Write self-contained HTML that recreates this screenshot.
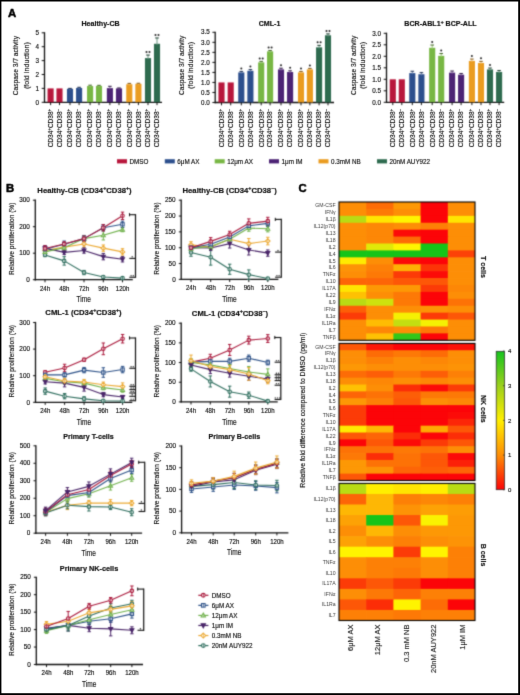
<!DOCTYPE html>
<html><head><meta charset="utf-8"><title>Figure</title>
<style>
html,body{margin:0;padding:0;background:#fff;}
body{width:520px;height:695px;overflow:hidden;position:relative;}
.bd{position:absolute;left:0;top:0;filter:none !important;}
svg{display:block;font-family:"Liberation Sans", sans-serif;}
</style></head><body>
<svg width="520" height="695" viewBox="0 0 520 695">
<defs><filter id="bl" x="0" y="0" width="520" height="695" filterUnits="userSpaceOnUse" color-interpolation-filters="sRGB"><feConvolveMatrix order="3" kernelMatrix="1 4 1 4 16 4 1 4 1" divisor="36" edgeMode="duplicate" preserveAlpha="true"/></filter>
<filter id="bt" x="0" y="0" width="520" height="695" filterUnits="userSpaceOnUse" color-interpolation-filters="sRGB"><feConvolveMatrix order="3" kernelMatrix="0 1 0 1 8 1 0 1 0" divisor="12" edgeMode="none"/></filter></defs>
<g filter="url(#bl)">
<rect x="0" y="0" width="520" height="695" fill="#fff"/>
<line x1="44.5" y1="32.2" x2="44.5" y2="103" stroke="#111" stroke-width="1.3"/>
<line x1="43.9" y1="102.3" x2="162" y2="102.3" stroke="#111" stroke-width="1.3"/>
<line x1="41.7" y1="102.3" x2="44.5" y2="102.3" stroke="#111" stroke-width="1"/>
<line x1="41.7" y1="88.4" x2="44.5" y2="88.4" stroke="#111" stroke-width="1"/>
<line x1="41.7" y1="74.5" x2="44.5" y2="74.5" stroke="#111" stroke-width="1"/>
<line x1="41.7" y1="60.6" x2="44.5" y2="60.6" stroke="#111" stroke-width="1"/>
<line x1="41.7" y1="46.7" x2="44.5" y2="46.7" stroke="#111" stroke-width="1"/>
<line x1="41.7" y1="32.8" x2="44.5" y2="32.8" stroke="#111" stroke-width="1"/>
<rect x="47.55" y="88.4" width="6.1" height="13.9" fill="#b8173c"/>
<line x1="50.6" y1="102.3" x2="50.6" y2="105.1" stroke="#111" stroke-width="1"/>
<rect x="56.45" y="88.4" width="6.1" height="13.9" fill="#b8173c"/>
<line x1="59.5" y1="102.3" x2="59.5" y2="105.1" stroke="#111" stroke-width="1"/>
<rect x="66.95" y="88.82" width="6.1" height="13.48" fill="#2c4f8d"/>
<line x1="70" y1="88.4" x2="70" y2="89.82" stroke="#6b83af" stroke-width="1"/>
<line x1="68.2" y1="88.4" x2="71.8" y2="88.4" stroke="#182b4d" stroke-width="1"/>
<line x1="70" y1="102.3" x2="70" y2="105.1" stroke="#111" stroke-width="1"/>
<rect x="76.05" y="87.98" width="6.1" height="14.32" fill="#2c4f8d"/>
<line x1="79.1" y1="87.29" x2="79.1" y2="88.98" stroke="#6b83af" stroke-width="1"/>
<line x1="77.3" y1="87.29" x2="80.9" y2="87.29" stroke="#182b4d" stroke-width="1"/>
<line x1="79.1" y1="102.3" x2="79.1" y2="105.1" stroke="#111" stroke-width="1"/>
<rect x="87.05" y="86.04" width="6.1" height="16.26" fill="#78b744"/>
<line x1="90.1" y1="85.2" x2="90.1" y2="87.04" stroke="#a0cc7c" stroke-width="1"/>
<line x1="88.3" y1="85.2" x2="91.9" y2="85.2" stroke="#426425" stroke-width="1"/>
<line x1="90.1" y1="102.3" x2="90.1" y2="105.1" stroke="#111" stroke-width="1"/>
<rect x="95.95" y="85.9" width="6.1" height="16.4" fill="#78b744"/>
<line x1="99" y1="85.34" x2="99" y2="86.9" stroke="#a0cc7c" stroke-width="1"/>
<line x1="97.2" y1="85.34" x2="100.8" y2="85.34" stroke="#426425" stroke-width="1"/>
<line x1="99" y1="102.3" x2="99" y2="105.1" stroke="#111" stroke-width="1"/>
<rect x="106.85" y="88.12" width="6.1" height="14.18" fill="#4c2374"/>
<line x1="109.9" y1="86.31" x2="109.9" y2="89.12" stroke="#81659d" stroke-width="1"/>
<line x1="108.1" y1="86.31" x2="111.7" y2="86.31" stroke="#29133f" stroke-width="1"/>
<line x1="109.9" y1="102.3" x2="109.9" y2="105.1" stroke="#111" stroke-width="1"/>
<rect x="115.95" y="88.4" width="6.1" height="13.9" fill="#4c2374"/>
<line x1="119" y1="87.98" x2="119" y2="89.4" stroke="#81659d" stroke-width="1"/>
<line x1="117.2" y1="87.98" x2="120.8" y2="87.98" stroke="#29133f" stroke-width="1"/>
<line x1="119" y1="102.3" x2="119" y2="105.1" stroke="#111" stroke-width="1"/>
<rect x="126.25" y="84.23" width="6.1" height="18.07" fill="#ea9c20"/>
<line x1="129.3" y1="83.4" x2="129.3" y2="85.23" stroke="#f0b962" stroke-width="1"/>
<line x1="127.5" y1="83.4" x2="131.1" y2="83.4" stroke="#805511" stroke-width="1"/>
<line x1="129.3" y1="102.3" x2="129.3" y2="105.1" stroke="#111" stroke-width="1"/>
<rect x="135.35" y="83.81" width="6.1" height="18.49" fill="#ea9c20"/>
<line x1="138.4" y1="83.26" x2="138.4" y2="84.81" stroke="#f0b962" stroke-width="1"/>
<line x1="136.6" y1="83.26" x2="140.2" y2="83.26" stroke="#805511" stroke-width="1"/>
<line x1="138.4" y1="102.3" x2="138.4" y2="105.1" stroke="#111" stroke-width="1"/>
<rect x="144.95" y="58.1" width="6.1" height="44.2" fill="#2e6b4f"/>
<line x1="148" y1="55.04" x2="148" y2="59.1" stroke="#6c9783" stroke-width="1"/>
<line x1="146.2" y1="55.04" x2="149.8" y2="55.04" stroke="#193a2b" stroke-width="1"/>
<line x1="148" y1="102.3" x2="148" y2="105.1" stroke="#111" stroke-width="1"/>
<circle cx="146.5" cy="52.04" r="1" fill="#222"/>
<circle cx="149.5" cy="52.04" r="1" fill="#222"/>
<rect x="153.95" y="43.78" width="6.1" height="58.52" fill="#2e6b4f"/>
<line x1="157" y1="37.94" x2="157" y2="44.78" stroke="#6c9783" stroke-width="1"/>
<line x1="155.2" y1="37.94" x2="158.8" y2="37.94" stroke="#193a2b" stroke-width="1"/>
<line x1="157" y1="102.3" x2="157" y2="105.1" stroke="#111" stroke-width="1"/>
<circle cx="155.5" cy="34.94" r="1" fill="#222"/>
<circle cx="158.5" cy="34.94" r="1" fill="#222"/>
<line x1="215.2" y1="31.69" x2="215.2" y2="103.2" stroke="#111" stroke-width="1.3"/>
<line x1="214.6" y1="102.5" x2="334" y2="102.5" stroke="#111" stroke-width="1.3"/>
<line x1="212.4" y1="102.5" x2="215.2" y2="102.5" stroke="#111" stroke-width="1"/>
<line x1="212.4" y1="92.47" x2="215.2" y2="92.47" stroke="#111" stroke-width="1"/>
<line x1="212.4" y1="82.44" x2="215.2" y2="82.44" stroke="#111" stroke-width="1"/>
<line x1="212.4" y1="72.41" x2="215.2" y2="72.41" stroke="#111" stroke-width="1"/>
<line x1="212.4" y1="62.38" x2="215.2" y2="62.38" stroke="#111" stroke-width="1"/>
<line x1="212.4" y1="52.35" x2="215.2" y2="52.35" stroke="#111" stroke-width="1"/>
<line x1="212.4" y1="42.32" x2="215.2" y2="42.32" stroke="#111" stroke-width="1"/>
<line x1="212.4" y1="32.29" x2="215.2" y2="32.29" stroke="#111" stroke-width="1"/>
<rect x="218.45" y="82.44" width="6.1" height="20.06" fill="#b8173c"/>
<line x1="221.5" y1="102.5" x2="221.5" y2="105.3" stroke="#111" stroke-width="1"/>
<rect x="227.65" y="82.44" width="6.1" height="20.06" fill="#b8173c"/>
<line x1="230.7" y1="102.5" x2="230.7" y2="105.3" stroke="#111" stroke-width="1"/>
<rect x="238.25" y="72.41" width="6.1" height="30.09" fill="#2c4f8d"/>
<line x1="241.3" y1="71.41" x2="241.3" y2="73.41" stroke="#6b83af" stroke-width="1"/>
<line x1="239.5" y1="71.41" x2="243.1" y2="71.41" stroke="#182b4d" stroke-width="1"/>
<line x1="241.3" y1="102.5" x2="241.3" y2="105.3" stroke="#111" stroke-width="1"/>
<circle cx="241.3" cy="68.41" r="1" fill="#222"/>
<rect x="247.35" y="70.81" width="6.1" height="31.69" fill="#2c4f8d"/>
<line x1="250.4" y1="69.6" x2="250.4" y2="71.81" stroke="#6b83af" stroke-width="1"/>
<line x1="248.6" y1="69.6" x2="252.2" y2="69.6" stroke="#182b4d" stroke-width="1"/>
<line x1="250.4" y1="102.5" x2="250.4" y2="105.3" stroke="#111" stroke-width="1"/>
<circle cx="250.4" cy="66.6" r="1" fill="#222"/>
<rect x="258.15" y="62.38" width="6.1" height="40.12" fill="#78b744"/>
<line x1="261.2" y1="61.38" x2="261.2" y2="63.38" stroke="#a0cc7c" stroke-width="1"/>
<line x1="259.4" y1="61.38" x2="263" y2="61.38" stroke="#426425" stroke-width="1"/>
<line x1="261.2" y1="102.5" x2="261.2" y2="105.3" stroke="#111" stroke-width="1"/>
<circle cx="259.7" cy="58.38" r="1" fill="#222"/>
<circle cx="262.7" cy="58.38" r="1" fill="#222"/>
<rect x="267.05" y="51.35" width="6.1" height="51.15" fill="#78b744"/>
<line x1="270.1" y1="50.54" x2="270.1" y2="52.35" stroke="#a0cc7c" stroke-width="1"/>
<line x1="268.3" y1="50.54" x2="271.9" y2="50.54" stroke="#426425" stroke-width="1"/>
<line x1="270.1" y1="102.5" x2="270.1" y2="105.3" stroke="#111" stroke-width="1"/>
<circle cx="268.6" cy="47.54" r="1" fill="#222"/>
<circle cx="271.6" cy="47.54" r="1" fill="#222"/>
<rect x="277.95" y="69.4" width="6.1" height="33.1" fill="#4c2374"/>
<line x1="281" y1="68.2" x2="281" y2="70.4" stroke="#81659d" stroke-width="1"/>
<line x1="279.2" y1="68.2" x2="282.8" y2="68.2" stroke="#29133f" stroke-width="1"/>
<line x1="281" y1="102.5" x2="281" y2="105.3" stroke="#111" stroke-width="1"/>
<circle cx="281" cy="65.2" r="1" fill="#222"/>
<rect x="287.05" y="72.01" width="6.1" height="30.49" fill="#4c2374"/>
<line x1="290.1" y1="70.81" x2="290.1" y2="73.01" stroke="#81659d" stroke-width="1"/>
<line x1="288.3" y1="70.81" x2="291.9" y2="70.81" stroke="#29133f" stroke-width="1"/>
<line x1="290.1" y1="102.5" x2="290.1" y2="105.3" stroke="#111" stroke-width="1"/>
<circle cx="290.1" cy="67.81" r="1" fill="#222"/>
<rect x="297.95" y="72.41" width="6.1" height="30.09" fill="#ea9c20"/>
<line x1="301" y1="71.41" x2="301" y2="73.41" stroke="#f0b962" stroke-width="1"/>
<line x1="299.2" y1="71.41" x2="302.8" y2="71.41" stroke="#805511" stroke-width="1"/>
<line x1="301" y1="102.5" x2="301" y2="105.3" stroke="#111" stroke-width="1"/>
<circle cx="301" cy="68.41" r="1" fill="#222"/>
<rect x="306.85" y="69.4" width="6.1" height="33.1" fill="#ea9c20"/>
<line x1="309.9" y1="68.4" x2="309.9" y2="70.4" stroke="#f0b962" stroke-width="1"/>
<line x1="308.1" y1="68.4" x2="311.7" y2="68.4" stroke="#805511" stroke-width="1"/>
<line x1="309.9" y1="102.5" x2="309.9" y2="105.3" stroke="#111" stroke-width="1"/>
<circle cx="309.9" cy="65.4" r="1" fill="#222"/>
<rect x="316.05" y="47.34" width="6.1" height="55.16" fill="#2e6b4f"/>
<line x1="319.1" y1="45.33" x2="319.1" y2="48.34" stroke="#6c9783" stroke-width="1"/>
<line x1="317.3" y1="45.33" x2="320.9" y2="45.33" stroke="#193a2b" stroke-width="1"/>
<line x1="319.1" y1="102.5" x2="319.1" y2="105.3" stroke="#111" stroke-width="1"/>
<circle cx="317.6" cy="42.33" r="1" fill="#222"/>
<circle cx="320.6" cy="42.33" r="1" fill="#222"/>
<rect x="324.95" y="35.3" width="6.1" height="67.2" fill="#2e6b4f"/>
<line x1="328" y1="33.89" x2="328" y2="36.3" stroke="#6c9783" stroke-width="1"/>
<line x1="326.2" y1="33.89" x2="329.8" y2="33.89" stroke="#193a2b" stroke-width="1"/>
<line x1="328" y1="102.5" x2="328" y2="105.3" stroke="#111" stroke-width="1"/>
<circle cx="326.5" cy="30.89" r="1" fill="#222"/>
<circle cx="329.5" cy="30.89" r="1" fill="#222"/>
<line x1="386.5" y1="32.7" x2="386.5" y2="103" stroke="#111" stroke-width="1.3"/>
<line x1="385.9" y1="102.3" x2="504.2" y2="102.3" stroke="#111" stroke-width="1.3"/>
<line x1="383.7" y1="102.3" x2="386.5" y2="102.3" stroke="#111" stroke-width="1"/>
<line x1="383.7" y1="90.8" x2="386.5" y2="90.8" stroke="#111" stroke-width="1"/>
<line x1="383.7" y1="79.3" x2="386.5" y2="79.3" stroke="#111" stroke-width="1"/>
<line x1="383.7" y1="67.8" x2="386.5" y2="67.8" stroke="#111" stroke-width="1"/>
<line x1="383.7" y1="56.3" x2="386.5" y2="56.3" stroke="#111" stroke-width="1"/>
<line x1="383.7" y1="44.8" x2="386.5" y2="44.8" stroke="#111" stroke-width="1"/>
<line x1="383.7" y1="33.3" x2="386.5" y2="33.3" stroke="#111" stroke-width="1"/>
<rect x="389.75" y="79.3" width="6.1" height="23" fill="#b8173c"/>
<line x1="392.8" y1="102.3" x2="392.8" y2="105.1" stroke="#111" stroke-width="1"/>
<rect x="398.75" y="79.3" width="6.1" height="23" fill="#b8173c"/>
<line x1="401.8" y1="102.3" x2="401.8" y2="105.1" stroke="#111" stroke-width="1"/>
<rect x="409.25" y="73.09" width="6.1" height="29.21" fill="#2c4f8d"/>
<line x1="412.3" y1="71.25" x2="412.3" y2="74.09" stroke="#6b83af" stroke-width="1"/>
<line x1="410.5" y1="71.25" x2="414.1" y2="71.25" stroke="#182b4d" stroke-width="1"/>
<line x1="412.3" y1="102.3" x2="412.3" y2="105.1" stroke="#111" stroke-width="1"/>
<rect x="418.35" y="74.24" width="6.1" height="28.06" fill="#2c4f8d"/>
<line x1="421.4" y1="72.63" x2="421.4" y2="75.24" stroke="#6b83af" stroke-width="1"/>
<line x1="419.6" y1="72.63" x2="423.2" y2="72.63" stroke="#182b4d" stroke-width="1"/>
<line x1="421.4" y1="102.3" x2="421.4" y2="105.1" stroke="#111" stroke-width="1"/>
<rect x="429.15" y="47.79" width="6.1" height="54.51" fill="#78b744"/>
<line x1="432.2" y1="45.03" x2="432.2" y2="48.79" stroke="#a0cc7c" stroke-width="1"/>
<line x1="430.4" y1="45.03" x2="434" y2="45.03" stroke="#426425" stroke-width="1"/>
<line x1="432.2" y1="102.3" x2="432.2" y2="105.1" stroke="#111" stroke-width="1"/>
<circle cx="432.2" cy="42.03" r="1" fill="#222"/>
<rect x="438.15" y="55.84" width="6.1" height="46.46" fill="#78b744"/>
<line x1="441.2" y1="53.54" x2="441.2" y2="56.84" stroke="#a0cc7c" stroke-width="1"/>
<line x1="439.4" y1="53.54" x2="443" y2="53.54" stroke="#426425" stroke-width="1"/>
<line x1="441.2" y1="102.3" x2="441.2" y2="105.1" stroke="#111" stroke-width="1"/>
<circle cx="441.2" cy="50.54" r="1" fill="#222"/>
<rect x="449.05" y="72.63" width="6.1" height="29.67" fill="#4c2374"/>
<line x1="452.1" y1="71.02" x2="452.1" y2="73.63" stroke="#81659d" stroke-width="1"/>
<line x1="450.3" y1="71.02" x2="453.9" y2="71.02" stroke="#29133f" stroke-width="1"/>
<line x1="452.1" y1="102.3" x2="452.1" y2="105.1" stroke="#111" stroke-width="1"/>
<rect x="458.05" y="74.7" width="6.1" height="27.6" fill="#4c2374"/>
<line x1="461.1" y1="73.55" x2="461.1" y2="75.7" stroke="#81659d" stroke-width="1"/>
<line x1="459.3" y1="73.55" x2="462.9" y2="73.55" stroke="#29133f" stroke-width="1"/>
<line x1="461.1" y1="102.3" x2="461.1" y2="105.1" stroke="#111" stroke-width="1"/>
<rect x="468.85" y="60.9" width="6.1" height="41.4" fill="#ea9c20"/>
<line x1="471.9" y1="59.06" x2="471.9" y2="61.9" stroke="#f0b962" stroke-width="1"/>
<line x1="470.1" y1="59.06" x2="473.7" y2="59.06" stroke="#805511" stroke-width="1"/>
<line x1="471.9" y1="102.3" x2="471.9" y2="105.1" stroke="#111" stroke-width="1"/>
<circle cx="471.9" cy="56.06" r="1" fill="#222"/>
<rect x="477.95" y="62.97" width="6.1" height="39.33" fill="#ea9c20"/>
<line x1="481" y1="61.36" x2="481" y2="63.97" stroke="#f0b962" stroke-width="1"/>
<line x1="479.2" y1="61.36" x2="482.8" y2="61.36" stroke="#805511" stroke-width="1"/>
<line x1="481" y1="102.3" x2="481" y2="105.1" stroke="#111" stroke-width="1"/>
<circle cx="481" cy="58.36" r="1" fill="#222"/>
<rect x="486.95" y="69.41" width="6.1" height="32.89" fill="#2e6b4f"/>
<line x1="490" y1="68.03" x2="490" y2="70.41" stroke="#6c9783" stroke-width="1"/>
<line x1="488.2" y1="68.03" x2="491.8" y2="68.03" stroke="#193a2b" stroke-width="1"/>
<line x1="490" y1="102.3" x2="490" y2="105.1" stroke="#111" stroke-width="1"/>
<circle cx="490" cy="65.03" r="1" fill="#222"/>
<rect x="496.05" y="71.94" width="6.1" height="30.36" fill="#2e6b4f"/>
<line x1="499.1" y1="70.56" x2="499.1" y2="72.94" stroke="#6c9783" stroke-width="1"/>
<line x1="497.3" y1="70.56" x2="500.9" y2="70.56" stroke="#193a2b" stroke-width="1"/>
<line x1="499.1" y1="102.3" x2="499.1" y2="105.1" stroke="#111" stroke-width="1"/>
<rect x="117" y="159.2" width="10" height="4.2" fill="#b8173c"/>
<rect x="164.8" y="159.2" width="10" height="4.2" fill="#2c4f8d"/>
<rect x="214.7" y="159.2" width="10" height="4.2" fill="#78b744"/>
<rect x="269" y="159.2" width="10" height="4.2" fill="#4c2374"/>
<rect x="318.5" y="159.2" width="10" height="4.2" fill="#ea9c20"/>
<rect x="377" y="159.2" width="10" height="4.2" fill="#2e6b4f"/>
<line x1="35.3" y1="199.6" x2="35.3" y2="280.4" stroke="#111" stroke-width="1.3"/>
<line x1="34.7" y1="279.7" x2="132.8" y2="279.7" stroke="#111" stroke-width="1.3"/>
<line x1="32.9" y1="279.7" x2="35.3" y2="279.7" stroke="#111" stroke-width="1"/>
<line x1="32.9" y1="253.2" x2="35.3" y2="253.2" stroke="#111" stroke-width="1"/>
<line x1="32.9" y1="226.7" x2="35.3" y2="226.7" stroke="#111" stroke-width="1"/>
<line x1="32.9" y1="200.2" x2="35.3" y2="200.2" stroke="#111" stroke-width="1"/>
<line x1="45" y1="279.7" x2="45" y2="282.3" stroke="#111" stroke-width="1"/>
<line x1="64.2" y1="279.7" x2="64.2" y2="282.3" stroke="#111" stroke-width="1"/>
<line x1="84" y1="279.7" x2="84" y2="282.3" stroke="#111" stroke-width="1"/>
<line x1="103.3" y1="279.7" x2="103.3" y2="282.3" stroke="#111" stroke-width="1"/>
<line x1="122.5" y1="279.7" x2="122.5" y2="282.3" stroke="#111" stroke-width="1"/>
<line x1="45" y1="247.9" x2="45" y2="253.2" stroke="#ecaa35" stroke-width="1"/>
<line x1="43.3" y1="247.9" x2="46.7" y2="247.9" stroke="#ecaa35" stroke-width="1"/>
<line x1="43.3" y1="253.2" x2="46.7" y2="253.2" stroke="#ecaa35" stroke-width="1"/>
<line x1="64.2" y1="244.45" x2="64.2" y2="249.75" stroke="#ecaa35" stroke-width="1"/>
<line x1="62.5" y1="244.45" x2="65.9" y2="244.45" stroke="#ecaa35" stroke-width="1"/>
<line x1="62.5" y1="249.75" x2="65.9" y2="249.75" stroke="#ecaa35" stroke-width="1"/>
<line x1="84" y1="240.74" x2="84" y2="247.1" stroke="#ecaa35" stroke-width="1"/>
<line x1="82.3" y1="240.74" x2="85.7" y2="240.74" stroke="#ecaa35" stroke-width="1"/>
<line x1="82.3" y1="247.1" x2="85.7" y2="247.1" stroke="#ecaa35" stroke-width="1"/>
<line x1="103.3" y1="244.98" x2="103.3" y2="251.34" stroke="#ecaa35" stroke-width="1"/>
<line x1="101.6" y1="244.98" x2="105" y2="244.98" stroke="#ecaa35" stroke-width="1"/>
<line x1="101.6" y1="251.34" x2="105" y2="251.34" stroke="#ecaa35" stroke-width="1"/>
<line x1="122.5" y1="248.69" x2="122.5" y2="255.06" stroke="#ecaa35" stroke-width="1"/>
<line x1="120.8" y1="248.69" x2="124.2" y2="248.69" stroke="#ecaa35" stroke-width="1"/>
<line x1="120.8" y1="255.06" x2="124.2" y2="255.06" stroke="#ecaa35" stroke-width="1"/>
<line x1="45" y1="245.51" x2="45" y2="250.81" stroke="#4a2669" stroke-width="1"/>
<line x1="43.3" y1="245.51" x2="46.7" y2="245.51" stroke="#4a2669" stroke-width="1"/>
<line x1="43.3" y1="250.81" x2="46.7" y2="250.81" stroke="#4a2669" stroke-width="1"/>
<line x1="64.2" y1="250.28" x2="64.2" y2="254.52" stroke="#4a2669" stroke-width="1"/>
<line x1="62.5" y1="250.28" x2="65.9" y2="250.28" stroke="#4a2669" stroke-width="1"/>
<line x1="62.5" y1="254.52" x2="65.9" y2="254.52" stroke="#4a2669" stroke-width="1"/>
<line x1="84" y1="247.9" x2="84" y2="253.2" stroke="#4a2669" stroke-width="1"/>
<line x1="82.3" y1="247.9" x2="85.7" y2="247.9" stroke="#4a2669" stroke-width="1"/>
<line x1="82.3" y1="253.2" x2="85.7" y2="253.2" stroke="#4a2669" stroke-width="1"/>
<line x1="103.3" y1="253.46" x2="103.3" y2="259.82" stroke="#4a2669" stroke-width="1"/>
<line x1="101.6" y1="253.46" x2="105" y2="253.46" stroke="#4a2669" stroke-width="1"/>
<line x1="101.6" y1="259.82" x2="105" y2="259.82" stroke="#4a2669" stroke-width="1"/>
<line x1="122.5" y1="256.64" x2="122.5" y2="261.94" stroke="#4a2669" stroke-width="1"/>
<line x1="120.8" y1="256.64" x2="124.2" y2="256.64" stroke="#4a2669" stroke-width="1"/>
<line x1="120.8" y1="261.94" x2="124.2" y2="261.94" stroke="#4a2669" stroke-width="1"/>
<line x1="45" y1="253.46" x2="45" y2="256.64" stroke="#2f6e5e" stroke-width="1"/>
<line x1="43.3" y1="253.46" x2="46.7" y2="253.46" stroke="#2f6e5e" stroke-width="1"/>
<line x1="43.3" y1="256.64" x2="46.7" y2="256.64" stroke="#2f6e5e" stroke-width="1"/>
<line x1="64.2" y1="256.64" x2="64.2" y2="265.12" stroke="#2f6e5e" stroke-width="1"/>
<line x1="62.5" y1="256.64" x2="65.9" y2="256.64" stroke="#2f6e5e" stroke-width="1"/>
<line x1="62.5" y1="265.12" x2="65.9" y2="265.12" stroke="#2f6e5e" stroke-width="1"/>
<line x1="84" y1="270.43" x2="84" y2="274.67" stroke="#2f6e5e" stroke-width="1"/>
<line x1="82.3" y1="270.43" x2="85.7" y2="270.43" stroke="#2f6e5e" stroke-width="1"/>
<line x1="82.3" y1="274.67" x2="85.7" y2="274.67" stroke="#2f6e5e" stroke-width="1"/>
<line x1="103.3" y1="275.73" x2="103.3" y2="278.38" stroke="#2f6e5e" stroke-width="1"/>
<line x1="101.6" y1="275.73" x2="105" y2="275.73" stroke="#2f6e5e" stroke-width="1"/>
<line x1="101.6" y1="278.38" x2="105" y2="278.38" stroke="#2f6e5e" stroke-width="1"/>
<line x1="122.5" y1="277.31" x2="122.5" y2="278.91" stroke="#2f6e5e" stroke-width="1"/>
<line x1="120.8" y1="277.31" x2="124.2" y2="277.31" stroke="#2f6e5e" stroke-width="1"/>
<line x1="120.8" y1="278.91" x2="124.2" y2="278.91" stroke="#2f6e5e" stroke-width="1"/>
<line x1="45" y1="249.75" x2="45" y2="254" stroke="#72b24e" stroke-width="1"/>
<line x1="43.3" y1="249.75" x2="46.7" y2="249.75" stroke="#72b24e" stroke-width="1"/>
<line x1="43.3" y1="254" x2="46.7" y2="254" stroke="#72b24e" stroke-width="1"/>
<line x1="64.2" y1="245.51" x2="64.2" y2="249.75" stroke="#72b24e" stroke-width="1"/>
<line x1="62.5" y1="245.51" x2="65.9" y2="245.51" stroke="#72b24e" stroke-width="1"/>
<line x1="62.5" y1="249.75" x2="65.9" y2="249.75" stroke="#72b24e" stroke-width="1"/>
<line x1="84" y1="235.97" x2="84" y2="241.28" stroke="#72b24e" stroke-width="1"/>
<line x1="82.3" y1="235.97" x2="85.7" y2="235.97" stroke="#72b24e" stroke-width="1"/>
<line x1="82.3" y1="241.28" x2="85.7" y2="241.28" stroke="#72b24e" stroke-width="1"/>
<line x1="103.3" y1="230.41" x2="103.3" y2="239.95" stroke="#72b24e" stroke-width="1"/>
<line x1="101.6" y1="230.41" x2="105" y2="230.41" stroke="#72b24e" stroke-width="1"/>
<line x1="101.6" y1="239.95" x2="105" y2="239.95" stroke="#72b24e" stroke-width="1"/>
<line x1="122.5" y1="227.49" x2="122.5" y2="231.73" stroke="#72b24e" stroke-width="1"/>
<line x1="120.8" y1="227.49" x2="124.2" y2="227.49" stroke="#72b24e" stroke-width="1"/>
<line x1="120.8" y1="231.73" x2="124.2" y2="231.73" stroke="#72b24e" stroke-width="1"/>
<line x1="45" y1="247.1" x2="45" y2="251.34" stroke="#2f5389" stroke-width="1"/>
<line x1="43.3" y1="247.1" x2="46.7" y2="247.1" stroke="#2f5389" stroke-width="1"/>
<line x1="43.3" y1="251.34" x2="46.7" y2="251.34" stroke="#2f5389" stroke-width="1"/>
<line x1="64.2" y1="241.01" x2="64.2" y2="247.37" stroke="#2f5389" stroke-width="1"/>
<line x1="62.5" y1="241.01" x2="65.9" y2="241.01" stroke="#2f5389" stroke-width="1"/>
<line x1="62.5" y1="247.37" x2="65.9" y2="247.37" stroke="#2f5389" stroke-width="1"/>
<line x1="84" y1="235.44" x2="84" y2="241.81" stroke="#2f5389" stroke-width="1"/>
<line x1="82.3" y1="235.44" x2="85.7" y2="235.44" stroke="#2f5389" stroke-width="1"/>
<line x1="82.3" y1="241.81" x2="85.7" y2="241.81" stroke="#2f5389" stroke-width="1"/>
<line x1="103.3" y1="224.58" x2="103.3" y2="230.94" stroke="#2f5389" stroke-width="1"/>
<line x1="101.6" y1="224.58" x2="105" y2="224.58" stroke="#2f5389" stroke-width="1"/>
<line x1="101.6" y1="230.94" x2="105" y2="230.94" stroke="#2f5389" stroke-width="1"/>
<line x1="122.5" y1="221.13" x2="122.5" y2="227.5" stroke="#2f5389" stroke-width="1"/>
<line x1="120.8" y1="221.13" x2="124.2" y2="221.13" stroke="#2f5389" stroke-width="1"/>
<line x1="120.8" y1="227.5" x2="124.2" y2="227.5" stroke="#2f5389" stroke-width="1"/>
<line x1="45" y1="245.78" x2="45" y2="251.08" stroke="#aa1a3c" stroke-width="1"/>
<line x1="43.3" y1="245.78" x2="46.7" y2="245.78" stroke="#aa1a3c" stroke-width="1"/>
<line x1="43.3" y1="251.08" x2="46.7" y2="251.08" stroke="#aa1a3c" stroke-width="1"/>
<line x1="64.2" y1="241.8" x2="64.2" y2="246.04" stroke="#aa1a3c" stroke-width="1"/>
<line x1="62.5" y1="241.8" x2="65.9" y2="241.8" stroke="#aa1a3c" stroke-width="1"/>
<line x1="62.5" y1="246.04" x2="65.9" y2="246.04" stroke="#aa1a3c" stroke-width="1"/>
<line x1="84" y1="235.97" x2="84" y2="241.28" stroke="#aa1a3c" stroke-width="1"/>
<line x1="82.3" y1="235.97" x2="85.7" y2="235.97" stroke="#aa1a3c" stroke-width="1"/>
<line x1="82.3" y1="241.28" x2="85.7" y2="241.28" stroke="#aa1a3c" stroke-width="1"/>
<line x1="103.3" y1="224.58" x2="103.3" y2="230.94" stroke="#aa1a3c" stroke-width="1"/>
<line x1="101.6" y1="224.58" x2="105" y2="224.58" stroke="#aa1a3c" stroke-width="1"/>
<line x1="101.6" y1="230.94" x2="105" y2="230.94" stroke="#aa1a3c" stroke-width="1"/>
<line x1="122.5" y1="212.12" x2="122.5" y2="219.54" stroke="#aa1a3c" stroke-width="1"/>
<line x1="120.8" y1="212.12" x2="124.2" y2="212.12" stroke="#aa1a3c" stroke-width="1"/>
<line x1="120.8" y1="219.54" x2="124.2" y2="219.54" stroke="#aa1a3c" stroke-width="1"/>
<polyline points="45,250.55 64.2,247.1 84,243.92 103.3,248.16 122.5,251.88" fill="none" stroke="#ecaa35" stroke-width="1.1" stroke-linejoin="round"/>
<polyline points="45,248.16 64.2,252.4 84,250.55 103.3,256.64 122.5,259.29" fill="none" stroke="#4a2669" stroke-width="1.1" stroke-linejoin="round"/>
<polyline points="45,255.05 64.2,260.88 84,272.55 103.3,277.05 122.5,278.11" fill="none" stroke="#2f6e5e" stroke-width="1.1" stroke-linejoin="round"/>
<polyline points="45,251.88 64.2,247.63 84,238.62 103.3,235.18 122.5,229.61" fill="none" stroke="#72b24e" stroke-width="1.1" stroke-linejoin="round"/>
<polyline points="45,249.22 64.2,244.19 84,238.62 103.3,227.76 122.5,224.31" fill="none" stroke="#2f5389" stroke-width="1.1" stroke-linejoin="round"/>
<polyline points="45,248.43 64.2,243.92 84,238.62 103.3,227.76 122.5,215.83" fill="none" stroke="#aa1a3c" stroke-width="1.1" stroke-linejoin="round"/>
<path d="M45 248.27L47.27 250.55L45 252.82L42.73 250.55Z" fill="#fff" stroke="#ecaa35" stroke-width="1.05"/>
<line x1="45" y1="248.97" x2="45" y2="252.12" stroke="#ecaa35" stroke-width="0.8"/>
<path d="M64.2 244.83L66.48 247.1L64.2 249.38L61.93 247.1Z" fill="#fff" stroke="#ecaa35" stroke-width="1.05"/>
<line x1="64.2" y1="245.53" x2="64.2" y2="248.68" stroke="#ecaa35" stroke-width="0.8"/>
<path d="M84 241.65L86.28 243.92L84 246.2L81.72 243.92Z" fill="#fff" stroke="#ecaa35" stroke-width="1.05"/>
<line x1="84" y1="242.35" x2="84" y2="245.5" stroke="#ecaa35" stroke-width="0.8"/>
<path d="M103.3 245.89L105.58 248.16L103.3 250.44L101.02 248.16Z" fill="#fff" stroke="#ecaa35" stroke-width="1.05"/>
<line x1="103.3" y1="246.59" x2="103.3" y2="249.74" stroke="#ecaa35" stroke-width="0.8"/>
<path d="M122.5 249.6L124.78 251.88L122.5 254.15L120.22 251.88Z" fill="#fff" stroke="#ecaa35" stroke-width="1.05"/>
<line x1="122.5" y1="250.3" x2="122.5" y2="253.45" stroke="#ecaa35" stroke-width="0.8"/>
<path d="M45 250.35L47.01 246.68L42.99 246.68Z" fill="#4a2669" stroke="#4a2669" stroke-width="1.05"/>
<line x1="45" y1="246.59" x2="45" y2="249.74" stroke="#4a2669" stroke-width="0.8"/>
<path d="M64.2 254.59L66.21 250.92L62.19 250.92Z" fill="#4a2669" stroke="#4a2669" stroke-width="1.05"/>
<line x1="64.2" y1="250.83" x2="64.2" y2="253.98" stroke="#4a2669" stroke-width="0.8"/>
<path d="M84 252.74L86.01 249.06L81.99 249.06Z" fill="#4a2669" stroke="#4a2669" stroke-width="1.05"/>
<line x1="84" y1="248.97" x2="84" y2="252.12" stroke="#4a2669" stroke-width="0.8"/>
<path d="M103.3 258.83L105.31 255.16L101.29 255.16Z" fill="#4a2669" stroke="#4a2669" stroke-width="1.05"/>
<line x1="103.3" y1="255.07" x2="103.3" y2="258.22" stroke="#4a2669" stroke-width="0.8"/>
<path d="M122.5 261.48L124.51 257.81L120.49 257.81Z" fill="#4a2669" stroke="#4a2669" stroke-width="1.05"/>
<line x1="122.5" y1="257.72" x2="122.5" y2="260.87" stroke="#4a2669" stroke-width="0.8"/>
<circle cx="45" cy="255.05" r="1.75" fill="#fff" stroke="#2f6e5e" stroke-width="1.05"/>
<line x1="45" y1="253.48" x2="45" y2="256.63" stroke="#2f6e5e" stroke-width="0.8"/>
<circle cx="64.2" cy="260.88" r="1.75" fill="#fff" stroke="#2f6e5e" stroke-width="1.05"/>
<line x1="64.2" y1="259.31" x2="64.2" y2="262.46" stroke="#2f6e5e" stroke-width="0.8"/>
<circle cx="84" cy="272.55" r="1.75" fill="#fff" stroke="#2f6e5e" stroke-width="1.05"/>
<line x1="84" y1="270.97" x2="84" y2="274.12" stroke="#2f6e5e" stroke-width="0.8"/>
<circle cx="103.3" cy="277.05" r="1.75" fill="#fff" stroke="#2f6e5e" stroke-width="1.05"/>
<line x1="103.3" y1="275.48" x2="103.3" y2="278.62" stroke="#2f6e5e" stroke-width="0.8"/>
<circle cx="122.5" cy="278.11" r="1.75" fill="#fff" stroke="#2f6e5e" stroke-width="1.05"/>
<line x1="122.5" y1="276.54" x2="122.5" y2="279.69" stroke="#2f6e5e" stroke-width="0.8"/>
<path d="M45 249.69L47.01 253.36L42.99 253.36Z" fill="#fff" stroke="#72b24e" stroke-width="1.05"/>
<line x1="45" y1="250.3" x2="45" y2="253.45" stroke="#72b24e" stroke-width="0.8"/>
<path d="M64.2 245.45L66.21 249.12L62.19 249.12Z" fill="#fff" stroke="#72b24e" stroke-width="1.05"/>
<line x1="64.2" y1="246.06" x2="64.2" y2="249.21" stroke="#72b24e" stroke-width="0.8"/>
<path d="M84 236.44L86.01 240.11L81.99 240.11Z" fill="#fff" stroke="#72b24e" stroke-width="1.05"/>
<line x1="84" y1="237.05" x2="84" y2="240.2" stroke="#72b24e" stroke-width="0.8"/>
<path d="M103.3 232.99L105.31 236.67L101.29 236.67Z" fill="#fff" stroke="#72b24e" stroke-width="1.05"/>
<line x1="103.3" y1="233.6" x2="103.3" y2="236.75" stroke="#72b24e" stroke-width="0.8"/>
<path d="M122.5 227.43L124.51 231.1L120.49 231.1Z" fill="#fff" stroke="#72b24e" stroke-width="1.05"/>
<line x1="122.5" y1="228.04" x2="122.5" y2="231.19" stroke="#72b24e" stroke-width="0.8"/>
<rect x="43.34" y="247.56" width="3.32" height="3.32" fill="#fff" stroke="#2f5389" stroke-width="1.05"/>
<line x1="45" y1="247.65" x2="45" y2="250.8" stroke="#2f5389" stroke-width="0.8"/>
<rect x="62.54" y="242.53" width="3.32" height="3.32" fill="#fff" stroke="#2f5389" stroke-width="1.05"/>
<line x1="64.2" y1="242.62" x2="64.2" y2="245.76" stroke="#2f5389" stroke-width="0.8"/>
<rect x="82.34" y="236.96" width="3.32" height="3.32" fill="#fff" stroke="#2f5389" stroke-width="1.05"/>
<line x1="84" y1="237.05" x2="84" y2="240.2" stroke="#2f5389" stroke-width="0.8"/>
<rect x="101.64" y="226.1" width="3.32" height="3.32" fill="#fff" stroke="#2f5389" stroke-width="1.05"/>
<line x1="103.3" y1="226.19" x2="103.3" y2="229.33" stroke="#2f5389" stroke-width="0.8"/>
<rect x="120.84" y="222.65" width="3.32" height="3.32" fill="#fff" stroke="#2f5389" stroke-width="1.05"/>
<line x1="122.5" y1="222.74" x2="122.5" y2="225.89" stroke="#2f5389" stroke-width="0.8"/>
<circle cx="45" cy="248.43" r="1.75" fill="#fff" stroke="#aa1a3c" stroke-width="1.05"/>
<line x1="45" y1="246.85" x2="45" y2="250" stroke="#aa1a3c" stroke-width="0.8"/>
<circle cx="64.2" cy="243.92" r="1.75" fill="#fff" stroke="#aa1a3c" stroke-width="1.05"/>
<line x1="64.2" y1="242.35" x2="64.2" y2="245.5" stroke="#aa1a3c" stroke-width="0.8"/>
<circle cx="84" cy="238.62" r="1.75" fill="#fff" stroke="#aa1a3c" stroke-width="1.05"/>
<line x1="84" y1="237.05" x2="84" y2="240.2" stroke="#aa1a3c" stroke-width="0.8"/>
<circle cx="103.3" cy="227.76" r="1.75" fill="#fff" stroke="#aa1a3c" stroke-width="1.05"/>
<line x1="103.3" y1="226.19" x2="103.3" y2="229.33" stroke="#aa1a3c" stroke-width="0.8"/>
<circle cx="122.5" cy="215.83" r="1.75" fill="#fff" stroke="#aa1a3c" stroke-width="1.05"/>
<line x1="122.5" y1="214.26" x2="122.5" y2="217.41" stroke="#aa1a3c" stroke-width="0.8"/>
<line x1="135.5" y1="214.1" x2="135.5" y2="277.9" stroke="#111" stroke-width="1.2"/>
<line x1="129.3" y1="214.7" x2="135.5" y2="214.7" stroke="#111" stroke-width="1.1"/>
<line x1="129.5" y1="213.1" x2="129.5" y2="216.3" stroke="#111" stroke-width="1"/>
<line x1="129.3" y1="258.4" x2="135.5" y2="258.4" stroke="#111" stroke-width="1.1"/>
<circle cx="132.2" cy="256.8" r="0.7" fill="#2a2a2a"/>
<line x1="129.3" y1="277.3" x2="135.5" y2="277.3" stroke="#111" stroke-width="1.1"/>
<circle cx="131.1" cy="275.7" r="0.7" fill="#2a2a2a"/>
<circle cx="133.3" cy="275.7" r="0.7" fill="#2a2a2a"/>
<line x1="181.2" y1="199.6" x2="181.2" y2="280.1" stroke="#111" stroke-width="1.3"/>
<line x1="180.6" y1="279.4" x2="278.4" y2="279.4" stroke="#111" stroke-width="1.3"/>
<line x1="178.8" y1="279.4" x2="181.2" y2="279.4" stroke="#111" stroke-width="1"/>
<line x1="178.8" y1="263.56" x2="181.2" y2="263.56" stroke="#111" stroke-width="1"/>
<line x1="178.8" y1="247.72" x2="181.2" y2="247.72" stroke="#111" stroke-width="1"/>
<line x1="178.8" y1="231.88" x2="181.2" y2="231.88" stroke="#111" stroke-width="1"/>
<line x1="178.8" y1="216.04" x2="181.2" y2="216.04" stroke="#111" stroke-width="1"/>
<line x1="178.8" y1="200.2" x2="181.2" y2="200.2" stroke="#111" stroke-width="1"/>
<line x1="191" y1="279.4" x2="191" y2="282" stroke="#111" stroke-width="1"/>
<line x1="210.7" y1="279.4" x2="210.7" y2="282" stroke="#111" stroke-width="1"/>
<line x1="229.7" y1="279.4" x2="229.7" y2="282" stroke="#111" stroke-width="1"/>
<line x1="248.8" y1="279.4" x2="248.8" y2="282" stroke="#111" stroke-width="1"/>
<line x1="267.8" y1="279.4" x2="267.8" y2="282" stroke="#111" stroke-width="1"/>
<line x1="191" y1="241.7" x2="191" y2="248.04" stroke="#ecaa35" stroke-width="1"/>
<line x1="189.3" y1="241.7" x2="192.7" y2="241.7" stroke="#ecaa35" stroke-width="1"/>
<line x1="189.3" y1="248.04" x2="192.7" y2="248.04" stroke="#ecaa35" stroke-width="1"/>
<line x1="210.7" y1="244.55" x2="210.7" y2="249.62" stroke="#ecaa35" stroke-width="1"/>
<line x1="209" y1="244.55" x2="212.4" y2="244.55" stroke="#ecaa35" stroke-width="1"/>
<line x1="209" y1="249.62" x2="212.4" y2="249.62" stroke="#ecaa35" stroke-width="1"/>
<line x1="229.7" y1="235.36" x2="229.7" y2="242.97" stroke="#ecaa35" stroke-width="1"/>
<line x1="228" y1="235.36" x2="231.4" y2="235.36" stroke="#ecaa35" stroke-width="1"/>
<line x1="228" y1="242.97" x2="231.4" y2="242.97" stroke="#ecaa35" stroke-width="1"/>
<line x1="248.8" y1="238.53" x2="248.8" y2="248.67" stroke="#ecaa35" stroke-width="1"/>
<line x1="247.1" y1="238.53" x2="250.5" y2="238.53" stroke="#ecaa35" stroke-width="1"/>
<line x1="247.1" y1="248.67" x2="250.5" y2="248.67" stroke="#ecaa35" stroke-width="1"/>
<line x1="267.8" y1="237.27" x2="267.8" y2="244.87" stroke="#ecaa35" stroke-width="1"/>
<line x1="266.1" y1="237.27" x2="269.5" y2="237.27" stroke="#ecaa35" stroke-width="1"/>
<line x1="266.1" y1="244.87" x2="269.5" y2="244.87" stroke="#ecaa35" stroke-width="1"/>
<line x1="191" y1="245.82" x2="191" y2="249.62" stroke="#4a2669" stroke-width="1"/>
<line x1="189.3" y1="245.82" x2="192.7" y2="245.82" stroke="#4a2669" stroke-width="1"/>
<line x1="189.3" y1="249.62" x2="192.7" y2="249.62" stroke="#4a2669" stroke-width="1"/>
<line x1="210.7" y1="245.5" x2="210.7" y2="250.57" stroke="#4a2669" stroke-width="1"/>
<line x1="209" y1="245.5" x2="212.4" y2="245.5" stroke="#4a2669" stroke-width="1"/>
<line x1="209" y1="250.57" x2="212.4" y2="250.57" stroke="#4a2669" stroke-width="1"/>
<line x1="229.7" y1="239.17" x2="229.7" y2="248.04" stroke="#4a2669" stroke-width="1"/>
<line x1="228" y1="239.17" x2="231.4" y2="239.17" stroke="#4a2669" stroke-width="1"/>
<line x1="228" y1="248.04" x2="231.4" y2="248.04" stroke="#4a2669" stroke-width="1"/>
<line x1="248.8" y1="244.87" x2="248.8" y2="255.01" stroke="#4a2669" stroke-width="1"/>
<line x1="247.1" y1="244.87" x2="250.5" y2="244.87" stroke="#4a2669" stroke-width="1"/>
<line x1="247.1" y1="255.01" x2="250.5" y2="255.01" stroke="#4a2669" stroke-width="1"/>
<line x1="267.8" y1="249.94" x2="267.8" y2="256.27" stroke="#4a2669" stroke-width="1"/>
<line x1="266.1" y1="249.94" x2="269.5" y2="249.94" stroke="#4a2669" stroke-width="1"/>
<line x1="266.1" y1="256.27" x2="269.5" y2="256.27" stroke="#4a2669" stroke-width="1"/>
<line x1="191" y1="248.67" x2="191" y2="256.27" stroke="#2f6e5e" stroke-width="1"/>
<line x1="189.3" y1="248.67" x2="192.7" y2="248.67" stroke="#2f6e5e" stroke-width="1"/>
<line x1="189.3" y1="256.27" x2="192.7" y2="256.27" stroke="#2f6e5e" stroke-width="1"/>
<line x1="210.7" y1="249.3" x2="210.7" y2="265.14" stroke="#2f6e5e" stroke-width="1"/>
<line x1="209" y1="249.3" x2="212.4" y2="249.3" stroke="#2f6e5e" stroke-width="1"/>
<line x1="209" y1="265.14" x2="212.4" y2="265.14" stroke="#2f6e5e" stroke-width="1"/>
<line x1="229.7" y1="264.19" x2="229.7" y2="274.33" stroke="#2f6e5e" stroke-width="1"/>
<line x1="228" y1="264.19" x2="231.4" y2="264.19" stroke="#2f6e5e" stroke-width="1"/>
<line x1="228" y1="274.33" x2="231.4" y2="274.33" stroke="#2f6e5e" stroke-width="1"/>
<line x1="248.8" y1="269.9" x2="248.8" y2="279.4" stroke="#2f6e5e" stroke-width="1"/>
<line x1="247.1" y1="269.9" x2="250.5" y2="269.9" stroke="#2f6e5e" stroke-width="1"/>
<line x1="247.1" y1="279.4" x2="250.5" y2="279.4" stroke="#2f6e5e" stroke-width="1"/>
<line x1="267.8" y1="277.5" x2="267.8" y2="279.4" stroke="#2f6e5e" stroke-width="1"/>
<line x1="266.1" y1="277.5" x2="269.5" y2="277.5" stroke="#2f6e5e" stroke-width="1"/>
<line x1="266.1" y1="279.4" x2="269.5" y2="279.4" stroke="#2f6e5e" stroke-width="1"/>
<line x1="191" y1="246.77" x2="191" y2="250.57" stroke="#72b24e" stroke-width="1"/>
<line x1="189.3" y1="246.77" x2="192.7" y2="246.77" stroke="#72b24e" stroke-width="1"/>
<line x1="189.3" y1="250.57" x2="192.7" y2="250.57" stroke="#72b24e" stroke-width="1"/>
<line x1="210.7" y1="243.92" x2="210.7" y2="248.99" stroke="#72b24e" stroke-width="1"/>
<line x1="209" y1="243.92" x2="212.4" y2="243.92" stroke="#72b24e" stroke-width="1"/>
<line x1="209" y1="248.99" x2="212.4" y2="248.99" stroke="#72b24e" stroke-width="1"/>
<line x1="229.7" y1="236" x2="229.7" y2="242.33" stroke="#72b24e" stroke-width="1"/>
<line x1="228" y1="236" x2="231.4" y2="236" stroke="#72b24e" stroke-width="1"/>
<line x1="228" y1="242.33" x2="231.4" y2="242.33" stroke="#72b24e" stroke-width="1"/>
<line x1="248.8" y1="224.91" x2="248.8" y2="231.25" stroke="#72b24e" stroke-width="1"/>
<line x1="247.1" y1="224.91" x2="250.5" y2="224.91" stroke="#72b24e" stroke-width="1"/>
<line x1="247.1" y1="231.25" x2="250.5" y2="231.25" stroke="#72b24e" stroke-width="1"/>
<line x1="267.8" y1="225.54" x2="267.8" y2="231.88" stroke="#72b24e" stroke-width="1"/>
<line x1="266.1" y1="225.54" x2="269.5" y2="225.54" stroke="#72b24e" stroke-width="1"/>
<line x1="266.1" y1="231.88" x2="269.5" y2="231.88" stroke="#72b24e" stroke-width="1"/>
<line x1="191" y1="245.82" x2="191" y2="249.62" stroke="#2f5389" stroke-width="1"/>
<line x1="189.3" y1="245.82" x2="192.7" y2="245.82" stroke="#2f5389" stroke-width="1"/>
<line x1="189.3" y1="249.62" x2="192.7" y2="249.62" stroke="#2f5389" stroke-width="1"/>
<line x1="210.7" y1="241.07" x2="210.7" y2="247.4" stroke="#2f5389" stroke-width="1"/>
<line x1="209" y1="241.07" x2="212.4" y2="241.07" stroke="#2f5389" stroke-width="1"/>
<line x1="209" y1="247.4" x2="212.4" y2="247.4" stroke="#2f5389" stroke-width="1"/>
<line x1="229.7" y1="233.78" x2="229.7" y2="240.12" stroke="#2f5389" stroke-width="1"/>
<line x1="228" y1="233.78" x2="231.4" y2="233.78" stroke="#2f5389" stroke-width="1"/>
<line x1="228" y1="240.12" x2="231.4" y2="240.12" stroke="#2f5389" stroke-width="1"/>
<line x1="248.8" y1="222.69" x2="248.8" y2="229.03" stroke="#2f5389" stroke-width="1"/>
<line x1="247.1" y1="222.69" x2="250.5" y2="222.69" stroke="#2f5389" stroke-width="1"/>
<line x1="247.1" y1="229.03" x2="250.5" y2="229.03" stroke="#2f5389" stroke-width="1"/>
<line x1="267.8" y1="220.16" x2="267.8" y2="226.49" stroke="#2f5389" stroke-width="1"/>
<line x1="266.1" y1="220.16" x2="269.5" y2="220.16" stroke="#2f5389" stroke-width="1"/>
<line x1="266.1" y1="226.49" x2="269.5" y2="226.49" stroke="#2f5389" stroke-width="1"/>
<line x1="191" y1="245.82" x2="191" y2="249.62" stroke="#aa1a3c" stroke-width="1"/>
<line x1="189.3" y1="245.82" x2="192.7" y2="245.82" stroke="#aa1a3c" stroke-width="1"/>
<line x1="189.3" y1="249.62" x2="192.7" y2="249.62" stroke="#aa1a3c" stroke-width="1"/>
<line x1="210.7" y1="237.58" x2="210.7" y2="245.19" stroke="#aa1a3c" stroke-width="1"/>
<line x1="209" y1="237.58" x2="212.4" y2="237.58" stroke="#aa1a3c" stroke-width="1"/>
<line x1="209" y1="245.19" x2="212.4" y2="245.19" stroke="#aa1a3c" stroke-width="1"/>
<line x1="229.7" y1="231.25" x2="229.7" y2="237.58" stroke="#aa1a3c" stroke-width="1"/>
<line x1="228" y1="231.25" x2="231.4" y2="231.25" stroke="#aa1a3c" stroke-width="1"/>
<line x1="228" y1="237.58" x2="231.4" y2="237.58" stroke="#aa1a3c" stroke-width="1"/>
<line x1="248.8" y1="218.89" x2="248.8" y2="227.76" stroke="#aa1a3c" stroke-width="1"/>
<line x1="247.1" y1="218.89" x2="250.5" y2="218.89" stroke="#aa1a3c" stroke-width="1"/>
<line x1="247.1" y1="227.76" x2="250.5" y2="227.76" stroke="#aa1a3c" stroke-width="1"/>
<line x1="267.8" y1="217.31" x2="267.8" y2="224.91" stroke="#aa1a3c" stroke-width="1"/>
<line x1="266.1" y1="217.31" x2="269.5" y2="217.31" stroke="#aa1a3c" stroke-width="1"/>
<line x1="266.1" y1="224.91" x2="269.5" y2="224.91" stroke="#aa1a3c" stroke-width="1"/>
<polyline points="191,244.87 210.7,247.09 229.7,239.17 248.8,243.6 267.8,241.07" fill="none" stroke="#ecaa35" stroke-width="1.1" stroke-linejoin="round"/>
<polyline points="191,247.72 210.7,248.04 229.7,243.6 248.8,249.94 267.8,253.11" fill="none" stroke="#4a2669" stroke-width="1.1" stroke-linejoin="round"/>
<polyline points="191,252.47 210.7,257.22 229.7,269.26 248.8,274.65 267.8,278.45" fill="none" stroke="#2f6e5e" stroke-width="1.1" stroke-linejoin="round"/>
<polyline points="191,248.67 210.7,246.45 229.7,239.17 248.8,228.08 267.8,228.71" fill="none" stroke="#72b24e" stroke-width="1.1" stroke-linejoin="round"/>
<polyline points="191,247.72 210.7,244.24 229.7,236.95 248.8,225.86 267.8,223.33" fill="none" stroke="#2f5389" stroke-width="1.1" stroke-linejoin="round"/>
<polyline points="191,247.72 210.7,241.38 229.7,234.41 248.8,223.33 267.8,221.11" fill="none" stroke="#aa1a3c" stroke-width="1.1" stroke-linejoin="round"/>
<path d="M191 242.59L193.28 244.87L191 247.14L188.72 244.87Z" fill="#fff" stroke="#ecaa35" stroke-width="1.05"/>
<line x1="191" y1="243.29" x2="191" y2="246.44" stroke="#ecaa35" stroke-width="0.8"/>
<path d="M210.7 244.81L212.97 247.09L210.7 249.36L208.42 247.09Z" fill="#fff" stroke="#ecaa35" stroke-width="1.05"/>
<line x1="210.7" y1="245.51" x2="210.7" y2="248.66" stroke="#ecaa35" stroke-width="0.8"/>
<path d="M229.7 236.89L231.97 239.17L229.7 241.44L227.42 239.17Z" fill="#fff" stroke="#ecaa35" stroke-width="1.05"/>
<line x1="229.7" y1="237.59" x2="229.7" y2="240.74" stroke="#ecaa35" stroke-width="0.8"/>
<path d="M248.8 241.33L251.08 243.6L248.8 245.88L246.53 243.6Z" fill="#fff" stroke="#ecaa35" stroke-width="1.05"/>
<line x1="248.8" y1="242.03" x2="248.8" y2="245.18" stroke="#ecaa35" stroke-width="0.8"/>
<path d="M267.8 238.79L270.07 241.07L267.8 243.34L265.53 241.07Z" fill="#fff" stroke="#ecaa35" stroke-width="1.05"/>
<line x1="267.8" y1="239.49" x2="267.8" y2="242.64" stroke="#ecaa35" stroke-width="0.8"/>
<path d="M191 249.91L193.01 246.23L188.99 246.23Z" fill="#4a2669" stroke="#4a2669" stroke-width="1.05"/>
<line x1="191" y1="246.14" x2="191" y2="249.29" stroke="#4a2669" stroke-width="0.8"/>
<path d="M210.7 250.22L212.71 246.55L208.69 246.55Z" fill="#4a2669" stroke="#4a2669" stroke-width="1.05"/>
<line x1="210.7" y1="246.46" x2="210.7" y2="249.61" stroke="#4a2669" stroke-width="0.8"/>
<path d="M229.7 245.79L231.71 242.11L227.69 242.11Z" fill="#4a2669" stroke="#4a2669" stroke-width="1.05"/>
<line x1="229.7" y1="242.03" x2="229.7" y2="245.18" stroke="#4a2669" stroke-width="0.8"/>
<path d="M248.8 252.13L250.81 248.45L246.79 248.45Z" fill="#4a2669" stroke="#4a2669" stroke-width="1.05"/>
<line x1="248.8" y1="248.36" x2="248.8" y2="251.51" stroke="#4a2669" stroke-width="0.8"/>
<path d="M267.8 255.29L269.81 251.62L265.79 251.62Z" fill="#4a2669" stroke="#4a2669" stroke-width="1.05"/>
<line x1="267.8" y1="251.53" x2="267.8" y2="254.68" stroke="#4a2669" stroke-width="0.8"/>
<circle cx="191" cy="252.47" r="1.75" fill="#fff" stroke="#2f6e5e" stroke-width="1.05"/>
<line x1="191" y1="250.9" x2="191" y2="254.05" stroke="#2f6e5e" stroke-width="0.8"/>
<circle cx="210.7" cy="257.22" r="1.75" fill="#fff" stroke="#2f6e5e" stroke-width="1.05"/>
<line x1="210.7" y1="255.65" x2="210.7" y2="258.8" stroke="#2f6e5e" stroke-width="0.8"/>
<circle cx="229.7" cy="269.26" r="1.75" fill="#fff" stroke="#2f6e5e" stroke-width="1.05"/>
<line x1="229.7" y1="267.69" x2="229.7" y2="270.84" stroke="#2f6e5e" stroke-width="0.8"/>
<circle cx="248.8" cy="274.65" r="1.75" fill="#fff" stroke="#2f6e5e" stroke-width="1.05"/>
<line x1="248.8" y1="273.07" x2="248.8" y2="276.22" stroke="#2f6e5e" stroke-width="0.8"/>
<circle cx="267.8" cy="278.45" r="1.75" fill="#fff" stroke="#2f6e5e" stroke-width="1.05"/>
<line x1="267.8" y1="276.87" x2="267.8" y2="280.02" stroke="#2f6e5e" stroke-width="0.8"/>
<path d="M191 246.48L193.01 250.16L188.99 250.16Z" fill="#fff" stroke="#72b24e" stroke-width="1.05"/>
<line x1="191" y1="247.1" x2="191" y2="250.25" stroke="#72b24e" stroke-width="0.8"/>
<path d="M210.7 244.27L212.71 247.94L208.69 247.94Z" fill="#fff" stroke="#72b24e" stroke-width="1.05"/>
<line x1="210.7" y1="244.88" x2="210.7" y2="248.03" stroke="#72b24e" stroke-width="0.8"/>
<path d="M229.7 236.98L231.71 240.65L227.69 240.65Z" fill="#fff" stroke="#72b24e" stroke-width="1.05"/>
<line x1="229.7" y1="237.59" x2="229.7" y2="240.74" stroke="#72b24e" stroke-width="0.8"/>
<path d="M248.8 225.89L250.81 229.57L246.79 229.57Z" fill="#fff" stroke="#72b24e" stroke-width="1.05"/>
<line x1="248.8" y1="226.5" x2="248.8" y2="229.65" stroke="#72b24e" stroke-width="0.8"/>
<path d="M267.8 226.52L269.81 230.2L265.79 230.2Z" fill="#fff" stroke="#72b24e" stroke-width="1.05"/>
<line x1="267.8" y1="227.14" x2="267.8" y2="230.29" stroke="#72b24e" stroke-width="0.8"/>
<rect x="189.34" y="246.06" width="3.32" height="3.32" fill="#fff" stroke="#2f5389" stroke-width="1.05"/>
<line x1="191" y1="246.14" x2="191" y2="249.29" stroke="#2f5389" stroke-width="0.8"/>
<rect x="209.04" y="242.57" width="3.32" height="3.32" fill="#fff" stroke="#2f5389" stroke-width="1.05"/>
<line x1="210.7" y1="242.66" x2="210.7" y2="245.81" stroke="#2f5389" stroke-width="0.8"/>
<rect x="228.04" y="235.29" width="3.32" height="3.32" fill="#fff" stroke="#2f5389" stroke-width="1.05"/>
<line x1="229.7" y1="235.37" x2="229.7" y2="238.52" stroke="#2f5389" stroke-width="0.8"/>
<rect x="247.14" y="224.2" width="3.32" height="3.32" fill="#fff" stroke="#2f5389" stroke-width="1.05"/>
<line x1="248.8" y1="224.29" x2="248.8" y2="227.44" stroke="#2f5389" stroke-width="0.8"/>
<rect x="266.14" y="221.66" width="3.32" height="3.32" fill="#fff" stroke="#2f5389" stroke-width="1.05"/>
<line x1="267.8" y1="221.75" x2="267.8" y2="224.9" stroke="#2f5389" stroke-width="0.8"/>
<circle cx="191" cy="247.72" r="1.75" fill="#fff" stroke="#aa1a3c" stroke-width="1.05"/>
<line x1="191" y1="246.14" x2="191" y2="249.29" stroke="#aa1a3c" stroke-width="0.8"/>
<circle cx="210.7" cy="241.38" r="1.75" fill="#fff" stroke="#aa1a3c" stroke-width="1.05"/>
<line x1="210.7" y1="239.81" x2="210.7" y2="242.96" stroke="#aa1a3c" stroke-width="0.8"/>
<circle cx="229.7" cy="234.41" r="1.75" fill="#fff" stroke="#aa1a3c" stroke-width="1.05"/>
<line x1="229.7" y1="232.84" x2="229.7" y2="235.99" stroke="#aa1a3c" stroke-width="0.8"/>
<circle cx="248.8" cy="223.33" r="1.75" fill="#fff" stroke="#aa1a3c" stroke-width="1.05"/>
<line x1="248.8" y1="221.75" x2="248.8" y2="224.9" stroke="#aa1a3c" stroke-width="0.8"/>
<circle cx="267.8" cy="221.11" r="1.75" fill="#fff" stroke="#aa1a3c" stroke-width="1.05"/>
<line x1="267.8" y1="219.53" x2="267.8" y2="222.68" stroke="#aa1a3c" stroke-width="0.8"/>
<line x1="281.3" y1="218.8" x2="281.3" y2="277.8" stroke="#111" stroke-width="1.2"/>
<line x1="275.1" y1="219.4" x2="281.3" y2="219.4" stroke="#111" stroke-width="1.1"/>
<line x1="275.3" y1="217.8" x2="275.3" y2="221" stroke="#111" stroke-width="1"/>
<line x1="275.1" y1="252.1" x2="281.3" y2="252.1" stroke="#111" stroke-width="1.1"/>
<circle cx="278" cy="250.5" r="0.7" fill="#2a2a2a"/>
<line x1="275.1" y1="277.2" x2="281.3" y2="277.2" stroke="#111" stroke-width="1.1"/>
<circle cx="276.9" cy="275.6" r="0.7" fill="#2a2a2a"/>
<circle cx="279.1" cy="275.6" r="0.7" fill="#2a2a2a"/>
<line x1="35.5" y1="321.9" x2="35.5" y2="403" stroke="#111" stroke-width="1.3"/>
<line x1="34.9" y1="402.3" x2="132.3" y2="402.3" stroke="#111" stroke-width="1.3"/>
<line x1="33.1" y1="402.3" x2="35.5" y2="402.3" stroke="#111" stroke-width="1"/>
<line x1="33.1" y1="375.7" x2="35.5" y2="375.7" stroke="#111" stroke-width="1"/>
<line x1="33.1" y1="349.1" x2="35.5" y2="349.1" stroke="#111" stroke-width="1"/>
<line x1="33.1" y1="322.5" x2="35.5" y2="322.5" stroke="#111" stroke-width="1"/>
<line x1="45.2" y1="402.3" x2="45.2" y2="404.9" stroke="#111" stroke-width="1"/>
<line x1="64.6" y1="402.3" x2="64.6" y2="404.9" stroke="#111" stroke-width="1"/>
<line x1="84.1" y1="402.3" x2="84.1" y2="404.9" stroke="#111" stroke-width="1"/>
<line x1="103.3" y1="402.3" x2="103.3" y2="404.9" stroke="#111" stroke-width="1"/>
<line x1="122.6" y1="402.3" x2="122.6" y2="404.9" stroke="#111" stroke-width="1"/>
<line x1="45.2" y1="370.65" x2="45.2" y2="373.84" stroke="#aa1a3c" stroke-width="1"/>
<line x1="43.5" y1="370.65" x2="46.9" y2="370.65" stroke="#aa1a3c" stroke-width="1"/>
<line x1="43.5" y1="373.84" x2="46.9" y2="373.84" stroke="#aa1a3c" stroke-width="1"/>
<line x1="64.6" y1="364.26" x2="64.6" y2="371.71" stroke="#aa1a3c" stroke-width="1"/>
<line x1="62.9" y1="364.26" x2="66.3" y2="364.26" stroke="#aa1a3c" stroke-width="1"/>
<line x1="62.9" y1="371.71" x2="66.3" y2="371.71" stroke="#aa1a3c" stroke-width="1"/>
<line x1="84.1" y1="358.14" x2="84.1" y2="361.34" stroke="#aa1a3c" stroke-width="1"/>
<line x1="82.4" y1="358.14" x2="85.8" y2="358.14" stroke="#aa1a3c" stroke-width="1"/>
<line x1="82.4" y1="361.34" x2="85.8" y2="361.34" stroke="#aa1a3c" stroke-width="1"/>
<line x1="103.3" y1="342.98" x2="103.3" y2="354.69" stroke="#aa1a3c" stroke-width="1"/>
<line x1="101.6" y1="342.98" x2="105" y2="342.98" stroke="#aa1a3c" stroke-width="1"/>
<line x1="101.6" y1="354.69" x2="105" y2="354.69" stroke="#aa1a3c" stroke-width="1"/>
<line x1="122.6" y1="334.47" x2="122.6" y2="342.98" stroke="#aa1a3c" stroke-width="1"/>
<line x1="120.9" y1="334.47" x2="124.3" y2="334.47" stroke="#aa1a3c" stroke-width="1"/>
<line x1="120.9" y1="342.98" x2="124.3" y2="342.98" stroke="#aa1a3c" stroke-width="1"/>
<line x1="45.2" y1="372.77" x2="45.2" y2="377.03" stroke="#2f5389" stroke-width="1"/>
<line x1="43.5" y1="372.77" x2="46.9" y2="372.77" stroke="#2f5389" stroke-width="1"/>
<line x1="43.5" y1="377.03" x2="46.9" y2="377.03" stroke="#2f5389" stroke-width="1"/>
<line x1="64.6" y1="372.77" x2="64.6" y2="377.03" stroke="#2f5389" stroke-width="1"/>
<line x1="62.9" y1="372.77" x2="66.3" y2="372.77" stroke="#2f5389" stroke-width="1"/>
<line x1="62.9" y1="377.03" x2="66.3" y2="377.03" stroke="#2f5389" stroke-width="1"/>
<line x1="84.1" y1="367.45" x2="84.1" y2="372.77" stroke="#2f5389" stroke-width="1"/>
<line x1="82.4" y1="367.45" x2="85.8" y2="367.45" stroke="#2f5389" stroke-width="1"/>
<line x1="82.4" y1="372.77" x2="85.8" y2="372.77" stroke="#2f5389" stroke-width="1"/>
<line x1="103.3" y1="367.72" x2="103.3" y2="377.3" stroke="#2f5389" stroke-width="1"/>
<line x1="101.6" y1="367.72" x2="105" y2="367.72" stroke="#2f5389" stroke-width="1"/>
<line x1="101.6" y1="377.3" x2="105" y2="377.3" stroke="#2f5389" stroke-width="1"/>
<line x1="122.6" y1="366.39" x2="122.6" y2="372.77" stroke="#2f5389" stroke-width="1"/>
<line x1="120.9" y1="366.39" x2="124.3" y2="366.39" stroke="#2f5389" stroke-width="1"/>
<line x1="120.9" y1="372.77" x2="124.3" y2="372.77" stroke="#2f5389" stroke-width="1"/>
<line x1="45.2" y1="376.23" x2="45.2" y2="380.49" stroke="#72b24e" stroke-width="1"/>
<line x1="43.5" y1="376.23" x2="46.9" y2="376.23" stroke="#72b24e" stroke-width="1"/>
<line x1="43.5" y1="380.49" x2="46.9" y2="380.49" stroke="#72b24e" stroke-width="1"/>
<line x1="64.6" y1="379.69" x2="64.6" y2="383.95" stroke="#72b24e" stroke-width="1"/>
<line x1="62.9" y1="379.69" x2="66.3" y2="379.69" stroke="#72b24e" stroke-width="1"/>
<line x1="62.9" y1="383.95" x2="66.3" y2="383.95" stroke="#72b24e" stroke-width="1"/>
<line x1="84.1" y1="381.02" x2="84.1" y2="385.28" stroke="#72b24e" stroke-width="1"/>
<line x1="82.4" y1="381.02" x2="85.8" y2="381.02" stroke="#72b24e" stroke-width="1"/>
<line x1="82.4" y1="385.28" x2="85.8" y2="385.28" stroke="#72b24e" stroke-width="1"/>
<line x1="103.3" y1="385.54" x2="103.3" y2="389.8" stroke="#72b24e" stroke-width="1"/>
<line x1="101.6" y1="385.54" x2="105" y2="385.54" stroke="#72b24e" stroke-width="1"/>
<line x1="101.6" y1="389.8" x2="105" y2="389.8" stroke="#72b24e" stroke-width="1"/>
<line x1="122.6" y1="387.94" x2="122.6" y2="392.19" stroke="#72b24e" stroke-width="1"/>
<line x1="120.9" y1="387.94" x2="124.3" y2="387.94" stroke="#72b24e" stroke-width="1"/>
<line x1="120.9" y1="392.19" x2="124.3" y2="392.19" stroke="#72b24e" stroke-width="1"/>
<line x1="45.2" y1="379.69" x2="45.2" y2="383.95" stroke="#4a2669" stroke-width="1"/>
<line x1="43.5" y1="379.69" x2="46.9" y2="379.69" stroke="#4a2669" stroke-width="1"/>
<line x1="43.5" y1="383.95" x2="46.9" y2="383.95" stroke="#4a2669" stroke-width="1"/>
<line x1="64.6" y1="379.42" x2="64.6" y2="386.87" stroke="#4a2669" stroke-width="1"/>
<line x1="62.9" y1="379.42" x2="66.3" y2="379.42" stroke="#4a2669" stroke-width="1"/>
<line x1="62.9" y1="386.87" x2="66.3" y2="386.87" stroke="#4a2669" stroke-width="1"/>
<line x1="84.1" y1="383.68" x2="84.1" y2="391.13" stroke="#4a2669" stroke-width="1"/>
<line x1="82.4" y1="383.68" x2="85.8" y2="383.68" stroke="#4a2669" stroke-width="1"/>
<line x1="82.4" y1="391.13" x2="85.8" y2="391.13" stroke="#4a2669" stroke-width="1"/>
<line x1="103.3" y1="392.46" x2="103.3" y2="396.71" stroke="#4a2669" stroke-width="1"/>
<line x1="101.6" y1="392.46" x2="105" y2="392.46" stroke="#4a2669" stroke-width="1"/>
<line x1="101.6" y1="396.71" x2="105" y2="396.71" stroke="#4a2669" stroke-width="1"/>
<line x1="122.6" y1="395.38" x2="122.6" y2="398.58" stroke="#4a2669" stroke-width="1"/>
<line x1="120.9" y1="395.38" x2="124.3" y2="395.38" stroke="#4a2669" stroke-width="1"/>
<line x1="120.9" y1="398.58" x2="124.3" y2="398.58" stroke="#4a2669" stroke-width="1"/>
<line x1="45.2" y1="374.64" x2="45.2" y2="378.89" stroke="#ecaa35" stroke-width="1"/>
<line x1="43.5" y1="374.64" x2="46.9" y2="374.64" stroke="#ecaa35" stroke-width="1"/>
<line x1="43.5" y1="378.89" x2="46.9" y2="378.89" stroke="#ecaa35" stroke-width="1"/>
<line x1="64.6" y1="378.36" x2="64.6" y2="383.68" stroke="#ecaa35" stroke-width="1"/>
<line x1="62.9" y1="378.36" x2="66.3" y2="378.36" stroke="#ecaa35" stroke-width="1"/>
<line x1="62.9" y1="383.68" x2="66.3" y2="383.68" stroke="#ecaa35" stroke-width="1"/>
<line x1="84.1" y1="379.42" x2="84.1" y2="384.74" stroke="#ecaa35" stroke-width="1"/>
<line x1="82.4" y1="379.42" x2="85.8" y2="379.42" stroke="#ecaa35" stroke-width="1"/>
<line x1="82.4" y1="384.74" x2="85.8" y2="384.74" stroke="#ecaa35" stroke-width="1"/>
<line x1="103.3" y1="382.08" x2="103.3" y2="387.4" stroke="#ecaa35" stroke-width="1"/>
<line x1="101.6" y1="382.08" x2="105" y2="382.08" stroke="#ecaa35" stroke-width="1"/>
<line x1="101.6" y1="387.4" x2="105" y2="387.4" stroke="#ecaa35" stroke-width="1"/>
<line x1="122.6" y1="382.88" x2="122.6" y2="390.33" stroke="#ecaa35" stroke-width="1"/>
<line x1="120.9" y1="382.88" x2="124.3" y2="382.88" stroke="#ecaa35" stroke-width="1"/>
<line x1="120.9" y1="390.33" x2="124.3" y2="390.33" stroke="#ecaa35" stroke-width="1"/>
<line x1="45.2" y1="387.94" x2="45.2" y2="394.32" stroke="#2f6e5e" stroke-width="1"/>
<line x1="43.5" y1="387.94" x2="46.9" y2="387.94" stroke="#2f6e5e" stroke-width="1"/>
<line x1="43.5" y1="394.32" x2="46.9" y2="394.32" stroke="#2f6e5e" stroke-width="1"/>
<line x1="64.6" y1="393.52" x2="64.6" y2="398.84" stroke="#2f6e5e" stroke-width="1"/>
<line x1="62.9" y1="393.52" x2="66.3" y2="393.52" stroke="#2f6e5e" stroke-width="1"/>
<line x1="62.9" y1="398.84" x2="66.3" y2="398.84" stroke="#2f6e5e" stroke-width="1"/>
<line x1="84.1" y1="396.71" x2="84.1" y2="400.97" stroke="#2f6e5e" stroke-width="1"/>
<line x1="82.4" y1="396.71" x2="85.8" y2="396.71" stroke="#2f6e5e" stroke-width="1"/>
<line x1="82.4" y1="400.97" x2="85.8" y2="400.97" stroke="#2f6e5e" stroke-width="1"/>
<line x1="103.3" y1="399.64" x2="103.3" y2="401.77" stroke="#2f6e5e" stroke-width="1"/>
<line x1="101.6" y1="399.64" x2="105" y2="399.64" stroke="#2f6e5e" stroke-width="1"/>
<line x1="101.6" y1="401.77" x2="105" y2="401.77" stroke="#2f6e5e" stroke-width="1"/>
<line x1="122.6" y1="400.44" x2="122.6" y2="401.5" stroke="#2f6e5e" stroke-width="1"/>
<line x1="120.9" y1="400.44" x2="124.3" y2="400.44" stroke="#2f6e5e" stroke-width="1"/>
<line x1="120.9" y1="401.5" x2="124.3" y2="401.5" stroke="#2f6e5e" stroke-width="1"/>
<polyline points="45.2,372.24 64.6,367.99 84.1,359.74 103.3,348.83 122.6,338.73" fill="none" stroke="#aa1a3c" stroke-width="1.1" stroke-linejoin="round"/>
<polyline points="45.2,374.9 64.6,374.9 84.1,370.11 103.3,372.51 122.6,369.58" fill="none" stroke="#2f5389" stroke-width="1.1" stroke-linejoin="round"/>
<polyline points="45.2,378.36 64.6,381.82 84.1,383.15 103.3,387.67 122.6,390.06" fill="none" stroke="#72b24e" stroke-width="1.1" stroke-linejoin="round"/>
<polyline points="45.2,381.82 64.6,383.15 84.1,387.4 103.3,394.59 122.6,396.98" fill="none" stroke="#4a2669" stroke-width="1.1" stroke-linejoin="round"/>
<polyline points="45.2,376.76 64.6,381.02 84.1,382.08 103.3,384.74 122.6,386.61" fill="none" stroke="#ecaa35" stroke-width="1.1" stroke-linejoin="round"/>
<polyline points="45.2,391.13 64.6,396.18 84.1,398.84 103.3,400.7 122.6,400.97" fill="none" stroke="#2f6e5e" stroke-width="1.1" stroke-linejoin="round"/>
<circle cx="45.2" cy="372.24" r="1.75" fill="#fff" stroke="#aa1a3c" stroke-width="1.05"/>
<line x1="45.2" y1="370.67" x2="45.2" y2="373.82" stroke="#aa1a3c" stroke-width="0.8"/>
<circle cx="64.6" cy="367.99" r="1.75" fill="#fff" stroke="#aa1a3c" stroke-width="1.05"/>
<line x1="64.6" y1="366.41" x2="64.6" y2="369.56" stroke="#aa1a3c" stroke-width="0.8"/>
<circle cx="84.1" cy="359.74" r="1.75" fill="#fff" stroke="#aa1a3c" stroke-width="1.05"/>
<line x1="84.1" y1="358.17" x2="84.1" y2="361.31" stroke="#aa1a3c" stroke-width="0.8"/>
<circle cx="103.3" cy="348.83" r="1.75" fill="#fff" stroke="#aa1a3c" stroke-width="1.05"/>
<line x1="103.3" y1="347.26" x2="103.3" y2="350.41" stroke="#aa1a3c" stroke-width="0.8"/>
<circle cx="122.6" cy="338.73" r="1.75" fill="#fff" stroke="#aa1a3c" stroke-width="1.05"/>
<line x1="122.6" y1="337.15" x2="122.6" y2="340.3" stroke="#aa1a3c" stroke-width="0.8"/>
<rect x="43.54" y="373.24" width="3.32" height="3.32" fill="#fff" stroke="#2f5389" stroke-width="1.05"/>
<line x1="45.2" y1="373.33" x2="45.2" y2="376.48" stroke="#2f5389" stroke-width="0.8"/>
<rect x="62.94" y="373.24" width="3.32" height="3.32" fill="#fff" stroke="#2f5389" stroke-width="1.05"/>
<line x1="64.6" y1="373.33" x2="64.6" y2="376.48" stroke="#2f5389" stroke-width="0.8"/>
<rect x="82.44" y="368.45" width="3.32" height="3.32" fill="#fff" stroke="#2f5389" stroke-width="1.05"/>
<line x1="84.1" y1="368.54" x2="84.1" y2="371.69" stroke="#2f5389" stroke-width="0.8"/>
<rect x="101.64" y="370.85" width="3.32" height="3.32" fill="#fff" stroke="#2f5389" stroke-width="1.05"/>
<line x1="103.3" y1="370.93" x2="103.3" y2="374.08" stroke="#2f5389" stroke-width="0.8"/>
<rect x="120.94" y="367.92" width="3.32" height="3.32" fill="#fff" stroke="#2f5389" stroke-width="1.05"/>
<line x1="122.6" y1="368.01" x2="122.6" y2="371.16" stroke="#2f5389" stroke-width="0.8"/>
<path d="M45.2 376.17L47.21 379.85L43.19 379.85Z" fill="#fff" stroke="#72b24e" stroke-width="1.05"/>
<line x1="45.2" y1="376.79" x2="45.2" y2="379.94" stroke="#72b24e" stroke-width="0.8"/>
<path d="M64.6 379.63L66.61 383.31L62.59 383.31Z" fill="#fff" stroke="#72b24e" stroke-width="1.05"/>
<line x1="64.6" y1="380.24" x2="64.6" y2="383.39" stroke="#72b24e" stroke-width="0.8"/>
<path d="M84.1 380.96L86.11 384.64L82.09 384.64Z" fill="#fff" stroke="#72b24e" stroke-width="1.05"/>
<line x1="84.1" y1="381.57" x2="84.1" y2="384.72" stroke="#72b24e" stroke-width="0.8"/>
<path d="M103.3 385.48L105.31 389.16L101.29 389.16Z" fill="#fff" stroke="#72b24e" stroke-width="1.05"/>
<line x1="103.3" y1="386.1" x2="103.3" y2="389.25" stroke="#72b24e" stroke-width="0.8"/>
<path d="M122.6 387.88L124.61 391.55L120.59 391.55Z" fill="#fff" stroke="#72b24e" stroke-width="1.05"/>
<line x1="122.6" y1="388.49" x2="122.6" y2="391.64" stroke="#72b24e" stroke-width="0.8"/>
<path d="M45.2 384.01L47.21 380.33L43.19 380.33Z" fill="#4a2669" stroke="#4a2669" stroke-width="1.05"/>
<line x1="45.2" y1="380.24" x2="45.2" y2="383.39" stroke="#4a2669" stroke-width="0.8"/>
<path d="M64.6 385.34L66.61 381.66L62.59 381.66Z" fill="#4a2669" stroke="#4a2669" stroke-width="1.05"/>
<line x1="64.6" y1="381.57" x2="64.6" y2="384.72" stroke="#4a2669" stroke-width="0.8"/>
<path d="M84.1 389.59L86.11 385.92L82.09 385.92Z" fill="#4a2669" stroke="#4a2669" stroke-width="1.05"/>
<line x1="84.1" y1="385.83" x2="84.1" y2="388.98" stroke="#4a2669" stroke-width="0.8"/>
<path d="M103.3 396.77L105.31 393.1L101.29 393.1Z" fill="#4a2669" stroke="#4a2669" stroke-width="1.05"/>
<line x1="103.3" y1="393.01" x2="103.3" y2="396.16" stroke="#4a2669" stroke-width="0.8"/>
<path d="M122.6 399.17L124.61 395.49L120.59 395.49Z" fill="#4a2669" stroke="#4a2669" stroke-width="1.05"/>
<line x1="122.6" y1="395.41" x2="122.6" y2="398.56" stroke="#4a2669" stroke-width="0.8"/>
<path d="M45.2 374.49L47.48 376.76L45.2 379.04L42.93 376.76Z" fill="#fff" stroke="#ecaa35" stroke-width="1.05"/>
<line x1="45.2" y1="375.19" x2="45.2" y2="378.34" stroke="#ecaa35" stroke-width="0.8"/>
<path d="M64.6 378.75L66.88 381.02L64.6 383.29L62.32 381.02Z" fill="#fff" stroke="#ecaa35" stroke-width="1.05"/>
<line x1="64.6" y1="379.44" x2="64.6" y2="382.59" stroke="#ecaa35" stroke-width="0.8"/>
<path d="M84.1 379.81L86.38 382.08L84.1 384.36L81.82 382.08Z" fill="#fff" stroke="#ecaa35" stroke-width="1.05"/>
<line x1="84.1" y1="380.51" x2="84.1" y2="383.66" stroke="#ecaa35" stroke-width="0.8"/>
<path d="M103.3 382.47L105.58 384.74L103.3 387.02L101.02 384.74Z" fill="#fff" stroke="#ecaa35" stroke-width="1.05"/>
<line x1="103.3" y1="383.17" x2="103.3" y2="386.32" stroke="#ecaa35" stroke-width="0.8"/>
<path d="M122.6 384.33L124.88 386.61L122.6 388.88L120.32 386.61Z" fill="#fff" stroke="#ecaa35" stroke-width="1.05"/>
<line x1="122.6" y1="385.03" x2="122.6" y2="388.18" stroke="#ecaa35" stroke-width="0.8"/>
<circle cx="45.2" cy="391.13" r="1.75" fill="#fff" stroke="#2f6e5e" stroke-width="1.05"/>
<line x1="45.2" y1="389.55" x2="45.2" y2="392.7" stroke="#2f6e5e" stroke-width="0.8"/>
<circle cx="64.6" cy="396.18" r="1.75" fill="#fff" stroke="#2f6e5e" stroke-width="1.05"/>
<line x1="64.6" y1="394.61" x2="64.6" y2="397.76" stroke="#2f6e5e" stroke-width="0.8"/>
<circle cx="84.1" cy="398.84" r="1.75" fill="#fff" stroke="#2f6e5e" stroke-width="1.05"/>
<line x1="84.1" y1="397.27" x2="84.1" y2="400.42" stroke="#2f6e5e" stroke-width="0.8"/>
<circle cx="103.3" cy="400.7" r="1.75" fill="#fff" stroke="#2f6e5e" stroke-width="1.05"/>
<line x1="103.3" y1="399.13" x2="103.3" y2="402.28" stroke="#2f6e5e" stroke-width="0.8"/>
<circle cx="122.6" cy="400.97" r="1.75" fill="#fff" stroke="#2f6e5e" stroke-width="1.05"/>
<line x1="122.6" y1="399.4" x2="122.6" y2="402.55" stroke="#2f6e5e" stroke-width="0.8"/>
<line x1="135.5" y1="337.4" x2="135.5" y2="401.3" stroke="#111" stroke-width="1.2"/>
<line x1="129.3" y1="338" x2="135.5" y2="338" stroke="#111" stroke-width="1.1"/>
<line x1="129.5" y1="336.4" x2="129.5" y2="339.6" stroke="#111" stroke-width="1"/>
<line x1="129.3" y1="368.3" x2="135.5" y2="368.3" stroke="#111" stroke-width="1.1"/>
<circle cx="131.1" cy="366.7" r="0.7" fill="#2a2a2a"/>
<circle cx="133.3" cy="366.7" r="0.7" fill="#2a2a2a"/>
<line x1="129.3" y1="386.3" x2="135.5" y2="386.3" stroke="#111" stroke-width="1.1"/>
<circle cx="131.1" cy="384.7" r="0.7" fill="#2a2a2a"/>
<circle cx="133.3" cy="384.7" r="0.7" fill="#2a2a2a"/>
<line x1="129.3" y1="389.6" x2="135.5" y2="389.6" stroke="#111" stroke-width="1.1"/>
<circle cx="131.1" cy="388" r="0.7" fill="#2a2a2a"/>
<circle cx="133.3" cy="388" r="0.7" fill="#2a2a2a"/>
<line x1="129.3" y1="393" x2="135.5" y2="393" stroke="#111" stroke-width="1.1"/>
<circle cx="131.1" cy="391.4" r="0.7" fill="#2a2a2a"/>
<circle cx="133.3" cy="391.4" r="0.7" fill="#2a2a2a"/>
<line x1="129.3" y1="396.3" x2="135.5" y2="396.3" stroke="#111" stroke-width="1.1"/>
<circle cx="132.2" cy="394.7" r="0.7" fill="#2a2a2a"/>
<line x1="129.3" y1="400.7" x2="135.5" y2="400.7" stroke="#111" stroke-width="1.1"/>
<circle cx="131.1" cy="399.1" r="0.7" fill="#2a2a2a"/>
<circle cx="133.3" cy="399.1" r="0.7" fill="#2a2a2a"/>
<line x1="181.2" y1="322.6" x2="181.2" y2="402.6" stroke="#111" stroke-width="1.3"/>
<line x1="180.6" y1="401.9" x2="277.7" y2="401.9" stroke="#111" stroke-width="1.3"/>
<line x1="178.8" y1="401.9" x2="181.2" y2="401.9" stroke="#111" stroke-width="1"/>
<line x1="178.8" y1="382.22" x2="181.2" y2="382.22" stroke="#111" stroke-width="1"/>
<line x1="178.8" y1="362.55" x2="181.2" y2="362.55" stroke="#111" stroke-width="1"/>
<line x1="178.8" y1="342.88" x2="181.2" y2="342.88" stroke="#111" stroke-width="1"/>
<line x1="178.8" y1="323.2" x2="181.2" y2="323.2" stroke="#111" stroke-width="1"/>
<line x1="191" y1="401.9" x2="191" y2="404.5" stroke="#111" stroke-width="1"/>
<line x1="210.3" y1="401.9" x2="210.3" y2="404.5" stroke="#111" stroke-width="1"/>
<line x1="229.7" y1="401.9" x2="229.7" y2="404.5" stroke="#111" stroke-width="1"/>
<line x1="248.8" y1="401.9" x2="248.8" y2="404.5" stroke="#111" stroke-width="1"/>
<line x1="267.8" y1="401.9" x2="267.8" y2="404.5" stroke="#111" stroke-width="1"/>
<line x1="191" y1="359.8" x2="191" y2="364.52" stroke="#aa1a3c" stroke-width="1"/>
<line x1="189.3" y1="359.8" x2="192.7" y2="359.8" stroke="#aa1a3c" stroke-width="1"/>
<line x1="189.3" y1="364.52" x2="192.7" y2="364.52" stroke="#aa1a3c" stroke-width="1"/>
<line x1="210.3" y1="354.29" x2="210.3" y2="362.16" stroke="#aa1a3c" stroke-width="1"/>
<line x1="208.6" y1="354.29" x2="212" y2="354.29" stroke="#aa1a3c" stroke-width="1"/>
<line x1="208.6" y1="362.16" x2="212" y2="362.16" stroke="#aa1a3c" stroke-width="1"/>
<line x1="229.7" y1="344.45" x2="229.7" y2="355.47" stroke="#aa1a3c" stroke-width="1"/>
<line x1="228" y1="344.45" x2="231.4" y2="344.45" stroke="#aa1a3c" stroke-width="1"/>
<line x1="228" y1="355.47" x2="231.4" y2="355.47" stroke="#aa1a3c" stroke-width="1"/>
<line x1="248.8" y1="336.19" x2="248.8" y2="344.06" stroke="#aa1a3c" stroke-width="1"/>
<line x1="247.1" y1="336.19" x2="250.5" y2="336.19" stroke="#aa1a3c" stroke-width="1"/>
<line x1="247.1" y1="344.06" x2="250.5" y2="344.06" stroke="#aa1a3c" stroke-width="1"/>
<line x1="267.8" y1="334.61" x2="267.8" y2="342.48" stroke="#aa1a3c" stroke-width="1"/>
<line x1="266.1" y1="334.61" x2="269.5" y2="334.61" stroke="#aa1a3c" stroke-width="1"/>
<line x1="266.1" y1="342.48" x2="269.5" y2="342.48" stroke="#aa1a3c" stroke-width="1"/>
<line x1="191" y1="359.8" x2="191" y2="364.52" stroke="#2f5389" stroke-width="1"/>
<line x1="189.3" y1="359.8" x2="192.7" y2="359.8" stroke="#2f5389" stroke-width="1"/>
<line x1="189.3" y1="364.52" x2="192.7" y2="364.52" stroke="#2f5389" stroke-width="1"/>
<line x1="210.3" y1="358.22" x2="210.3" y2="364.52" stroke="#2f5389" stroke-width="1"/>
<line x1="208.6" y1="358.22" x2="212" y2="358.22" stroke="#2f5389" stroke-width="1"/>
<line x1="208.6" y1="364.52" x2="212" y2="364.52" stroke="#2f5389" stroke-width="1"/>
<line x1="229.7" y1="358.22" x2="229.7" y2="364.52" stroke="#2f5389" stroke-width="1"/>
<line x1="228" y1="358.22" x2="231.4" y2="358.22" stroke="#2f5389" stroke-width="1"/>
<line x1="228" y1="364.52" x2="231.4" y2="364.52" stroke="#2f5389" stroke-width="1"/>
<line x1="248.8" y1="355.07" x2="248.8" y2="361.37" stroke="#2f5389" stroke-width="1"/>
<line x1="247.1" y1="355.07" x2="250.5" y2="355.07" stroke="#2f5389" stroke-width="1"/>
<line x1="247.1" y1="361.37" x2="250.5" y2="361.37" stroke="#2f5389" stroke-width="1"/>
<line x1="267.8" y1="360.19" x2="267.8" y2="364.91" stroke="#2f5389" stroke-width="1"/>
<line x1="266.1" y1="360.19" x2="269.5" y2="360.19" stroke="#2f5389" stroke-width="1"/>
<line x1="266.1" y1="364.91" x2="269.5" y2="364.91" stroke="#2f5389" stroke-width="1"/>
<line x1="191" y1="358.61" x2="191" y2="366.48" stroke="#72b24e" stroke-width="1"/>
<line x1="189.3" y1="358.61" x2="192.7" y2="358.61" stroke="#72b24e" stroke-width="1"/>
<line x1="189.3" y1="366.48" x2="192.7" y2="366.48" stroke="#72b24e" stroke-width="1"/>
<line x1="210.3" y1="360.98" x2="210.3" y2="368.85" stroke="#72b24e" stroke-width="1"/>
<line x1="208.6" y1="360.98" x2="212" y2="360.98" stroke="#72b24e" stroke-width="1"/>
<line x1="208.6" y1="368.85" x2="212" y2="368.85" stroke="#72b24e" stroke-width="1"/>
<line x1="229.7" y1="364.52" x2="229.7" y2="372.39" stroke="#72b24e" stroke-width="1"/>
<line x1="228" y1="364.52" x2="231.4" y2="364.52" stroke="#72b24e" stroke-width="1"/>
<line x1="228" y1="372.39" x2="231.4" y2="372.39" stroke="#72b24e" stroke-width="1"/>
<line x1="248.8" y1="366.48" x2="248.8" y2="377.5" stroke="#72b24e" stroke-width="1"/>
<line x1="247.1" y1="366.48" x2="250.5" y2="366.48" stroke="#72b24e" stroke-width="1"/>
<line x1="247.1" y1="377.5" x2="250.5" y2="377.5" stroke="#72b24e" stroke-width="1"/>
<line x1="267.8" y1="368.85" x2="267.8" y2="379.86" stroke="#72b24e" stroke-width="1"/>
<line x1="266.1" y1="368.85" x2="269.5" y2="368.85" stroke="#72b24e" stroke-width="1"/>
<line x1="266.1" y1="379.86" x2="269.5" y2="379.86" stroke="#72b24e" stroke-width="1"/>
<line x1="191" y1="361.76" x2="191" y2="368.06" stroke="#4a2669" stroke-width="1"/>
<line x1="189.3" y1="361.76" x2="192.7" y2="361.76" stroke="#4a2669" stroke-width="1"/>
<line x1="189.3" y1="368.06" x2="192.7" y2="368.06" stroke="#4a2669" stroke-width="1"/>
<line x1="210.3" y1="365.7" x2="210.3" y2="373.57" stroke="#4a2669" stroke-width="1"/>
<line x1="208.6" y1="365.7" x2="212" y2="365.7" stroke="#4a2669" stroke-width="1"/>
<line x1="208.6" y1="373.57" x2="212" y2="373.57" stroke="#4a2669" stroke-width="1"/>
<line x1="229.7" y1="369.24" x2="229.7" y2="377.11" stroke="#4a2669" stroke-width="1"/>
<line x1="228" y1="369.24" x2="231.4" y2="369.24" stroke="#4a2669" stroke-width="1"/>
<line x1="228" y1="377.11" x2="231.4" y2="377.11" stroke="#4a2669" stroke-width="1"/>
<line x1="248.8" y1="372.39" x2="248.8" y2="380.26" stroke="#4a2669" stroke-width="1"/>
<line x1="247.1" y1="372.39" x2="250.5" y2="372.39" stroke="#4a2669" stroke-width="1"/>
<line x1="247.1" y1="380.26" x2="250.5" y2="380.26" stroke="#4a2669" stroke-width="1"/>
<line x1="267.8" y1="375.93" x2="267.8" y2="382.23" stroke="#4a2669" stroke-width="1"/>
<line x1="266.1" y1="375.93" x2="269.5" y2="375.93" stroke="#4a2669" stroke-width="1"/>
<line x1="266.1" y1="382.23" x2="269.5" y2="382.23" stroke="#4a2669" stroke-width="1"/>
<line x1="191" y1="355.07" x2="191" y2="366.09" stroke="#ecaa35" stroke-width="1"/>
<line x1="189.3" y1="355.07" x2="192.7" y2="355.07" stroke="#ecaa35" stroke-width="1"/>
<line x1="189.3" y1="366.09" x2="192.7" y2="366.09" stroke="#ecaa35" stroke-width="1"/>
<line x1="210.3" y1="362.55" x2="210.3" y2="370.42" stroke="#ecaa35" stroke-width="1"/>
<line x1="208.6" y1="362.55" x2="212" y2="362.55" stroke="#ecaa35" stroke-width="1"/>
<line x1="208.6" y1="370.42" x2="212" y2="370.42" stroke="#ecaa35" stroke-width="1"/>
<line x1="229.7" y1="365.7" x2="229.7" y2="373.57" stroke="#ecaa35" stroke-width="1"/>
<line x1="228" y1="365.7" x2="231.4" y2="365.7" stroke="#ecaa35" stroke-width="1"/>
<line x1="228" y1="373.57" x2="231.4" y2="373.57" stroke="#ecaa35" stroke-width="1"/>
<line x1="248.8" y1="367.67" x2="248.8" y2="380.26" stroke="#ecaa35" stroke-width="1"/>
<line x1="247.1" y1="367.67" x2="250.5" y2="367.67" stroke="#ecaa35" stroke-width="1"/>
<line x1="247.1" y1="380.26" x2="250.5" y2="380.26" stroke="#ecaa35" stroke-width="1"/>
<line x1="267.8" y1="377.5" x2="267.8" y2="383.8" stroke="#ecaa35" stroke-width="1"/>
<line x1="266.1" y1="377.5" x2="269.5" y2="377.5" stroke="#ecaa35" stroke-width="1"/>
<line x1="266.1" y1="383.8" x2="269.5" y2="383.8" stroke="#ecaa35" stroke-width="1"/>
<line x1="191" y1="366.49" x2="191" y2="371.21" stroke="#2f6e5e" stroke-width="1"/>
<line x1="189.3" y1="366.49" x2="192.7" y2="366.49" stroke="#2f6e5e" stroke-width="1"/>
<line x1="189.3" y1="371.21" x2="192.7" y2="371.21" stroke="#2f6e5e" stroke-width="1"/>
<line x1="210.3" y1="375.93" x2="210.3" y2="386.95" stroke="#2f6e5e" stroke-width="1"/>
<line x1="208.6" y1="375.93" x2="212" y2="375.93" stroke="#2f6e5e" stroke-width="1"/>
<line x1="208.6" y1="386.95" x2="212" y2="386.95" stroke="#2f6e5e" stroke-width="1"/>
<line x1="229.7" y1="386.16" x2="229.7" y2="397.18" stroke="#2f6e5e" stroke-width="1"/>
<line x1="228" y1="386.16" x2="231.4" y2="386.16" stroke="#2f6e5e" stroke-width="1"/>
<line x1="228" y1="397.18" x2="231.4" y2="397.18" stroke="#2f6e5e" stroke-width="1"/>
<line x1="248.8" y1="392.06" x2="248.8" y2="398.36" stroke="#2f6e5e" stroke-width="1"/>
<line x1="247.1" y1="392.06" x2="250.5" y2="392.06" stroke="#2f6e5e" stroke-width="1"/>
<line x1="247.1" y1="398.36" x2="250.5" y2="398.36" stroke="#2f6e5e" stroke-width="1"/>
<line x1="267.8" y1="400.33" x2="267.8" y2="401.9" stroke="#2f6e5e" stroke-width="1"/>
<line x1="266.1" y1="400.33" x2="269.5" y2="400.33" stroke="#2f6e5e" stroke-width="1"/>
<line x1="266.1" y1="401.9" x2="269.5" y2="401.9" stroke="#2f6e5e" stroke-width="1"/>
<polyline points="191,362.16 210.3,358.22 229.7,349.96 248.8,340.12 267.8,338.55" fill="none" stroke="#aa1a3c" stroke-width="1.1" stroke-linejoin="round"/>
<polyline points="191,362.16 210.3,361.37 229.7,361.37 248.8,358.22 267.8,362.55" fill="none" stroke="#2f5389" stroke-width="1.1" stroke-linejoin="round"/>
<polyline points="191,362.55 210.3,364.91 229.7,368.45 248.8,371.99 267.8,374.35" fill="none" stroke="#72b24e" stroke-width="1.1" stroke-linejoin="round"/>
<polyline points="191,364.91 210.3,369.63 229.7,373.17 248.8,376.32 267.8,379.08" fill="none" stroke="#4a2669" stroke-width="1.1" stroke-linejoin="round"/>
<polyline points="191,360.58 210.3,366.48 229.7,369.63 248.8,373.96 267.8,380.65" fill="none" stroke="#ecaa35" stroke-width="1.1" stroke-linejoin="round"/>
<polyline points="191,368.85 210.3,381.44 229.7,391.67 248.8,395.21 267.8,401.11" fill="none" stroke="#2f6e5e" stroke-width="1.1" stroke-linejoin="round"/>
<circle cx="191" cy="362.16" r="1.75" fill="#fff" stroke="#aa1a3c" stroke-width="1.05"/>
<line x1="191" y1="360.58" x2="191" y2="363.73" stroke="#aa1a3c" stroke-width="0.8"/>
<circle cx="210.3" cy="358.22" r="1.75" fill="#fff" stroke="#aa1a3c" stroke-width="1.05"/>
<line x1="210.3" y1="356.65" x2="210.3" y2="359.8" stroke="#aa1a3c" stroke-width="0.8"/>
<circle cx="229.7" cy="349.96" r="1.75" fill="#fff" stroke="#aa1a3c" stroke-width="1.05"/>
<line x1="229.7" y1="348.38" x2="229.7" y2="351.53" stroke="#aa1a3c" stroke-width="0.8"/>
<circle cx="248.8" cy="340.12" r="1.75" fill="#fff" stroke="#aa1a3c" stroke-width="1.05"/>
<line x1="248.8" y1="338.55" x2="248.8" y2="341.7" stroke="#aa1a3c" stroke-width="0.8"/>
<circle cx="267.8" cy="338.55" r="1.75" fill="#fff" stroke="#aa1a3c" stroke-width="1.05"/>
<line x1="267.8" y1="336.97" x2="267.8" y2="340.12" stroke="#aa1a3c" stroke-width="0.8"/>
<rect x="189.34" y="360.49" width="3.32" height="3.32" fill="#fff" stroke="#2f5389" stroke-width="1.05"/>
<line x1="191" y1="360.58" x2="191" y2="363.73" stroke="#2f5389" stroke-width="0.8"/>
<rect x="208.64" y="359.71" width="3.32" height="3.32" fill="#fff" stroke="#2f5389" stroke-width="1.05"/>
<line x1="210.3" y1="359.79" x2="210.3" y2="362.94" stroke="#2f5389" stroke-width="0.8"/>
<rect x="228.04" y="359.71" width="3.32" height="3.32" fill="#fff" stroke="#2f5389" stroke-width="1.05"/>
<line x1="229.7" y1="359.79" x2="229.7" y2="362.94" stroke="#2f5389" stroke-width="0.8"/>
<rect x="247.14" y="356.56" width="3.32" height="3.32" fill="#fff" stroke="#2f5389" stroke-width="1.05"/>
<line x1="248.8" y1="356.65" x2="248.8" y2="359.8" stroke="#2f5389" stroke-width="0.8"/>
<rect x="266.14" y="360.89" width="3.32" height="3.32" fill="#fff" stroke="#2f5389" stroke-width="1.05"/>
<line x1="267.8" y1="360.97" x2="267.8" y2="364.12" stroke="#2f5389" stroke-width="0.8"/>
<path d="M191 360.36L193.01 364.04L188.99 364.04Z" fill="#fff" stroke="#72b24e" stroke-width="1.05"/>
<line x1="191" y1="360.97" x2="191" y2="364.12" stroke="#72b24e" stroke-width="0.8"/>
<path d="M210.3 362.72L212.31 366.4L208.29 366.4Z" fill="#fff" stroke="#72b24e" stroke-width="1.05"/>
<line x1="210.3" y1="363.34" x2="210.3" y2="366.49" stroke="#72b24e" stroke-width="0.8"/>
<path d="M229.7 366.26L231.71 369.94L227.69 369.94Z" fill="#fff" stroke="#72b24e" stroke-width="1.05"/>
<line x1="229.7" y1="366.88" x2="229.7" y2="370.03" stroke="#72b24e" stroke-width="0.8"/>
<path d="M248.8 369.81L250.81 373.48L246.79 373.48Z" fill="#fff" stroke="#72b24e" stroke-width="1.05"/>
<line x1="248.8" y1="370.42" x2="248.8" y2="373.57" stroke="#72b24e" stroke-width="0.8"/>
<path d="M267.8 372.17L269.81 375.84L265.79 375.84Z" fill="#fff" stroke="#72b24e" stroke-width="1.05"/>
<line x1="267.8" y1="372.78" x2="267.8" y2="375.93" stroke="#72b24e" stroke-width="0.8"/>
<path d="M191 367.1L193.01 363.42L188.99 363.42Z" fill="#4a2669" stroke="#4a2669" stroke-width="1.05"/>
<line x1="191" y1="363.34" x2="191" y2="366.49" stroke="#4a2669" stroke-width="0.8"/>
<path d="M210.3 371.82L212.31 368.15L208.29 368.15Z" fill="#4a2669" stroke="#4a2669" stroke-width="1.05"/>
<line x1="210.3" y1="368.06" x2="210.3" y2="371.21" stroke="#4a2669" stroke-width="0.8"/>
<path d="M229.7 375.36L231.71 371.69L227.69 371.69Z" fill="#4a2669" stroke="#4a2669" stroke-width="1.05"/>
<line x1="229.7" y1="371.6" x2="229.7" y2="374.75" stroke="#4a2669" stroke-width="0.8"/>
<path d="M248.8 378.51L250.81 374.83L246.79 374.83Z" fill="#4a2669" stroke="#4a2669" stroke-width="1.05"/>
<line x1="248.8" y1="374.75" x2="248.8" y2="377.9" stroke="#4a2669" stroke-width="0.8"/>
<path d="M267.8 381.26L269.81 377.59L265.79 377.59Z" fill="#4a2669" stroke="#4a2669" stroke-width="1.05"/>
<line x1="267.8" y1="377.5" x2="267.8" y2="380.65" stroke="#4a2669" stroke-width="0.8"/>
<path d="M191 358.31L193.28 360.58L191 362.86L188.72 360.58Z" fill="#fff" stroke="#ecaa35" stroke-width="1.05"/>
<line x1="191" y1="359.01" x2="191" y2="362.16" stroke="#ecaa35" stroke-width="0.8"/>
<path d="M210.3 364.21L212.58 366.48L210.3 368.76L208.03 366.48Z" fill="#fff" stroke="#ecaa35" stroke-width="1.05"/>
<line x1="210.3" y1="364.91" x2="210.3" y2="368.06" stroke="#ecaa35" stroke-width="0.8"/>
<path d="M229.7 367.36L231.97 369.63L229.7 371.91L227.42 369.63Z" fill="#fff" stroke="#ecaa35" stroke-width="1.05"/>
<line x1="229.7" y1="368.06" x2="229.7" y2="371.21" stroke="#ecaa35" stroke-width="0.8"/>
<path d="M248.8 371.69L251.08 373.96L248.8 376.24L246.53 373.96Z" fill="#fff" stroke="#ecaa35" stroke-width="1.05"/>
<line x1="248.8" y1="372.39" x2="248.8" y2="375.54" stroke="#ecaa35" stroke-width="0.8"/>
<path d="M267.8 378.38L270.07 380.65L267.8 382.93L265.53 380.65Z" fill="#fff" stroke="#ecaa35" stroke-width="1.05"/>
<line x1="267.8" y1="379.08" x2="267.8" y2="382.23" stroke="#ecaa35" stroke-width="0.8"/>
<circle cx="191" cy="368.85" r="1.75" fill="#fff" stroke="#2f6e5e" stroke-width="1.05"/>
<line x1="191" y1="367.27" x2="191" y2="370.42" stroke="#2f6e5e" stroke-width="0.8"/>
<circle cx="210.3" cy="381.44" r="1.75" fill="#fff" stroke="#2f6e5e" stroke-width="1.05"/>
<line x1="210.3" y1="379.86" x2="210.3" y2="383.01" stroke="#2f6e5e" stroke-width="0.8"/>
<circle cx="229.7" cy="391.67" r="1.75" fill="#fff" stroke="#2f6e5e" stroke-width="1.05"/>
<line x1="229.7" y1="390.09" x2="229.7" y2="393.24" stroke="#2f6e5e" stroke-width="0.8"/>
<circle cx="248.8" cy="395.21" r="1.75" fill="#fff" stroke="#2f6e5e" stroke-width="1.05"/>
<line x1="248.8" y1="393.64" x2="248.8" y2="396.79" stroke="#2f6e5e" stroke-width="0.8"/>
<circle cx="267.8" cy="401.11" r="1.75" fill="#fff" stroke="#2f6e5e" stroke-width="1.05"/>
<line x1="267.8" y1="399.54" x2="267.8" y2="402.69" stroke="#2f6e5e" stroke-width="0.8"/>
<line x1="280.8" y1="336.9" x2="280.8" y2="400.1" stroke="#111" stroke-width="1.2"/>
<line x1="274.6" y1="337.5" x2="280.8" y2="337.5" stroke="#111" stroke-width="1.1"/>
<line x1="274.8" y1="335.9" x2="274.8" y2="339.1" stroke="#111" stroke-width="1"/>
<line x1="274.6" y1="362.2" x2="280.8" y2="362.2" stroke="#111" stroke-width="1.1"/>
<circle cx="276.4" cy="360.6" r="0.7" fill="#2a2a2a"/>
<circle cx="278.6" cy="360.6" r="0.7" fill="#2a2a2a"/>
<line x1="274.6" y1="374.8" x2="280.8" y2="374.8" stroke="#111" stroke-width="1.1"/>
<circle cx="276.4" cy="373.2" r="0.7" fill="#2a2a2a"/>
<circle cx="278.6" cy="373.2" r="0.7" fill="#2a2a2a"/>
<line x1="274.6" y1="377.7" x2="280.8" y2="377.7" stroke="#111" stroke-width="1.1"/>
<circle cx="276.4" cy="376.1" r="0.7" fill="#2a2a2a"/>
<circle cx="278.6" cy="376.1" r="0.7" fill="#2a2a2a"/>
<line x1="274.6" y1="380.6" x2="280.8" y2="380.6" stroke="#111" stroke-width="1.1"/>
<circle cx="276.4" cy="379" r="0.7" fill="#2a2a2a"/>
<circle cx="278.6" cy="379" r="0.7" fill="#2a2a2a"/>
<line x1="274.6" y1="385.2" x2="280.8" y2="385.2" stroke="#111" stroke-width="1.1"/>
<circle cx="276.4" cy="383.6" r="0.7" fill="#2a2a2a"/>
<circle cx="278.6" cy="383.6" r="0.7" fill="#2a2a2a"/>
<line x1="274.6" y1="399.5" x2="280.8" y2="399.5" stroke="#111" stroke-width="1.1"/>
<circle cx="275.3" cy="397.9" r="0.7" fill="#2a2a2a"/>
<circle cx="277.5" cy="397.9" r="0.7" fill="#2a2a2a"/>
<circle cx="279.7" cy="397.9" r="0.7" fill="#2a2a2a"/>
<line x1="35.9" y1="445.2" x2="35.9" y2="533.9" stroke="#111" stroke-width="1.3"/>
<line x1="35.3" y1="533.2" x2="142.1" y2="533.2" stroke="#111" stroke-width="1.3"/>
<line x1="33.5" y1="533.2" x2="35.9" y2="533.2" stroke="#111" stroke-width="1"/>
<line x1="33.5" y1="515.72" x2="35.9" y2="515.72" stroke="#111" stroke-width="1"/>
<line x1="33.5" y1="498.24" x2="35.9" y2="498.24" stroke="#111" stroke-width="1"/>
<line x1="33.5" y1="480.76" x2="35.9" y2="480.76" stroke="#111" stroke-width="1"/>
<line x1="33.5" y1="463.28" x2="35.9" y2="463.28" stroke="#111" stroke-width="1"/>
<line x1="33.5" y1="445.8" x2="35.9" y2="445.8" stroke="#111" stroke-width="1"/>
<line x1="45.6" y1="533.2" x2="45.6" y2="535.8" stroke="#111" stroke-width="1"/>
<line x1="67.4" y1="533.2" x2="67.4" y2="535.8" stroke="#111" stroke-width="1"/>
<line x1="88.9" y1="533.2" x2="88.9" y2="535.8" stroke="#111" stroke-width="1"/>
<line x1="110.5" y1="533.2" x2="110.5" y2="535.8" stroke="#111" stroke-width="1"/>
<line x1="131.7" y1="533.2" x2="131.7" y2="535.8" stroke="#111" stroke-width="1"/>
<line x1="45.6" y1="508.73" x2="45.6" y2="515.72" stroke="#ecaa35" stroke-width="1"/>
<line x1="43.9" y1="508.73" x2="47.3" y2="508.73" stroke="#ecaa35" stroke-width="1"/>
<line x1="43.9" y1="515.72" x2="47.3" y2="515.72" stroke="#ecaa35" stroke-width="1"/>
<line x1="67.4" y1="500.86" x2="67.4" y2="509.6" stroke="#ecaa35" stroke-width="1"/>
<line x1="65.7" y1="500.86" x2="69.1" y2="500.86" stroke="#ecaa35" stroke-width="1"/>
<line x1="65.7" y1="509.6" x2="69.1" y2="509.6" stroke="#ecaa35" stroke-width="1"/>
<line x1="88.9" y1="500.34" x2="88.9" y2="505.58" stroke="#ecaa35" stroke-width="1"/>
<line x1="87.2" y1="500.34" x2="90.6" y2="500.34" stroke="#ecaa35" stroke-width="1"/>
<line x1="87.2" y1="505.58" x2="90.6" y2="505.58" stroke="#ecaa35" stroke-width="1"/>
<line x1="110.5" y1="499.64" x2="110.5" y2="506.63" stroke="#ecaa35" stroke-width="1"/>
<line x1="108.8" y1="499.64" x2="112.2" y2="499.64" stroke="#ecaa35" stroke-width="1"/>
<line x1="108.8" y1="506.63" x2="112.2" y2="506.63" stroke="#ecaa35" stroke-width="1"/>
<line x1="131.7" y1="500.51" x2="131.7" y2="505.76" stroke="#ecaa35" stroke-width="1"/>
<line x1="130" y1="500.51" x2="133.4" y2="500.51" stroke="#ecaa35" stroke-width="1"/>
<line x1="130" y1="505.76" x2="133.4" y2="505.76" stroke="#ecaa35" stroke-width="1"/>
<line x1="45.6" y1="510.48" x2="45.6" y2="515.72" stroke="#2f6e5e" stroke-width="1"/>
<line x1="43.9" y1="510.48" x2="47.3" y2="510.48" stroke="#2f6e5e" stroke-width="1"/>
<line x1="43.9" y1="515.72" x2="47.3" y2="515.72" stroke="#2f6e5e" stroke-width="1"/>
<line x1="67.4" y1="501.74" x2="67.4" y2="508.73" stroke="#2f6e5e" stroke-width="1"/>
<line x1="65.7" y1="501.74" x2="69.1" y2="501.74" stroke="#2f6e5e" stroke-width="1"/>
<line x1="65.7" y1="508.73" x2="69.1" y2="508.73" stroke="#2f6e5e" stroke-width="1"/>
<line x1="88.9" y1="502.26" x2="88.9" y2="511" stroke="#2f6e5e" stroke-width="1"/>
<line x1="87.2" y1="502.26" x2="90.6" y2="502.26" stroke="#2f6e5e" stroke-width="1"/>
<line x1="87.2" y1="511" x2="90.6" y2="511" stroke="#2f6e5e" stroke-width="1"/>
<line x1="110.5" y1="504.36" x2="110.5" y2="509.6" stroke="#2f6e5e" stroke-width="1"/>
<line x1="108.8" y1="504.36" x2="112.2" y2="504.36" stroke="#2f6e5e" stroke-width="1"/>
<line x1="108.8" y1="509.6" x2="112.2" y2="509.6" stroke="#2f6e5e" stroke-width="1"/>
<line x1="131.7" y1="508.73" x2="131.7" y2="515.72" stroke="#2f6e5e" stroke-width="1"/>
<line x1="130" y1="508.73" x2="133.4" y2="508.73" stroke="#2f6e5e" stroke-width="1"/>
<line x1="130" y1="515.72" x2="133.4" y2="515.72" stroke="#2f6e5e" stroke-width="1"/>
<line x1="45.6" y1="509.78" x2="45.6" y2="515.02" stroke="#72b24e" stroke-width="1"/>
<line x1="43.9" y1="509.78" x2="47.3" y2="509.78" stroke="#72b24e" stroke-width="1"/>
<line x1="43.9" y1="515.02" x2="47.3" y2="515.02" stroke="#72b24e" stroke-width="1"/>
<line x1="67.4" y1="495.09" x2="67.4" y2="502.09" stroke="#72b24e" stroke-width="1"/>
<line x1="65.7" y1="495.09" x2="69.1" y2="495.09" stroke="#72b24e" stroke-width="1"/>
<line x1="65.7" y1="502.09" x2="69.1" y2="502.09" stroke="#72b24e" stroke-width="1"/>
<line x1="88.9" y1="490.2" x2="88.9" y2="497.19" stroke="#72b24e" stroke-width="1"/>
<line x1="87.2" y1="490.2" x2="90.6" y2="490.2" stroke="#72b24e" stroke-width="1"/>
<line x1="87.2" y1="497.19" x2="90.6" y2="497.19" stroke="#72b24e" stroke-width="1"/>
<line x1="110.5" y1="481.28" x2="110.5" y2="490.02" stroke="#72b24e" stroke-width="1"/>
<line x1="108.8" y1="481.28" x2="112.2" y2="481.28" stroke="#72b24e" stroke-width="1"/>
<line x1="108.8" y1="490.02" x2="112.2" y2="490.02" stroke="#72b24e" stroke-width="1"/>
<line x1="131.7" y1="474.29" x2="131.7" y2="481.28" stroke="#72b24e" stroke-width="1"/>
<line x1="130" y1="474.29" x2="133.4" y2="474.29" stroke="#72b24e" stroke-width="1"/>
<line x1="130" y1="481.28" x2="133.4" y2="481.28" stroke="#72b24e" stroke-width="1"/>
<line x1="45.6" y1="508.73" x2="45.6" y2="515.72" stroke="#2f5389" stroke-width="1"/>
<line x1="43.9" y1="508.73" x2="47.3" y2="508.73" stroke="#2f5389" stroke-width="1"/>
<line x1="43.9" y1="515.72" x2="47.3" y2="515.72" stroke="#2f5389" stroke-width="1"/>
<line x1="67.4" y1="492.12" x2="67.4" y2="499.11" stroke="#2f5389" stroke-width="1"/>
<line x1="65.7" y1="492.12" x2="69.1" y2="492.12" stroke="#2f5389" stroke-width="1"/>
<line x1="65.7" y1="499.11" x2="69.1" y2="499.11" stroke="#2f5389" stroke-width="1"/>
<line x1="88.9" y1="488.98" x2="88.9" y2="495.97" stroke="#2f5389" stroke-width="1"/>
<line x1="87.2" y1="488.98" x2="90.6" y2="488.98" stroke="#2f5389" stroke-width="1"/>
<line x1="87.2" y1="495.97" x2="90.6" y2="495.97" stroke="#2f5389" stroke-width="1"/>
<line x1="110.5" y1="474.99" x2="110.5" y2="481.98" stroke="#2f5389" stroke-width="1"/>
<line x1="108.8" y1="474.99" x2="112.2" y2="474.99" stroke="#2f5389" stroke-width="1"/>
<line x1="108.8" y1="481.98" x2="112.2" y2="481.98" stroke="#2f5389" stroke-width="1"/>
<line x1="131.7" y1="466.6" x2="131.7" y2="473.59" stroke="#2f5389" stroke-width="1"/>
<line x1="130" y1="466.6" x2="133.4" y2="466.6" stroke="#2f5389" stroke-width="1"/>
<line x1="130" y1="473.59" x2="133.4" y2="473.59" stroke="#2f5389" stroke-width="1"/>
<line x1="45.6" y1="508.03" x2="45.6" y2="515.02" stroke="#aa1a3c" stroke-width="1"/>
<line x1="43.9" y1="508.03" x2="47.3" y2="508.03" stroke="#aa1a3c" stroke-width="1"/>
<line x1="43.9" y1="515.02" x2="47.3" y2="515.02" stroke="#aa1a3c" stroke-width="1"/>
<line x1="67.4" y1="490.37" x2="67.4" y2="499.11" stroke="#aa1a3c" stroke-width="1"/>
<line x1="65.7" y1="490.37" x2="69.1" y2="490.37" stroke="#aa1a3c" stroke-width="1"/>
<line x1="65.7" y1="499.11" x2="69.1" y2="499.11" stroke="#aa1a3c" stroke-width="1"/>
<line x1="88.9" y1="486" x2="88.9" y2="493" stroke="#aa1a3c" stroke-width="1"/>
<line x1="87.2" y1="486" x2="90.6" y2="486" stroke="#aa1a3c" stroke-width="1"/>
<line x1="87.2" y1="493" x2="90.6" y2="493" stroke="#aa1a3c" stroke-width="1"/>
<line x1="110.5" y1="471.15" x2="110.5" y2="479.89" stroke="#aa1a3c" stroke-width="1"/>
<line x1="108.8" y1="471.15" x2="112.2" y2="471.15" stroke="#aa1a3c" stroke-width="1"/>
<line x1="108.8" y1="479.89" x2="112.2" y2="479.89" stroke="#aa1a3c" stroke-width="1"/>
<line x1="131.7" y1="460.48" x2="131.7" y2="467.48" stroke="#aa1a3c" stroke-width="1"/>
<line x1="130" y1="460.48" x2="133.4" y2="460.48" stroke="#aa1a3c" stroke-width="1"/>
<line x1="130" y1="467.48" x2="133.4" y2="467.48" stroke="#aa1a3c" stroke-width="1"/>
<line x1="45.6" y1="507.15" x2="45.6" y2="514.15" stroke="#4a2669" stroke-width="1"/>
<line x1="43.9" y1="507.15" x2="47.3" y2="507.15" stroke="#4a2669" stroke-width="1"/>
<line x1="43.9" y1="514.15" x2="47.3" y2="514.15" stroke="#4a2669" stroke-width="1"/>
<line x1="67.4" y1="487.58" x2="67.4" y2="496.32" stroke="#4a2669" stroke-width="1"/>
<line x1="65.7" y1="487.58" x2="69.1" y2="487.58" stroke="#4a2669" stroke-width="1"/>
<line x1="65.7" y1="496.32" x2="69.1" y2="496.32" stroke="#4a2669" stroke-width="1"/>
<line x1="88.9" y1="481.98" x2="88.9" y2="490.72" stroke="#4a2669" stroke-width="1"/>
<line x1="87.2" y1="481.98" x2="90.6" y2="481.98" stroke="#4a2669" stroke-width="1"/>
<line x1="87.2" y1="490.72" x2="90.6" y2="490.72" stroke="#4a2669" stroke-width="1"/>
<line x1="110.5" y1="468.87" x2="110.5" y2="479.36" stroke="#4a2669" stroke-width="1"/>
<line x1="108.8" y1="468.87" x2="112.2" y2="468.87" stroke="#4a2669" stroke-width="1"/>
<line x1="108.8" y1="479.36" x2="112.2" y2="479.36" stroke="#4a2669" stroke-width="1"/>
<line x1="131.7" y1="458.21" x2="131.7" y2="466.95" stroke="#4a2669" stroke-width="1"/>
<line x1="130" y1="458.21" x2="133.4" y2="458.21" stroke="#4a2669" stroke-width="1"/>
<line x1="130" y1="466.95" x2="133.4" y2="466.95" stroke="#4a2669" stroke-width="1"/>
<polyline points="45.6,512.22 67.4,505.23 88.9,502.96 110.5,503.13 131.7,503.13" fill="none" stroke="#ecaa35" stroke-width="1.1" stroke-linejoin="round"/>
<polyline points="45.6,513.1 67.4,505.23 88.9,506.63 110.5,506.98 131.7,512.22" fill="none" stroke="#2f6e5e" stroke-width="1.1" stroke-linejoin="round"/>
<polyline points="45.6,512.4 67.4,498.59 88.9,493.7 110.5,485.65 131.7,477.79" fill="none" stroke="#72b24e" stroke-width="1.1" stroke-linejoin="round"/>
<polyline points="45.6,512.22 67.4,495.62 88.9,492.47 110.5,478.49 131.7,470.1" fill="none" stroke="#2f5389" stroke-width="1.1" stroke-linejoin="round"/>
<polyline points="45.6,511.52 67.4,494.74 88.9,489.5 110.5,475.52 131.7,463.98" fill="none" stroke="#aa1a3c" stroke-width="1.1" stroke-linejoin="round"/>
<polyline points="45.6,510.65 67.4,491.95 88.9,486.35 110.5,474.12 131.7,462.58" fill="none" stroke="#4a2669" stroke-width="1.1" stroke-linejoin="round"/>
<path d="M45.6 509.95L47.88 512.22L45.6 514.5L43.33 512.22Z" fill="#fff" stroke="#ecaa35" stroke-width="1.05"/>
<line x1="45.6" y1="510.65" x2="45.6" y2="513.8" stroke="#ecaa35" stroke-width="0.8"/>
<path d="M67.4 502.96L69.68 505.23L67.4 507.51L65.12 505.23Z" fill="#fff" stroke="#ecaa35" stroke-width="1.05"/>
<line x1="67.4" y1="503.66" x2="67.4" y2="506.81" stroke="#ecaa35" stroke-width="0.8"/>
<path d="M88.9 500.68L91.18 502.96L88.9 505.23L86.62 502.96Z" fill="#fff" stroke="#ecaa35" stroke-width="1.05"/>
<line x1="88.9" y1="501.38" x2="88.9" y2="504.53" stroke="#ecaa35" stroke-width="0.8"/>
<path d="M110.5 500.86L112.78 503.13L110.5 505.41L108.22 503.13Z" fill="#fff" stroke="#ecaa35" stroke-width="1.05"/>
<line x1="110.5" y1="501.56" x2="110.5" y2="504.71" stroke="#ecaa35" stroke-width="0.8"/>
<path d="M131.7 500.86L133.97 503.13L131.7 505.41L129.42 503.13Z" fill="#fff" stroke="#ecaa35" stroke-width="1.05"/>
<line x1="131.7" y1="501.56" x2="131.7" y2="504.71" stroke="#ecaa35" stroke-width="0.8"/>
<circle cx="45.6" cy="513.1" r="1.75" fill="#fff" stroke="#2f6e5e" stroke-width="1.05"/>
<line x1="45.6" y1="511.52" x2="45.6" y2="514.67" stroke="#2f6e5e" stroke-width="0.8"/>
<circle cx="67.4" cy="505.23" r="1.75" fill="#fff" stroke="#2f6e5e" stroke-width="1.05"/>
<line x1="67.4" y1="503.66" x2="67.4" y2="506.81" stroke="#2f6e5e" stroke-width="0.8"/>
<circle cx="88.9" cy="506.63" r="1.75" fill="#fff" stroke="#2f6e5e" stroke-width="1.05"/>
<line x1="88.9" y1="505.06" x2="88.9" y2="508.21" stroke="#2f6e5e" stroke-width="0.8"/>
<circle cx="110.5" cy="506.98" r="1.75" fill="#fff" stroke="#2f6e5e" stroke-width="1.05"/>
<line x1="110.5" y1="505.41" x2="110.5" y2="508.56" stroke="#2f6e5e" stroke-width="0.8"/>
<circle cx="131.7" cy="512.22" r="1.75" fill="#fff" stroke="#2f6e5e" stroke-width="1.05"/>
<line x1="131.7" y1="510.65" x2="131.7" y2="513.8" stroke="#2f6e5e" stroke-width="0.8"/>
<path d="M45.6 510.21L47.61 513.89L43.59 513.89Z" fill="#fff" stroke="#72b24e" stroke-width="1.05"/>
<line x1="45.6" y1="510.82" x2="45.6" y2="513.97" stroke="#72b24e" stroke-width="0.8"/>
<path d="M67.4 496.4L69.41 500.08L65.39 500.08Z" fill="#fff" stroke="#72b24e" stroke-width="1.05"/>
<line x1="67.4" y1="497.01" x2="67.4" y2="500.16" stroke="#72b24e" stroke-width="0.8"/>
<path d="M88.9 491.51L90.91 495.18L86.89 495.18Z" fill="#fff" stroke="#72b24e" stroke-width="1.05"/>
<line x1="88.9" y1="492.12" x2="88.9" y2="495.27" stroke="#72b24e" stroke-width="0.8"/>
<path d="M110.5 483.47L112.51 487.14L108.49 487.14Z" fill="#fff" stroke="#72b24e" stroke-width="1.05"/>
<line x1="110.5" y1="484.08" x2="110.5" y2="487.23" stroke="#72b24e" stroke-width="0.8"/>
<path d="M131.7 475.6L133.71 479.28L129.69 479.28Z" fill="#fff" stroke="#72b24e" stroke-width="1.05"/>
<line x1="131.7" y1="476.21" x2="131.7" y2="479.36" stroke="#72b24e" stroke-width="0.8"/>
<rect x="43.94" y="510.56" width="3.32" height="3.32" fill="#fff" stroke="#2f5389" stroke-width="1.05"/>
<line x1="45.6" y1="510.65" x2="45.6" y2="513.8" stroke="#2f5389" stroke-width="0.8"/>
<rect x="65.74" y="493.96" width="3.32" height="3.32" fill="#fff" stroke="#2f5389" stroke-width="1.05"/>
<line x1="67.4" y1="494.04" x2="67.4" y2="497.19" stroke="#2f5389" stroke-width="0.8"/>
<rect x="87.24" y="490.81" width="3.32" height="3.32" fill="#fff" stroke="#2f5389" stroke-width="1.05"/>
<line x1="88.9" y1="490.9" x2="88.9" y2="494.05" stroke="#2f5389" stroke-width="0.8"/>
<rect x="108.84" y="476.83" width="3.32" height="3.32" fill="#fff" stroke="#2f5389" stroke-width="1.05"/>
<line x1="110.5" y1="476.91" x2="110.5" y2="480.06" stroke="#2f5389" stroke-width="0.8"/>
<rect x="130.04" y="468.43" width="3.32" height="3.32" fill="#fff" stroke="#2f5389" stroke-width="1.05"/>
<line x1="131.7" y1="468.52" x2="131.7" y2="471.67" stroke="#2f5389" stroke-width="0.8"/>
<circle cx="45.6" cy="511.52" r="1.75" fill="#fff" stroke="#aa1a3c" stroke-width="1.05"/>
<line x1="45.6" y1="509.95" x2="45.6" y2="513.1" stroke="#aa1a3c" stroke-width="0.8"/>
<circle cx="67.4" cy="494.74" r="1.75" fill="#fff" stroke="#aa1a3c" stroke-width="1.05"/>
<line x1="67.4" y1="493.17" x2="67.4" y2="496.32" stroke="#aa1a3c" stroke-width="0.8"/>
<circle cx="88.9" cy="489.5" r="1.75" fill="#fff" stroke="#aa1a3c" stroke-width="1.05"/>
<line x1="88.9" y1="487.93" x2="88.9" y2="491.08" stroke="#aa1a3c" stroke-width="0.8"/>
<circle cx="110.5" cy="475.52" r="1.75" fill="#fff" stroke="#aa1a3c" stroke-width="1.05"/>
<line x1="110.5" y1="473.94" x2="110.5" y2="477.09" stroke="#aa1a3c" stroke-width="0.8"/>
<circle cx="131.7" cy="463.98" r="1.75" fill="#fff" stroke="#aa1a3c" stroke-width="1.05"/>
<line x1="131.7" y1="462.4" x2="131.7" y2="465.55" stroke="#aa1a3c" stroke-width="0.8"/>
<path d="M45.6 512.84L47.61 509.16L43.59 509.16Z" fill="#4a2669" stroke="#4a2669" stroke-width="1.05"/>
<line x1="45.6" y1="509.08" x2="45.6" y2="512.23" stroke="#4a2669" stroke-width="0.8"/>
<path d="M67.4 494.13L69.41 490.46L65.39 490.46Z" fill="#4a2669" stroke="#4a2669" stroke-width="1.05"/>
<line x1="67.4" y1="490.37" x2="67.4" y2="493.52" stroke="#4a2669" stroke-width="0.8"/>
<path d="M88.9 488.54L90.91 484.87L86.89 484.87Z" fill="#4a2669" stroke="#4a2669" stroke-width="1.05"/>
<line x1="88.9" y1="484.78" x2="88.9" y2="487.93" stroke="#4a2669" stroke-width="0.8"/>
<path d="M110.5 476.31L112.51 472.63L108.49 472.63Z" fill="#4a2669" stroke="#4a2669" stroke-width="1.05"/>
<line x1="110.5" y1="472.54" x2="110.5" y2="475.69" stroke="#4a2669" stroke-width="0.8"/>
<path d="M131.7 464.77L133.71 461.09L129.69 461.09Z" fill="#4a2669" stroke="#4a2669" stroke-width="1.05"/>
<line x1="131.7" y1="461.01" x2="131.7" y2="464.16" stroke="#4a2669" stroke-width="0.8"/>
<line x1="144.7" y1="461.7" x2="144.7" y2="512.1" stroke="#111" stroke-width="1.2"/>
<line x1="138.5" y1="462.3" x2="144.7" y2="462.3" stroke="#111" stroke-width="1.1"/>
<line x1="138.7" y1="460.7" x2="138.7" y2="463.9" stroke="#111" stroke-width="1"/>
<line x1="138.5" y1="503.4" x2="144.7" y2="503.4" stroke="#111" stroke-width="1.1"/>
<circle cx="141.4" cy="501.8" r="0.7" fill="#2a2a2a"/>
<line x1="138.5" y1="511.5" x2="144.7" y2="511.5" stroke="#111" stroke-width="1.1"/>
<circle cx="141.4" cy="509.9" r="0.7" fill="#2a2a2a"/>
<line x1="181.6" y1="445.4" x2="181.6" y2="533.5" stroke="#111" stroke-width="1.3"/>
<line x1="181" y1="532.8" x2="288.4" y2="532.8" stroke="#111" stroke-width="1.3"/>
<line x1="179.2" y1="532.8" x2="181.6" y2="532.8" stroke="#111" stroke-width="1"/>
<line x1="179.2" y1="511.1" x2="181.6" y2="511.1" stroke="#111" stroke-width="1"/>
<line x1="179.2" y1="489.4" x2="181.6" y2="489.4" stroke="#111" stroke-width="1"/>
<line x1="179.2" y1="467.7" x2="181.6" y2="467.7" stroke="#111" stroke-width="1"/>
<line x1="179.2" y1="446" x2="181.6" y2="446" stroke="#111" stroke-width="1"/>
<line x1="191.5" y1="532.8" x2="191.5" y2="535.4" stroke="#111" stroke-width="1"/>
<line x1="213.2" y1="532.8" x2="213.2" y2="535.4" stroke="#111" stroke-width="1"/>
<line x1="234.2" y1="532.8" x2="234.2" y2="535.4" stroke="#111" stroke-width="1"/>
<line x1="255.7" y1="532.8" x2="255.7" y2="535.4" stroke="#111" stroke-width="1"/>
<line x1="276.9" y1="532.8" x2="276.9" y2="535.4" stroke="#111" stroke-width="1"/>
<line x1="191.5" y1="485.49" x2="191.5" y2="492.44" stroke="#2f5389" stroke-width="1"/>
<line x1="189.8" y1="485.49" x2="193.2" y2="485.49" stroke="#2f5389" stroke-width="1"/>
<line x1="189.8" y1="492.44" x2="193.2" y2="492.44" stroke="#2f5389" stroke-width="1"/>
<line x1="213.2" y1="482.67" x2="213.2" y2="491.35" stroke="#2f5389" stroke-width="1"/>
<line x1="211.5" y1="482.67" x2="214.9" y2="482.67" stroke="#2f5389" stroke-width="1"/>
<line x1="211.5" y1="491.35" x2="214.9" y2="491.35" stroke="#2f5389" stroke-width="1"/>
<line x1="234.2" y1="480.72" x2="234.2" y2="489.4" stroke="#2f5389" stroke-width="1"/>
<line x1="232.5" y1="480.72" x2="235.9" y2="480.72" stroke="#2f5389" stroke-width="1"/>
<line x1="232.5" y1="489.4" x2="235.9" y2="489.4" stroke="#2f5389" stroke-width="1"/>
<line x1="255.7" y1="481.59" x2="255.7" y2="490.27" stroke="#2f5389" stroke-width="1"/>
<line x1="254" y1="481.59" x2="257.4" y2="481.59" stroke="#2f5389" stroke-width="1"/>
<line x1="254" y1="490.27" x2="257.4" y2="490.27" stroke="#2f5389" stroke-width="1"/>
<line x1="276.9" y1="482.46" x2="276.9" y2="492.87" stroke="#2f5389" stroke-width="1"/>
<line x1="275.2" y1="482.46" x2="278.6" y2="482.46" stroke="#2f5389" stroke-width="1"/>
<line x1="275.2" y1="492.87" x2="278.6" y2="492.87" stroke="#2f5389" stroke-width="1"/>
<line x1="191.5" y1="482.89" x2="191.5" y2="489.83" stroke="#2f6e5e" stroke-width="1"/>
<line x1="189.8" y1="482.89" x2="193.2" y2="482.89" stroke="#2f6e5e" stroke-width="1"/>
<line x1="189.8" y1="489.83" x2="193.2" y2="489.83" stroke="#2f6e5e" stroke-width="1"/>
<line x1="213.2" y1="480.29" x2="213.2" y2="488.97" stroke="#2f6e5e" stroke-width="1"/>
<line x1="211.5" y1="480.29" x2="214.9" y2="480.29" stroke="#2f6e5e" stroke-width="1"/>
<line x1="211.5" y1="488.97" x2="214.9" y2="488.97" stroke="#2f6e5e" stroke-width="1"/>
<line x1="234.2" y1="476.38" x2="234.2" y2="488.53" stroke="#2f6e5e" stroke-width="1"/>
<line x1="232.5" y1="476.38" x2="235.9" y2="476.38" stroke="#2f6e5e" stroke-width="1"/>
<line x1="232.5" y1="488.53" x2="235.9" y2="488.53" stroke="#2f6e5e" stroke-width="1"/>
<line x1="255.7" y1="480.72" x2="255.7" y2="489.4" stroke="#2f6e5e" stroke-width="1"/>
<line x1="254" y1="480.72" x2="257.4" y2="480.72" stroke="#2f6e5e" stroke-width="1"/>
<line x1="254" y1="489.4" x2="257.4" y2="489.4" stroke="#2f6e5e" stroke-width="1"/>
<line x1="276.9" y1="480.29" x2="276.9" y2="490.7" stroke="#2f6e5e" stroke-width="1"/>
<line x1="275.2" y1="480.29" x2="278.6" y2="480.29" stroke="#2f6e5e" stroke-width="1"/>
<line x1="275.2" y1="490.7" x2="278.6" y2="490.7" stroke="#2f6e5e" stroke-width="1"/>
<line x1="191.5" y1="482.89" x2="191.5" y2="489.83" stroke="#4a2669" stroke-width="1"/>
<line x1="189.8" y1="482.89" x2="193.2" y2="482.89" stroke="#4a2669" stroke-width="1"/>
<line x1="189.8" y1="489.83" x2="193.2" y2="489.83" stroke="#4a2669" stroke-width="1"/>
<line x1="213.2" y1="478.55" x2="213.2" y2="485.49" stroke="#4a2669" stroke-width="1"/>
<line x1="211.5" y1="478.55" x2="214.9" y2="478.55" stroke="#4a2669" stroke-width="1"/>
<line x1="211.5" y1="485.49" x2="214.9" y2="485.49" stroke="#4a2669" stroke-width="1"/>
<line x1="234.2" y1="475.51" x2="234.2" y2="484.19" stroke="#4a2669" stroke-width="1"/>
<line x1="232.5" y1="475.51" x2="235.9" y2="475.51" stroke="#4a2669" stroke-width="1"/>
<line x1="232.5" y1="484.19" x2="235.9" y2="484.19" stroke="#4a2669" stroke-width="1"/>
<line x1="255.7" y1="465.96" x2="255.7" y2="474.64" stroke="#4a2669" stroke-width="1"/>
<line x1="254" y1="465.96" x2="257.4" y2="465.96" stroke="#4a2669" stroke-width="1"/>
<line x1="254" y1="474.64" x2="257.4" y2="474.64" stroke="#4a2669" stroke-width="1"/>
<line x1="276.9" y1="459.89" x2="276.9" y2="468.57" stroke="#4a2669" stroke-width="1"/>
<line x1="275.2" y1="459.89" x2="278.6" y2="459.89" stroke="#4a2669" stroke-width="1"/>
<line x1="275.2" y1="468.57" x2="278.6" y2="468.57" stroke="#4a2669" stroke-width="1"/>
<line x1="191.5" y1="481.59" x2="191.5" y2="488.53" stroke="#72b24e" stroke-width="1"/>
<line x1="189.8" y1="481.59" x2="193.2" y2="481.59" stroke="#72b24e" stroke-width="1"/>
<line x1="189.8" y1="488.53" x2="193.2" y2="488.53" stroke="#72b24e" stroke-width="1"/>
<line x1="213.2" y1="477.68" x2="213.2" y2="484.63" stroke="#72b24e" stroke-width="1"/>
<line x1="211.5" y1="477.68" x2="214.9" y2="477.68" stroke="#72b24e" stroke-width="1"/>
<line x1="211.5" y1="484.63" x2="214.9" y2="484.63" stroke="#72b24e" stroke-width="1"/>
<line x1="234.2" y1="473.34" x2="234.2" y2="482.02" stroke="#72b24e" stroke-width="1"/>
<line x1="232.5" y1="473.34" x2="235.9" y2="473.34" stroke="#72b24e" stroke-width="1"/>
<line x1="232.5" y1="482.02" x2="235.9" y2="482.02" stroke="#72b24e" stroke-width="1"/>
<line x1="255.7" y1="464.66" x2="255.7" y2="473.34" stroke="#72b24e" stroke-width="1"/>
<line x1="254" y1="464.66" x2="257.4" y2="464.66" stroke="#72b24e" stroke-width="1"/>
<line x1="254" y1="473.34" x2="257.4" y2="473.34" stroke="#72b24e" stroke-width="1"/>
<line x1="276.9" y1="458.59" x2="276.9" y2="467.27" stroke="#72b24e" stroke-width="1"/>
<line x1="275.2" y1="458.59" x2="278.6" y2="458.59" stroke="#72b24e" stroke-width="1"/>
<line x1="275.2" y1="467.27" x2="278.6" y2="467.27" stroke="#72b24e" stroke-width="1"/>
<line x1="191.5" y1="481.59" x2="191.5" y2="488.53" stroke="#aa1a3c" stroke-width="1"/>
<line x1="189.8" y1="481.59" x2="193.2" y2="481.59" stroke="#aa1a3c" stroke-width="1"/>
<line x1="189.8" y1="488.53" x2="193.2" y2="488.53" stroke="#aa1a3c" stroke-width="1"/>
<line x1="213.2" y1="477.68" x2="213.2" y2="484.63" stroke="#aa1a3c" stroke-width="1"/>
<line x1="211.5" y1="477.68" x2="214.9" y2="477.68" stroke="#aa1a3c" stroke-width="1"/>
<line x1="211.5" y1="484.63" x2="214.9" y2="484.63" stroke="#aa1a3c" stroke-width="1"/>
<line x1="234.2" y1="473.34" x2="234.2" y2="482.02" stroke="#aa1a3c" stroke-width="1"/>
<line x1="232.5" y1="473.34" x2="235.9" y2="473.34" stroke="#aa1a3c" stroke-width="1"/>
<line x1="232.5" y1="482.02" x2="235.9" y2="482.02" stroke="#aa1a3c" stroke-width="1"/>
<line x1="255.7" y1="465.1" x2="255.7" y2="473.78" stroke="#aa1a3c" stroke-width="1"/>
<line x1="254" y1="465.1" x2="257.4" y2="465.1" stroke="#aa1a3c" stroke-width="1"/>
<line x1="254" y1="473.78" x2="257.4" y2="473.78" stroke="#aa1a3c" stroke-width="1"/>
<line x1="276.9" y1="459.02" x2="276.9" y2="467.7" stroke="#aa1a3c" stroke-width="1"/>
<line x1="275.2" y1="459.02" x2="278.6" y2="459.02" stroke="#aa1a3c" stroke-width="1"/>
<line x1="275.2" y1="467.7" x2="278.6" y2="467.7" stroke="#aa1a3c" stroke-width="1"/>
<line x1="191.5" y1="479.85" x2="191.5" y2="486.8" stroke="#ecaa35" stroke-width="1"/>
<line x1="189.8" y1="479.85" x2="193.2" y2="479.85" stroke="#ecaa35" stroke-width="1"/>
<line x1="189.8" y1="486.8" x2="193.2" y2="486.8" stroke="#ecaa35" stroke-width="1"/>
<line x1="213.2" y1="477.68" x2="213.2" y2="484.63" stroke="#ecaa35" stroke-width="1"/>
<line x1="211.5" y1="477.68" x2="214.9" y2="477.68" stroke="#ecaa35" stroke-width="1"/>
<line x1="211.5" y1="484.63" x2="214.9" y2="484.63" stroke="#ecaa35" stroke-width="1"/>
<line x1="234.2" y1="471.17" x2="234.2" y2="481.59" stroke="#ecaa35" stroke-width="1"/>
<line x1="232.5" y1="471.17" x2="235.9" y2="471.17" stroke="#ecaa35" stroke-width="1"/>
<line x1="232.5" y1="481.59" x2="235.9" y2="481.59" stroke="#ecaa35" stroke-width="1"/>
<line x1="255.7" y1="462.06" x2="255.7" y2="474.21" stroke="#ecaa35" stroke-width="1"/>
<line x1="254" y1="462.06" x2="257.4" y2="462.06" stroke="#ecaa35" stroke-width="1"/>
<line x1="254" y1="474.21" x2="257.4" y2="474.21" stroke="#ecaa35" stroke-width="1"/>
<line x1="276.9" y1="455.98" x2="276.9" y2="468.13" stroke="#ecaa35" stroke-width="1"/>
<line x1="275.2" y1="455.98" x2="278.6" y2="455.98" stroke="#ecaa35" stroke-width="1"/>
<line x1="275.2" y1="468.13" x2="278.6" y2="468.13" stroke="#ecaa35" stroke-width="1"/>
<polyline points="191.5,488.97 213.2,487.01 234.2,485.06 255.7,485.93 276.9,487.66" fill="none" stroke="#2f5389" stroke-width="1.1" stroke-linejoin="round"/>
<polyline points="191.5,486.36 213.2,484.63 234.2,482.46 255.7,485.06 276.9,485.49" fill="none" stroke="#2f6e5e" stroke-width="1.1" stroke-linejoin="round"/>
<polyline points="191.5,486.36 213.2,482.02 234.2,479.85 255.7,470.3 276.9,464.23" fill="none" stroke="#4a2669" stroke-width="1.1" stroke-linejoin="round"/>
<polyline points="191.5,485.06 213.2,481.15 234.2,477.68 255.7,469 276.9,462.93" fill="none" stroke="#72b24e" stroke-width="1.1" stroke-linejoin="round"/>
<polyline points="191.5,485.06 213.2,481.15 234.2,477.68 255.7,469.44 276.9,463.36" fill="none" stroke="#aa1a3c" stroke-width="1.1" stroke-linejoin="round"/>
<polyline points="191.5,483.32 213.2,481.15 234.2,476.38 255.7,468.13 276.9,462.06" fill="none" stroke="#ecaa35" stroke-width="1.1" stroke-linejoin="round"/>
<rect x="189.84" y="487.3" width="3.32" height="3.32" fill="#fff" stroke="#2f5389" stroke-width="1.05"/>
<line x1="191.5" y1="487.39" x2="191.5" y2="490.54" stroke="#2f5389" stroke-width="0.8"/>
<rect x="211.54" y="485.35" width="3.32" height="3.32" fill="#fff" stroke="#2f5389" stroke-width="1.05"/>
<line x1="213.2" y1="485.44" x2="213.2" y2="488.59" stroke="#2f5389" stroke-width="0.8"/>
<rect x="232.54" y="483.4" width="3.32" height="3.32" fill="#fff" stroke="#2f5389" stroke-width="1.05"/>
<line x1="234.2" y1="483.48" x2="234.2" y2="486.63" stroke="#2f5389" stroke-width="0.8"/>
<rect x="254.04" y="484.27" width="3.32" height="3.32" fill="#fff" stroke="#2f5389" stroke-width="1.05"/>
<line x1="255.7" y1="484.35" x2="255.7" y2="487.5" stroke="#2f5389" stroke-width="0.8"/>
<rect x="275.24" y="486" width="3.32" height="3.32" fill="#fff" stroke="#2f5389" stroke-width="1.05"/>
<line x1="276.9" y1="486.09" x2="276.9" y2="489.24" stroke="#2f5389" stroke-width="0.8"/>
<circle cx="191.5" cy="486.36" r="1.75" fill="#fff" stroke="#2f6e5e" stroke-width="1.05"/>
<line x1="191.5" y1="484.79" x2="191.5" y2="487.94" stroke="#2f6e5e" stroke-width="0.8"/>
<circle cx="213.2" cy="484.63" r="1.75" fill="#fff" stroke="#2f6e5e" stroke-width="1.05"/>
<line x1="213.2" y1="483.05" x2="213.2" y2="486.2" stroke="#2f6e5e" stroke-width="0.8"/>
<circle cx="234.2" cy="482.46" r="1.75" fill="#fff" stroke="#2f6e5e" stroke-width="1.05"/>
<line x1="234.2" y1="480.88" x2="234.2" y2="484.03" stroke="#2f6e5e" stroke-width="0.8"/>
<circle cx="255.7" cy="485.06" r="1.75" fill="#fff" stroke="#2f6e5e" stroke-width="1.05"/>
<line x1="255.7" y1="483.48" x2="255.7" y2="486.63" stroke="#2f6e5e" stroke-width="0.8"/>
<circle cx="276.9" cy="485.49" r="1.75" fill="#fff" stroke="#2f6e5e" stroke-width="1.05"/>
<line x1="276.9" y1="483.92" x2="276.9" y2="487.07" stroke="#2f6e5e" stroke-width="0.8"/>
<path d="M191.5 488.55L193.51 484.87L189.49 484.87Z" fill="#4a2669" stroke="#4a2669" stroke-width="1.05"/>
<line x1="191.5" y1="484.79" x2="191.5" y2="487.94" stroke="#4a2669" stroke-width="0.8"/>
<path d="M213.2 484.21L215.21 480.53L211.19 480.53Z" fill="#4a2669" stroke="#4a2669" stroke-width="1.05"/>
<line x1="213.2" y1="480.45" x2="213.2" y2="483.6" stroke="#4a2669" stroke-width="0.8"/>
<path d="M234.2 482.04L236.21 478.36L232.19 478.36Z" fill="#4a2669" stroke="#4a2669" stroke-width="1.05"/>
<line x1="234.2" y1="478.28" x2="234.2" y2="481.43" stroke="#4a2669" stroke-width="0.8"/>
<path d="M255.7 472.49L257.71 468.82L253.69 468.82Z" fill="#4a2669" stroke="#4a2669" stroke-width="1.05"/>
<line x1="255.7" y1="468.73" x2="255.7" y2="471.88" stroke="#4a2669" stroke-width="0.8"/>
<path d="M276.9 466.42L278.91 462.74L274.89 462.74Z" fill="#4a2669" stroke="#4a2669" stroke-width="1.05"/>
<line x1="276.9" y1="462.65" x2="276.9" y2="465.8" stroke="#4a2669" stroke-width="0.8"/>
<path d="M191.5 482.87L193.51 486.55L189.49 486.55Z" fill="#fff" stroke="#72b24e" stroke-width="1.05"/>
<line x1="191.5" y1="483.48" x2="191.5" y2="486.63" stroke="#72b24e" stroke-width="0.8"/>
<path d="M213.2 478.97L215.21 482.64L211.19 482.64Z" fill="#fff" stroke="#72b24e" stroke-width="1.05"/>
<line x1="213.2" y1="479.58" x2="213.2" y2="482.73" stroke="#72b24e" stroke-width="0.8"/>
<path d="M234.2 475.49L236.21 479.17L232.19 479.17Z" fill="#fff" stroke="#72b24e" stroke-width="1.05"/>
<line x1="234.2" y1="476.11" x2="234.2" y2="479.26" stroke="#72b24e" stroke-width="0.8"/>
<path d="M255.7 466.81L257.71 470.49L253.69 470.49Z" fill="#fff" stroke="#72b24e" stroke-width="1.05"/>
<line x1="255.7" y1="467.43" x2="255.7" y2="470.58" stroke="#72b24e" stroke-width="0.8"/>
<path d="M276.9 460.74L278.91 464.41L274.89 464.41Z" fill="#fff" stroke="#72b24e" stroke-width="1.05"/>
<line x1="276.9" y1="461.35" x2="276.9" y2="464.5" stroke="#72b24e" stroke-width="0.8"/>
<circle cx="191.5" cy="485.06" r="1.75" fill="#fff" stroke="#aa1a3c" stroke-width="1.05"/>
<line x1="191.5" y1="483.48" x2="191.5" y2="486.63" stroke="#aa1a3c" stroke-width="0.8"/>
<circle cx="213.2" cy="481.15" r="1.75" fill="#fff" stroke="#aa1a3c" stroke-width="1.05"/>
<line x1="213.2" y1="479.58" x2="213.2" y2="482.73" stroke="#aa1a3c" stroke-width="0.8"/>
<circle cx="234.2" cy="477.68" r="1.75" fill="#fff" stroke="#aa1a3c" stroke-width="1.05"/>
<line x1="234.2" y1="476.11" x2="234.2" y2="479.26" stroke="#aa1a3c" stroke-width="0.8"/>
<circle cx="255.7" cy="469.44" r="1.75" fill="#fff" stroke="#aa1a3c" stroke-width="1.05"/>
<line x1="255.7" y1="467.86" x2="255.7" y2="471.01" stroke="#aa1a3c" stroke-width="0.8"/>
<circle cx="276.9" cy="463.36" r="1.75" fill="#fff" stroke="#aa1a3c" stroke-width="1.05"/>
<line x1="276.9" y1="461.78" x2="276.9" y2="464.93" stroke="#aa1a3c" stroke-width="0.8"/>
<path d="M191.5 481.05L193.78 483.32L191.5 485.6L189.22 483.32Z" fill="#fff" stroke="#ecaa35" stroke-width="1.05"/>
<line x1="191.5" y1="481.75" x2="191.5" y2="484.9" stroke="#ecaa35" stroke-width="0.8"/>
<path d="M213.2 478.88L215.47 481.15L213.2 483.43L210.92 481.15Z" fill="#fff" stroke="#ecaa35" stroke-width="1.05"/>
<line x1="213.2" y1="479.58" x2="213.2" y2="482.73" stroke="#ecaa35" stroke-width="0.8"/>
<path d="M234.2 474.1L236.47 476.38L234.2 478.65L231.92 476.38Z" fill="#fff" stroke="#ecaa35" stroke-width="1.05"/>
<line x1="234.2" y1="474.8" x2="234.2" y2="477.95" stroke="#ecaa35" stroke-width="0.8"/>
<path d="M255.7 465.86L257.97 468.13L255.7 470.41L253.42 468.13Z" fill="#fff" stroke="#ecaa35" stroke-width="1.05"/>
<line x1="255.7" y1="466.56" x2="255.7" y2="469.71" stroke="#ecaa35" stroke-width="0.8"/>
<path d="M276.9 459.78L279.17 462.06L276.9 464.33L274.62 462.06Z" fill="#fff" stroke="#ecaa35" stroke-width="1.05"/>
<line x1="276.9" y1="460.48" x2="276.9" y2="463.63" stroke="#ecaa35" stroke-width="0.8"/>
<line x1="36.3" y1="576.65" x2="36.3" y2="665.2" stroke="#111" stroke-width="1.3"/>
<line x1="35.7" y1="664.5" x2="143" y2="664.5" stroke="#111" stroke-width="1.3"/>
<line x1="33.9" y1="664.5" x2="36.3" y2="664.5" stroke="#111" stroke-width="1"/>
<line x1="33.9" y1="647.05" x2="36.3" y2="647.05" stroke="#111" stroke-width="1"/>
<line x1="33.9" y1="629.6" x2="36.3" y2="629.6" stroke="#111" stroke-width="1"/>
<line x1="33.9" y1="612.15" x2="36.3" y2="612.15" stroke="#111" stroke-width="1"/>
<line x1="33.9" y1="594.7" x2="36.3" y2="594.7" stroke="#111" stroke-width="1"/>
<line x1="33.9" y1="577.25" x2="36.3" y2="577.25" stroke="#111" stroke-width="1"/>
<line x1="46.5" y1="664.5" x2="46.5" y2="667.1" stroke="#111" stroke-width="1"/>
<line x1="68.2" y1="664.5" x2="68.2" y2="667.1" stroke="#111" stroke-width="1"/>
<line x1="89.2" y1="664.5" x2="89.2" y2="667.1" stroke="#111" stroke-width="1"/>
<line x1="110.7" y1="664.5" x2="110.7" y2="667.1" stroke="#111" stroke-width="1"/>
<line x1="131.9" y1="664.5" x2="131.9" y2="667.1" stroke="#111" stroke-width="1"/>
<line x1="46.5" y1="625.41" x2="46.5" y2="631" stroke="#4a2669" stroke-width="1"/>
<line x1="44.8" y1="625.41" x2="48.2" y2="625.41" stroke="#4a2669" stroke-width="1"/>
<line x1="44.8" y1="631" x2="48.2" y2="631" stroke="#4a2669" stroke-width="1"/>
<line x1="68.2" y1="619.83" x2="68.2" y2="631" stroke="#4a2669" stroke-width="1"/>
<line x1="66.5" y1="619.83" x2="69.9" y2="619.83" stroke="#4a2669" stroke-width="1"/>
<line x1="66.5" y1="631" x2="69.9" y2="631" stroke="#4a2669" stroke-width="1"/>
<line x1="89.2" y1="624.71" x2="89.2" y2="631.69" stroke="#4a2669" stroke-width="1"/>
<line x1="87.5" y1="624.71" x2="90.9" y2="624.71" stroke="#4a2669" stroke-width="1"/>
<line x1="87.5" y1="631.69" x2="90.9" y2="631.69" stroke="#4a2669" stroke-width="1"/>
<line x1="110.7" y1="621.92" x2="110.7" y2="635.88" stroke="#4a2669" stroke-width="1"/>
<line x1="109" y1="621.92" x2="112.4" y2="621.92" stroke="#4a2669" stroke-width="1"/>
<line x1="109" y1="635.88" x2="112.4" y2="635.88" stroke="#4a2669" stroke-width="1"/>
<line x1="131.9" y1="626.81" x2="131.9" y2="633.79" stroke="#4a2669" stroke-width="1"/>
<line x1="130.2" y1="626.81" x2="133.6" y2="626.81" stroke="#4a2669" stroke-width="1"/>
<line x1="130.2" y1="633.79" x2="133.6" y2="633.79" stroke="#4a2669" stroke-width="1"/>
<line x1="46.5" y1="626.11" x2="46.5" y2="631.69" stroke="#2f5389" stroke-width="1"/>
<line x1="44.8" y1="626.11" x2="48.2" y2="626.11" stroke="#2f5389" stroke-width="1"/>
<line x1="44.8" y1="631.69" x2="48.2" y2="631.69" stroke="#2f5389" stroke-width="1"/>
<line x1="68.2" y1="621.92" x2="68.2" y2="628.9" stroke="#2f5389" stroke-width="1"/>
<line x1="66.5" y1="621.92" x2="69.9" y2="621.92" stroke="#2f5389" stroke-width="1"/>
<line x1="66.5" y1="628.9" x2="69.9" y2="628.9" stroke="#2f5389" stroke-width="1"/>
<line x1="89.2" y1="617.73" x2="89.2" y2="624.71" stroke="#2f5389" stroke-width="1"/>
<line x1="87.5" y1="617.73" x2="90.9" y2="617.73" stroke="#2f5389" stroke-width="1"/>
<line x1="87.5" y1="624.71" x2="90.9" y2="624.71" stroke="#2f5389" stroke-width="1"/>
<line x1="110.7" y1="615.29" x2="110.7" y2="622.27" stroke="#2f5389" stroke-width="1"/>
<line x1="109" y1="615.29" x2="112.4" y2="615.29" stroke="#2f5389" stroke-width="1"/>
<line x1="109" y1="622.27" x2="112.4" y2="622.27" stroke="#2f5389" stroke-width="1"/>
<line x1="131.9" y1="609.71" x2="131.9" y2="618.08" stroke="#2f5389" stroke-width="1"/>
<line x1="130.2" y1="609.71" x2="133.6" y2="609.71" stroke="#2f5389" stroke-width="1"/>
<line x1="130.2" y1="618.08" x2="133.6" y2="618.08" stroke="#2f5389" stroke-width="1"/>
<line x1="46.5" y1="627.86" x2="46.5" y2="633.44" stroke="#72b24e" stroke-width="1"/>
<line x1="44.8" y1="627.86" x2="48.2" y2="627.86" stroke="#72b24e" stroke-width="1"/>
<line x1="44.8" y1="633.44" x2="48.2" y2="633.44" stroke="#72b24e" stroke-width="1"/>
<line x1="68.2" y1="621.92" x2="68.2" y2="628.9" stroke="#72b24e" stroke-width="1"/>
<line x1="66.5" y1="621.92" x2="69.9" y2="621.92" stroke="#72b24e" stroke-width="1"/>
<line x1="66.5" y1="628.9" x2="69.9" y2="628.9" stroke="#72b24e" stroke-width="1"/>
<line x1="89.2" y1="616.34" x2="89.2" y2="623.32" stroke="#72b24e" stroke-width="1"/>
<line x1="87.5" y1="616.34" x2="90.9" y2="616.34" stroke="#72b24e" stroke-width="1"/>
<line x1="87.5" y1="623.32" x2="90.9" y2="623.32" stroke="#72b24e" stroke-width="1"/>
<line x1="110.7" y1="611.1" x2="110.7" y2="618.08" stroke="#72b24e" stroke-width="1"/>
<line x1="109" y1="611.1" x2="112.4" y2="611.1" stroke="#72b24e" stroke-width="1"/>
<line x1="109" y1="618.08" x2="112.4" y2="618.08" stroke="#72b24e" stroke-width="1"/>
<line x1="131.9" y1="605.52" x2="131.9" y2="613.89" stroke="#72b24e" stroke-width="1"/>
<line x1="130.2" y1="605.52" x2="133.6" y2="605.52" stroke="#72b24e" stroke-width="1"/>
<line x1="130.2" y1="613.89" x2="133.6" y2="613.89" stroke="#72b24e" stroke-width="1"/>
<line x1="46.5" y1="626.81" x2="46.5" y2="632.39" stroke="#2f6e5e" stroke-width="1"/>
<line x1="44.8" y1="626.81" x2="48.2" y2="626.81" stroke="#2f6e5e" stroke-width="1"/>
<line x1="44.8" y1="632.39" x2="48.2" y2="632.39" stroke="#2f6e5e" stroke-width="1"/>
<line x1="68.2" y1="619.83" x2="68.2" y2="631" stroke="#2f6e5e" stroke-width="1"/>
<line x1="66.5" y1="619.83" x2="69.9" y2="619.83" stroke="#2f6e5e" stroke-width="1"/>
<line x1="66.5" y1="631" x2="69.9" y2="631" stroke="#2f6e5e" stroke-width="1"/>
<line x1="89.2" y1="611.8" x2="89.2" y2="620.18" stroke="#2f6e5e" stroke-width="1"/>
<line x1="87.5" y1="611.8" x2="90.9" y2="611.8" stroke="#2f6e5e" stroke-width="1"/>
<line x1="87.5" y1="620.18" x2="90.9" y2="620.18" stroke="#2f6e5e" stroke-width="1"/>
<line x1="110.7" y1="603.77" x2="110.7" y2="612.15" stroke="#2f6e5e" stroke-width="1"/>
<line x1="109" y1="603.77" x2="112.4" y2="603.77" stroke="#2f6e5e" stroke-width="1"/>
<line x1="109" y1="612.15" x2="112.4" y2="612.15" stroke="#2f6e5e" stroke-width="1"/>
<line x1="131.9" y1="600.28" x2="131.9" y2="607.26" stroke="#2f6e5e" stroke-width="1"/>
<line x1="130.2" y1="600.28" x2="133.6" y2="600.28" stroke="#2f6e5e" stroke-width="1"/>
<line x1="130.2" y1="607.26" x2="133.6" y2="607.26" stroke="#2f6e5e" stroke-width="1"/>
<line x1="46.5" y1="621.57" x2="46.5" y2="627.16" stroke="#ecaa35" stroke-width="1"/>
<line x1="44.8" y1="621.57" x2="48.2" y2="621.57" stroke="#ecaa35" stroke-width="1"/>
<line x1="44.8" y1="627.16" x2="48.2" y2="627.16" stroke="#ecaa35" stroke-width="1"/>
<line x1="68.2" y1="617.73" x2="68.2" y2="624.71" stroke="#ecaa35" stroke-width="1"/>
<line x1="66.5" y1="617.73" x2="69.9" y2="617.73" stroke="#ecaa35" stroke-width="1"/>
<line x1="66.5" y1="624.71" x2="69.9" y2="624.71" stroke="#ecaa35" stroke-width="1"/>
<line x1="89.2" y1="609.36" x2="89.2" y2="616.34" stroke="#ecaa35" stroke-width="1"/>
<line x1="87.5" y1="609.36" x2="90.9" y2="609.36" stroke="#ecaa35" stroke-width="1"/>
<line x1="87.5" y1="616.34" x2="90.9" y2="616.34" stroke="#ecaa35" stroke-width="1"/>
<line x1="110.7" y1="605.87" x2="110.7" y2="612.85" stroke="#ecaa35" stroke-width="1"/>
<line x1="109" y1="605.87" x2="112.4" y2="605.87" stroke="#ecaa35" stroke-width="1"/>
<line x1="109" y1="612.85" x2="112.4" y2="612.85" stroke="#ecaa35" stroke-width="1"/>
<line x1="131.9" y1="601.68" x2="131.9" y2="610.06" stroke="#ecaa35" stroke-width="1"/>
<line x1="130.2" y1="601.68" x2="133.6" y2="601.68" stroke="#ecaa35" stroke-width="1"/>
<line x1="130.2" y1="610.06" x2="133.6" y2="610.06" stroke="#ecaa35" stroke-width="1"/>
<line x1="46.5" y1="623.67" x2="46.5" y2="629.25" stroke="#aa1a3c" stroke-width="1"/>
<line x1="44.8" y1="623.67" x2="48.2" y2="623.67" stroke="#aa1a3c" stroke-width="1"/>
<line x1="44.8" y1="629.25" x2="48.2" y2="629.25" stroke="#aa1a3c" stroke-width="1"/>
<line x1="68.2" y1="611.45" x2="68.2" y2="625.41" stroke="#aa1a3c" stroke-width="1"/>
<line x1="66.5" y1="611.45" x2="69.9" y2="611.45" stroke="#aa1a3c" stroke-width="1"/>
<line x1="66.5" y1="625.41" x2="69.9" y2="625.41" stroke="#aa1a3c" stroke-width="1"/>
<line x1="89.2" y1="603.42" x2="89.2" y2="609.01" stroke="#aa1a3c" stroke-width="1"/>
<line x1="87.5" y1="603.42" x2="90.9" y2="603.42" stroke="#aa1a3c" stroke-width="1"/>
<line x1="87.5" y1="609.01" x2="90.9" y2="609.01" stroke="#aa1a3c" stroke-width="1"/>
<line x1="110.7" y1="597.49" x2="110.7" y2="603.08" stroke="#aa1a3c" stroke-width="1"/>
<line x1="109" y1="597.49" x2="112.4" y2="597.49" stroke="#aa1a3c" stroke-width="1"/>
<line x1="109" y1="603.08" x2="112.4" y2="603.08" stroke="#aa1a3c" stroke-width="1"/>
<line x1="131.9" y1="585.98" x2="131.9" y2="595.75" stroke="#aa1a3c" stroke-width="1"/>
<line x1="130.2" y1="585.98" x2="133.6" y2="585.98" stroke="#aa1a3c" stroke-width="1"/>
<line x1="130.2" y1="595.75" x2="133.6" y2="595.75" stroke="#aa1a3c" stroke-width="1"/>
<polyline points="46.5,628.2 68.2,625.41 89.2,628.2 110.7,628.9 131.9,630.3" fill="none" stroke="#4a2669" stroke-width="1.1" stroke-linejoin="round"/>
<polyline points="46.5,628.9 68.2,625.41 89.2,621.22 110.7,618.78 131.9,613.89" fill="none" stroke="#2f5389" stroke-width="1.1" stroke-linejoin="round"/>
<polyline points="46.5,630.65 68.2,625.41 89.2,619.83 110.7,614.59 131.9,609.71" fill="none" stroke="#72b24e" stroke-width="1.1" stroke-linejoin="round"/>
<polyline points="46.5,629.6 68.2,625.41 89.2,615.99 110.7,607.96 131.9,603.77" fill="none" stroke="#2f6e5e" stroke-width="1.1" stroke-linejoin="round"/>
<polyline points="46.5,624.37 68.2,621.22 89.2,612.85 110.7,609.36 131.9,605.87" fill="none" stroke="#ecaa35" stroke-width="1.1" stroke-linejoin="round"/>
<polyline points="46.5,626.46 68.2,618.43 89.2,606.22 110.7,600.28 131.9,590.86" fill="none" stroke="#aa1a3c" stroke-width="1.1" stroke-linejoin="round"/>
<path d="M46.5 630.39L48.51 626.72L44.49 626.72Z" fill="#4a2669" stroke="#4a2669" stroke-width="1.05"/>
<line x1="46.5" y1="626.63" x2="46.5" y2="629.78" stroke="#4a2669" stroke-width="0.8"/>
<path d="M68.2 627.6L70.21 623.92L66.19 623.92Z" fill="#4a2669" stroke="#4a2669" stroke-width="1.05"/>
<line x1="68.2" y1="623.84" x2="68.2" y2="626.99" stroke="#4a2669" stroke-width="0.8"/>
<path d="M89.2 630.39L91.21 626.72L87.19 626.72Z" fill="#4a2669" stroke="#4a2669" stroke-width="1.05"/>
<line x1="89.2" y1="626.63" x2="89.2" y2="629.78" stroke="#4a2669" stroke-width="0.8"/>
<path d="M110.7 631.09L112.71 627.41L108.69 627.41Z" fill="#4a2669" stroke="#4a2669" stroke-width="1.05"/>
<line x1="110.7" y1="627.33" x2="110.7" y2="630.48" stroke="#4a2669" stroke-width="0.8"/>
<path d="M131.9 632.49L133.91 628.81L129.89 628.81Z" fill="#4a2669" stroke="#4a2669" stroke-width="1.05"/>
<line x1="131.9" y1="628.72" x2="131.9" y2="631.87" stroke="#4a2669" stroke-width="0.8"/>
<rect x="44.84" y="627.24" width="3.32" height="3.32" fill="#fff" stroke="#2f5389" stroke-width="1.05"/>
<line x1="46.5" y1="627.33" x2="46.5" y2="630.48" stroke="#2f5389" stroke-width="0.8"/>
<rect x="66.54" y="623.75" width="3.32" height="3.32" fill="#fff" stroke="#2f5389" stroke-width="1.05"/>
<line x1="68.2" y1="623.84" x2="68.2" y2="626.99" stroke="#2f5389" stroke-width="0.8"/>
<rect x="87.54" y="619.56" width="3.32" height="3.32" fill="#fff" stroke="#2f5389" stroke-width="1.05"/>
<line x1="89.2" y1="619.65" x2="89.2" y2="622.8" stroke="#2f5389" stroke-width="0.8"/>
<rect x="109.04" y="617.12" width="3.32" height="3.32" fill="#fff" stroke="#2f5389" stroke-width="1.05"/>
<line x1="110.7" y1="617.21" x2="110.7" y2="620.36" stroke="#2f5389" stroke-width="0.8"/>
<rect x="130.24" y="612.23" width="3.32" height="3.32" fill="#fff" stroke="#2f5389" stroke-width="1.05"/>
<line x1="131.9" y1="612.32" x2="131.9" y2="615.47" stroke="#2f5389" stroke-width="0.8"/>
<path d="M46.5 628.46L48.51 632.13L44.49 632.13Z" fill="#fff" stroke="#72b24e" stroke-width="1.05"/>
<line x1="46.5" y1="629.07" x2="46.5" y2="632.22" stroke="#72b24e" stroke-width="0.8"/>
<path d="M68.2 623.22L70.21 626.9L66.19 626.9Z" fill="#fff" stroke="#72b24e" stroke-width="1.05"/>
<line x1="68.2" y1="623.84" x2="68.2" y2="626.99" stroke="#72b24e" stroke-width="0.8"/>
<path d="M89.2 617.64L91.21 621.32L87.19 621.32Z" fill="#fff" stroke="#72b24e" stroke-width="1.05"/>
<line x1="89.2" y1="618.25" x2="89.2" y2="621.4" stroke="#72b24e" stroke-width="0.8"/>
<path d="M110.7 612.41L112.71 616.08L108.69 616.08Z" fill="#fff" stroke="#72b24e" stroke-width="1.05"/>
<line x1="110.7" y1="613.02" x2="110.7" y2="616.17" stroke="#72b24e" stroke-width="0.8"/>
<path d="M131.9 607.52L133.91 611.19L129.89 611.19Z" fill="#fff" stroke="#72b24e" stroke-width="1.05"/>
<line x1="131.9" y1="608.13" x2="131.9" y2="611.28" stroke="#72b24e" stroke-width="0.8"/>
<circle cx="46.5" cy="629.6" r="1.75" fill="#fff" stroke="#2f6e5e" stroke-width="1.05"/>
<line x1="46.5" y1="628.02" x2="46.5" y2="631.18" stroke="#2f6e5e" stroke-width="0.8"/>
<circle cx="68.2" cy="625.41" r="1.75" fill="#fff" stroke="#2f6e5e" stroke-width="1.05"/>
<line x1="68.2" y1="623.84" x2="68.2" y2="626.99" stroke="#2f6e5e" stroke-width="0.8"/>
<circle cx="89.2" cy="615.99" r="1.75" fill="#fff" stroke="#2f6e5e" stroke-width="1.05"/>
<line x1="89.2" y1="614.41" x2="89.2" y2="617.56" stroke="#2f6e5e" stroke-width="0.8"/>
<circle cx="110.7" cy="607.96" r="1.75" fill="#fff" stroke="#2f6e5e" stroke-width="1.05"/>
<line x1="110.7" y1="606.39" x2="110.7" y2="609.54" stroke="#2f6e5e" stroke-width="0.8"/>
<circle cx="131.9" cy="603.77" r="1.75" fill="#fff" stroke="#2f6e5e" stroke-width="1.05"/>
<line x1="131.9" y1="602.2" x2="131.9" y2="605.35" stroke="#2f6e5e" stroke-width="0.8"/>
<path d="M46.5 622.09L48.77 624.37L46.5 626.64L44.23 624.37Z" fill="#fff" stroke="#ecaa35" stroke-width="1.05"/>
<line x1="46.5" y1="622.79" x2="46.5" y2="625.94" stroke="#ecaa35" stroke-width="0.8"/>
<path d="M68.2 618.95L70.48 621.22L68.2 623.5L65.92 621.22Z" fill="#fff" stroke="#ecaa35" stroke-width="1.05"/>
<line x1="68.2" y1="619.65" x2="68.2" y2="622.8" stroke="#ecaa35" stroke-width="0.8"/>
<path d="M89.2 610.57L91.48 612.85L89.2 615.12L86.92 612.85Z" fill="#fff" stroke="#ecaa35" stroke-width="1.05"/>
<line x1="89.2" y1="611.27" x2="89.2" y2="614.42" stroke="#ecaa35" stroke-width="0.8"/>
<path d="M110.7 607.08L112.98 609.36L110.7 611.63L108.42 609.36Z" fill="#fff" stroke="#ecaa35" stroke-width="1.05"/>
<line x1="110.7" y1="607.78" x2="110.7" y2="610.93" stroke="#ecaa35" stroke-width="0.8"/>
<path d="M131.9 603.59L134.18 605.87L131.9 608.14L129.62 605.87Z" fill="#fff" stroke="#ecaa35" stroke-width="1.05"/>
<line x1="131.9" y1="604.29" x2="131.9" y2="607.44" stroke="#ecaa35" stroke-width="0.8"/>
<circle cx="46.5" cy="626.46" r="1.75" fill="#fff" stroke="#aa1a3c" stroke-width="1.05"/>
<line x1="46.5" y1="624.88" x2="46.5" y2="628.03" stroke="#aa1a3c" stroke-width="0.8"/>
<circle cx="68.2" cy="618.43" r="1.75" fill="#fff" stroke="#aa1a3c" stroke-width="1.05"/>
<line x1="68.2" y1="616.86" x2="68.2" y2="620.01" stroke="#aa1a3c" stroke-width="0.8"/>
<circle cx="89.2" cy="606.22" r="1.75" fill="#fff" stroke="#aa1a3c" stroke-width="1.05"/>
<line x1="89.2" y1="604.64" x2="89.2" y2="607.79" stroke="#aa1a3c" stroke-width="0.8"/>
<circle cx="110.7" cy="600.28" r="1.75" fill="#fff" stroke="#aa1a3c" stroke-width="1.05"/>
<line x1="110.7" y1="598.71" x2="110.7" y2="601.86" stroke="#aa1a3c" stroke-width="0.8"/>
<circle cx="131.9" cy="590.86" r="1.75" fill="#fff" stroke="#aa1a3c" stroke-width="1.05"/>
<line x1="131.9" y1="589.29" x2="131.9" y2="592.44" stroke="#aa1a3c" stroke-width="0.8"/>
<line x1="143.7" y1="588.5" x2="143.7" y2="630.9" stroke="#111" stroke-width="1.2"/>
<line x1="137.5" y1="589.1" x2="143.7" y2="589.1" stroke="#111" stroke-width="1.1"/>
<line x1="137.7" y1="587.5" x2="137.7" y2="590.7" stroke="#111" stroke-width="1"/>
<line x1="137.5" y1="630.3" x2="143.7" y2="630.3" stroke="#111" stroke-width="1.1"/>
<circle cx="140.4" cy="628.7" r="0.7" fill="#2a2a2a"/>
<line x1="198.3" y1="595.3" x2="208.4" y2="595.3" stroke="#aa1a3c" stroke-width="1.2"/>
<circle cx="203.3" cy="595.3" r="1.9" fill="#fff" stroke="#aa1a3c" stroke-width="1.05"/>
<line x1="203.3" y1="593.59" x2="203.3" y2="597.01" stroke="#aa1a3c" stroke-width="0.8"/>
<line x1="198.3" y1="605.36" x2="208.4" y2="605.36" stroke="#2f5389" stroke-width="1.2"/>
<rect x="201.5" y="603.55" width="3.61" height="3.61" fill="#fff" stroke="#2f5389" stroke-width="1.05"/>
<line x1="203.3" y1="603.65" x2="203.3" y2="607.07" stroke="#2f5389" stroke-width="0.8"/>
<line x1="198.3" y1="615.42" x2="208.4" y2="615.42" stroke="#72b24e" stroke-width="1.2"/>
<path d="M203.3 613.04L205.49 617.03L201.12 617.03Z" fill="#fff" stroke="#72b24e" stroke-width="1.05"/>
<line x1="203.3" y1="613.71" x2="203.3" y2="617.13" stroke="#72b24e" stroke-width="0.8"/>
<line x1="198.3" y1="625.48" x2="208.4" y2="625.48" stroke="#4a2669" stroke-width="1.2"/>
<path d="M203.3 627.85L205.49 623.86L201.12 623.86Z" fill="#4a2669" stroke="#4a2669" stroke-width="1.05"/>
<line x1="203.3" y1="623.77" x2="203.3" y2="627.19" stroke="#4a2669" stroke-width="0.8"/>
<line x1="198.3" y1="635.54" x2="208.4" y2="635.54" stroke="#ecaa35" stroke-width="1.2"/>
<path d="M203.3 633.07L205.77 635.54L203.3 638.01L200.83 635.54Z" fill="#fff" stroke="#ecaa35" stroke-width="1.05"/>
<line x1="203.3" y1="633.83" x2="203.3" y2="637.25" stroke="#ecaa35" stroke-width="0.8"/>
<line x1="198.3" y1="645.6" x2="208.4" y2="645.6" stroke="#2f6e5e" stroke-width="1.2"/>
<circle cx="203.3" cy="645.6" r="1.9" fill="#fff" stroke="#2f6e5e" stroke-width="1.05"/>
<line x1="203.3" y1="643.89" x2="203.3" y2="647.31" stroke="#2f6e5e" stroke-width="0.8"/>
<rect x="339" y="202" width="27.9" height="7.62" fill="#fd8e06"/>
<rect x="366.2" y="202" width="27.9" height="7.62" fill="#fd6c06"/>
<rect x="393.4" y="202" width="27.9" height="7.62" fill="#fd9805"/>
<rect x="420.6" y="202" width="27.9" height="7.62" fill="#fc0408"/>
<rect x="447.8" y="202" width="27.2" height="7.62" fill="#fd8e06"/>
<rect x="339" y="208.91" width="27.9" height="7.62" fill="#fd8e06"/>
<rect x="366.2" y="208.91" width="27.9" height="7.62" fill="#fd7906"/>
<rect x="393.4" y="208.91" width="27.9" height="7.62" fill="#fd8e06"/>
<rect x="420.6" y="208.91" width="27.9" height="7.62" fill="#fc0408"/>
<rect x="447.8" y="208.91" width="27.2" height="7.62" fill="#fd8e06"/>
<rect x="339" y="215.83" width="27.9" height="7.62" fill="#b9db14"/>
<rect x="366.2" y="215.83" width="27.9" height="7.62" fill="#ffe501"/>
<rect x="393.4" y="215.83" width="27.9" height="7.62" fill="#fff400"/>
<rect x="420.6" y="215.83" width="27.9" height="7.62" fill="#fc0408"/>
<rect x="447.8" y="215.83" width="27.2" height="7.62" fill="#ffe501"/>
<rect x="339" y="222.75" width="27.9" height="7.62" fill="#fd8e06"/>
<rect x="366.2" y="222.75" width="27.9" height="7.62" fill="#fd8706"/>
<rect x="393.4" y="222.75" width="27.9" height="7.62" fill="#fd8e06"/>
<rect x="420.6" y="222.75" width="27.9" height="7.62" fill="#fd8006"/>
<rect x="447.8" y="222.75" width="27.2" height="7.62" fill="#fd8e06"/>
<rect x="339" y="229.66" width="27.9" height="7.62" fill="#fd8e06"/>
<rect x="366.2" y="229.66" width="27.9" height="7.62" fill="#fd8706"/>
<rect x="393.4" y="229.66" width="27.9" height="7.62" fill="#fc0b08"/>
<rect x="420.6" y="229.66" width="27.9" height="7.62" fill="#fc0408"/>
<rect x="447.8" y="229.66" width="27.2" height="7.62" fill="#fd8e06"/>
<rect x="339" y="236.57" width="27.9" height="7.62" fill="#fd8e06"/>
<rect x="366.2" y="236.57" width="27.9" height="7.62" fill="#fd8706"/>
<rect x="393.4" y="236.57" width="27.9" height="7.62" fill="#fd6c06"/>
<rect x="420.6" y="236.57" width="27.9" height="7.62" fill="#fc0408"/>
<rect x="447.8" y="236.57" width="27.2" height="7.62" fill="#fd8e06"/>
<rect x="339" y="243.49" width="27.9" height="7.62" fill="#fd8e06"/>
<rect x="366.2" y="243.49" width="27.9" height="7.62" fill="#e1e908"/>
<rect x="393.4" y="243.49" width="27.9" height="7.62" fill="#fff400"/>
<rect x="420.6" y="243.49" width="27.9" height="7.62" fill="#15c418"/>
<rect x="447.8" y="243.49" width="27.2" height="7.62" fill="#fd8e06"/>
<rect x="339" y="250.41" width="27.9" height="7.62" fill="#15c418"/>
<rect x="366.2" y="250.41" width="27.9" height="7.62" fill="#15c418"/>
<rect x="393.4" y="250.41" width="27.9" height="7.62" fill="#15c418"/>
<rect x="420.6" y="250.41" width="27.9" height="7.62" fill="#15c418"/>
<rect x="447.8" y="250.41" width="27.2" height="7.62" fill="#fc4207"/>
<rect x="339" y="257.32" width="27.9" height="7.62" fill="#ffea01"/>
<rect x="366.2" y="257.32" width="27.9" height="7.62" fill="#fd8e06"/>
<rect x="393.4" y="257.32" width="27.9" height="7.62" fill="#fc0b08"/>
<rect x="420.6" y="257.32" width="27.9" height="7.62" fill="#fc0408"/>
<rect x="447.8" y="257.32" width="27.2" height="7.62" fill="#fd8e06"/>
<rect x="339" y="264.24" width="27.9" height="7.62" fill="#fd9306"/>
<rect x="366.2" y="264.24" width="27.9" height="7.62" fill="#fd8006"/>
<rect x="393.4" y="264.24" width="27.9" height="7.62" fill="#feb204"/>
<rect x="420.6" y="264.24" width="27.9" height="7.62" fill="#fc3407"/>
<rect x="447.8" y="264.24" width="27.2" height="7.62" fill="#fd8e06"/>
<rect x="339" y="271.15" width="27.9" height="7.62" fill="#fd8e06"/>
<rect x="366.2" y="271.15" width="27.9" height="7.62" fill="#fd7906"/>
<rect x="393.4" y="271.15" width="27.9" height="7.62" fill="#fc3b07"/>
<rect x="420.6" y="271.15" width="27.9" height="7.62" fill="#fc0b08"/>
<rect x="447.8" y="271.15" width="27.2" height="7.62" fill="#fd8e06"/>
<rect x="339" y="278.06" width="27.9" height="7.62" fill="#fd6507"/>
<rect x="366.2" y="278.06" width="27.9" height="7.62" fill="#fd6507"/>
<rect x="393.4" y="278.06" width="27.9" height="7.62" fill="#fd5707"/>
<rect x="420.6" y="278.06" width="27.9" height="7.62" fill="#fd5707"/>
<rect x="447.8" y="278.06" width="27.2" height="7.62" fill="#fd8e06"/>
<rect x="339" y="284.98" width="27.9" height="7.62" fill="#ffe501"/>
<rect x="366.2" y="284.98" width="27.9" height="7.62" fill="#fd9805"/>
<rect x="393.4" y="284.98" width="27.9" height="7.62" fill="#fd9805"/>
<rect x="420.6" y="284.98" width="27.9" height="7.62" fill="#fc3b07"/>
<rect x="447.8" y="284.98" width="27.2" height="7.62" fill="#fd8706"/>
<rect x="339" y="291.89" width="27.9" height="7.62" fill="#fec103"/>
<rect x="366.2" y="291.89" width="27.9" height="7.62" fill="#fd8e06"/>
<rect x="393.4" y="291.89" width="27.9" height="7.62" fill="#fd7906"/>
<rect x="420.6" y="291.89" width="27.9" height="7.62" fill="#fc0408"/>
<rect x="447.8" y="291.89" width="27.2" height="7.62" fill="#fd8e06"/>
<rect x="339" y="298.81" width="27.9" height="7.62" fill="#b9db14"/>
<rect x="366.2" y="298.81" width="27.9" height="7.62" fill="#cde20e"/>
<rect x="393.4" y="298.81" width="27.9" height="7.62" fill="#fd7906"/>
<rect x="420.6" y="298.81" width="27.9" height="7.62" fill="#fc0408"/>
<rect x="447.8" y="298.81" width="27.2" height="7.62" fill="#fd7206"/>
<rect x="339" y="305.73" width="27.9" height="7.62" fill="#fd5e07"/>
<rect x="366.2" y="305.73" width="27.9" height="7.62" fill="#fd8e06"/>
<rect x="393.4" y="305.73" width="27.9" height="7.62" fill="#fd8e06"/>
<rect x="420.6" y="305.73" width="27.9" height="7.62" fill="#fd9306"/>
<rect x="447.8" y="305.73" width="27.2" height="7.62" fill="#fd8e06"/>
<rect x="339" y="312.64" width="27.9" height="7.62" fill="#fc3b07"/>
<rect x="366.2" y="312.64" width="27.9" height="7.62" fill="#fd8e06"/>
<rect x="393.4" y="312.64" width="27.9" height="7.62" fill="#f5f003"/>
<rect x="420.6" y="312.64" width="27.9" height="7.62" fill="#fc3b07"/>
<rect x="447.8" y="312.64" width="27.2" height="7.62" fill="#fd5707"/>
<rect x="339" y="319.56" width="27.9" height="7.62" fill="#fd8e06"/>
<rect x="366.2" y="319.56" width="27.9" height="7.62" fill="#febc03"/>
<rect x="393.4" y="319.56" width="27.9" height="7.62" fill="#c3de11"/>
<rect x="420.6" y="319.56" width="27.9" height="7.62" fill="#f5f003"/>
<rect x="447.8" y="319.56" width="27.2" height="7.62" fill="#fd8e06"/>
<rect x="339" y="326.47" width="27.9" height="7.62" fill="#fd8e06"/>
<rect x="366.2" y="326.47" width="27.9" height="7.62" fill="#fd8706"/>
<rect x="393.4" y="326.47" width="27.9" height="7.62" fill="#fd8e06"/>
<rect x="420.6" y="326.47" width="27.9" height="7.62" fill="#fd7906"/>
<rect x="447.8" y="326.47" width="27.2" height="7.62" fill="#fd8e06"/>
<rect x="339" y="333.38" width="27.9" height="6.92" fill="#fd8e06"/>
<rect x="366.2" y="333.38" width="27.9" height="6.92" fill="#fec103"/>
<rect x="393.4" y="333.38" width="27.9" height="6.92" fill="#33c719"/>
<rect x="420.6" y="333.38" width="27.9" height="6.92" fill="#fc0408"/>
<rect x="447.8" y="333.38" width="27.2" height="6.92" fill="#fd8e06"/>
<rect x="339" y="202" width="136" height="138.3" fill="none" stroke="#000" stroke-width="1.1"/>
<rect x="339" y="343.4" width="27.9" height="7.56" fill="#fd5707"/>
<rect x="366.2" y="343.4" width="27.9" height="7.56" fill="#fc1908"/>
<rect x="393.4" y="343.4" width="27.9" height="7.56" fill="#fc0408"/>
<rect x="420.6" y="343.4" width="27.9" height="7.56" fill="#fc0408"/>
<rect x="447.8" y="343.4" width="27.2" height="7.56" fill="#fc1208"/>
<rect x="339" y="350.25" width="27.9" height="7.56" fill="#fd8e06"/>
<rect x="366.2" y="350.25" width="27.9" height="7.56" fill="#fd6c06"/>
<rect x="393.4" y="350.25" width="27.9" height="7.56" fill="#fd7906"/>
<rect x="420.6" y="350.25" width="27.9" height="7.56" fill="#fd6c06"/>
<rect x="447.8" y="350.25" width="27.2" height="7.56" fill="#fd8e06"/>
<rect x="339" y="357.11" width="27.9" height="7.56" fill="#fd8e06"/>
<rect x="366.2" y="357.11" width="27.9" height="7.56" fill="#fd8006"/>
<rect x="393.4" y="357.11" width="27.9" height="7.56" fill="#fd8e06"/>
<rect x="420.6" y="357.11" width="27.9" height="7.56" fill="#fd8706"/>
<rect x="447.8" y="357.11" width="27.2" height="7.56" fill="#fd8e06"/>
<rect x="339" y="363.96" width="27.9" height="7.56" fill="#fd9805"/>
<rect x="366.2" y="363.96" width="27.9" height="7.56" fill="#fd8e06"/>
<rect x="393.4" y="363.96" width="27.9" height="7.56" fill="#fd8e06"/>
<rect x="420.6" y="363.96" width="27.9" height="7.56" fill="#fd8e06"/>
<rect x="447.8" y="363.96" width="27.2" height="7.56" fill="#fd9306"/>
<rect x="339" y="370.82" width="27.9" height="7.56" fill="#fd6c06"/>
<rect x="366.2" y="370.82" width="27.9" height="7.56" fill="#fd5e07"/>
<rect x="393.4" y="370.82" width="27.9" height="7.56" fill="#fd7906"/>
<rect x="420.6" y="370.82" width="27.9" height="7.56" fill="#fd5e07"/>
<rect x="447.8" y="370.82" width="27.2" height="7.56" fill="#fd8006"/>
<rect x="339" y="377.67" width="27.9" height="7.56" fill="#fd8e06"/>
<rect x="366.2" y="377.67" width="27.9" height="7.56" fill="#fd8706"/>
<rect x="393.4" y="377.67" width="27.9" height="7.56" fill="#fd8e06"/>
<rect x="420.6" y="377.67" width="27.9" height="7.56" fill="#fd8706"/>
<rect x="447.8" y="377.67" width="27.2" height="7.56" fill="#fd8e06"/>
<rect x="339" y="384.53" width="27.9" height="7.56" fill="#fec103"/>
<rect x="366.2" y="384.53" width="27.9" height="7.56" fill="#fd8e06"/>
<rect x="393.4" y="384.53" width="27.9" height="7.56" fill="#fc2d07"/>
<rect x="420.6" y="384.53" width="27.9" height="7.56" fill="#fc0b08"/>
<rect x="447.8" y="384.53" width="27.2" height="7.56" fill="#fc3b07"/>
<rect x="339" y="391.38" width="27.9" height="7.56" fill="#fd6507"/>
<rect x="366.2" y="391.38" width="27.9" height="7.56" fill="#fd7206"/>
<rect x="393.4" y="391.38" width="27.9" height="7.56" fill="#fd5e07"/>
<rect x="420.6" y="391.38" width="27.9" height="7.56" fill="#fd7906"/>
<rect x="447.8" y="391.38" width="27.2" height="7.56" fill="#fd7906"/>
<rect x="339" y="398.24" width="27.9" height="7.56" fill="#fd9805"/>
<rect x="366.2" y="398.24" width="27.9" height="7.56" fill="#fd8006"/>
<rect x="393.4" y="398.24" width="27.9" height="7.56" fill="#fd5707"/>
<rect x="420.6" y="398.24" width="27.9" height="7.56" fill="#fd8e06"/>
<rect x="447.8" y="398.24" width="27.2" height="7.56" fill="#fd8706"/>
<rect x="339" y="405.09" width="27.9" height="7.56" fill="#fc3b07"/>
<rect x="366.2" y="405.09" width="27.9" height="7.56" fill="#fc0408"/>
<rect x="393.4" y="405.09" width="27.9" height="7.56" fill="#fc0408"/>
<rect x="420.6" y="405.09" width="27.9" height="7.56" fill="#fc0408"/>
<rect x="447.8" y="405.09" width="27.2" height="7.56" fill="#fc0408"/>
<rect x="339" y="411.95" width="27.9" height="7.56" fill="#fc3b07"/>
<rect x="366.2" y="411.95" width="27.9" height="7.56" fill="#fc0408"/>
<rect x="393.4" y="411.95" width="27.9" height="7.56" fill="#fc0408"/>
<rect x="420.6" y="411.95" width="27.9" height="7.56" fill="#fc0408"/>
<rect x="447.8" y="411.95" width="27.2" height="7.56" fill="#fc0b08"/>
<rect x="339" y="418.81" width="27.9" height="7.56" fill="#fc3b07"/>
<rect x="366.2" y="418.81" width="27.9" height="7.56" fill="#fc0408"/>
<rect x="393.4" y="418.81" width="27.9" height="7.56" fill="#fc0408"/>
<rect x="420.6" y="418.81" width="27.9" height="7.56" fill="#fc0408"/>
<rect x="447.8" y="418.81" width="27.2" height="7.56" fill="#fc2608"/>
<rect x="339" y="425.66" width="27.9" height="7.56" fill="#ffea01"/>
<rect x="366.2" y="425.66" width="27.9" height="7.56" fill="#feb704"/>
<rect x="393.4" y="425.66" width="27.9" height="7.56" fill="#fc0408"/>
<rect x="420.6" y="425.66" width="27.9" height="7.56" fill="#fea804"/>
<rect x="447.8" y="425.66" width="27.2" height="7.56" fill="#fd5707"/>
<rect x="339" y="432.51" width="27.9" height="7.56" fill="#fd5707"/>
<rect x="366.2" y="432.51" width="27.9" height="7.56" fill="#fd6507"/>
<rect x="393.4" y="432.51" width="27.9" height="7.56" fill="#fc2d07"/>
<rect x="420.6" y="432.51" width="27.9" height="7.56" fill="#fc0408"/>
<rect x="447.8" y="432.51" width="27.2" height="7.56" fill="#fc2d07"/>
<rect x="339" y="439.37" width="27.9" height="7.56" fill="#fc0408"/>
<rect x="366.2" y="439.37" width="27.9" height="7.56" fill="#fd5707"/>
<rect x="393.4" y="439.37" width="27.9" height="7.56" fill="#fc0b08"/>
<rect x="420.6" y="439.37" width="27.9" height="7.56" fill="#fc3b07"/>
<rect x="447.8" y="439.37" width="27.2" height="7.56" fill="#fd5707"/>
<rect x="339" y="446.23" width="27.9" height="7.56" fill="#fd7206"/>
<rect x="366.2" y="446.23" width="27.9" height="7.56" fill="#fd7206"/>
<rect x="393.4" y="446.23" width="27.9" height="7.56" fill="#fd7906"/>
<rect x="420.6" y="446.23" width="27.9" height="7.56" fill="#fd7206"/>
<rect x="447.8" y="446.23" width="27.2" height="7.56" fill="#fd8e06"/>
<rect x="339" y="453.08" width="27.9" height="7.56" fill="#fd7906"/>
<rect x="366.2" y="453.08" width="27.9" height="7.56" fill="#fc2d07"/>
<rect x="393.4" y="453.08" width="27.9" height="7.56" fill="#fd7206"/>
<rect x="420.6" y="453.08" width="27.9" height="7.56" fill="#fd5707"/>
<rect x="447.8" y="453.08" width="27.2" height="7.56" fill="#fc0b08"/>
<rect x="339" y="459.94" width="27.9" height="7.56" fill="#fd9805"/>
<rect x="366.2" y="459.94" width="27.9" height="7.56" fill="#fd7206"/>
<rect x="393.4" y="459.94" width="27.9" height="7.56" fill="#fd7206"/>
<rect x="420.6" y="459.94" width="27.9" height="7.56" fill="#fd5707"/>
<rect x="447.8" y="459.94" width="27.2" height="7.56" fill="#fc2008"/>
<rect x="339" y="466.79" width="27.9" height="7.56" fill="#fd9805"/>
<rect x="366.2" y="466.79" width="27.9" height="7.56" fill="#fd9306"/>
<rect x="393.4" y="466.79" width="27.9" height="7.56" fill="#fd6507"/>
<rect x="420.6" y="466.79" width="27.9" height="7.56" fill="#fd5e07"/>
<rect x="447.8" y="466.79" width="27.2" height="7.56" fill="#fd6507"/>
<rect x="339" y="473.64" width="27.9" height="6.86" fill="#fd5707"/>
<rect x="366.2" y="473.64" width="27.9" height="6.86" fill="#fc0408"/>
<rect x="393.4" y="473.64" width="27.9" height="6.86" fill="#fc0408"/>
<rect x="420.6" y="473.64" width="27.9" height="6.86" fill="#fc0408"/>
<rect x="447.8" y="473.64" width="27.2" height="6.86" fill="#fc0408"/>
<rect x="339" y="343.4" width="136" height="137.1" fill="none" stroke="#000" stroke-width="1.1"/>
<rect x="339" y="483.4" width="27.9" height="11.25" fill="#b9db14"/>
<rect x="366.2" y="483.4" width="27.9" height="11.25" fill="#ffef00"/>
<rect x="393.4" y="483.4" width="27.9" height="11.25" fill="#ffe501"/>
<rect x="420.6" y="483.4" width="27.9" height="11.25" fill="#ffef00"/>
<rect x="447.8" y="483.4" width="27.2" height="11.25" fill="#b9db14"/>
<rect x="339" y="493.95" width="27.9" height="11.25" fill="#fd6507"/>
<rect x="366.2" y="493.95" width="27.9" height="11.25" fill="#feb704"/>
<rect x="393.4" y="493.95" width="27.9" height="11.25" fill="#fd8006"/>
<rect x="420.6" y="493.95" width="27.9" height="11.25" fill="#fd8706"/>
<rect x="447.8" y="493.95" width="27.2" height="11.25" fill="#fd8006"/>
<rect x="339" y="504.49" width="27.9" height="11.25" fill="#feb704"/>
<rect x="366.2" y="504.49" width="27.9" height="11.25" fill="#feb704"/>
<rect x="393.4" y="504.49" width="27.9" height="11.25" fill="#fd9306"/>
<rect x="420.6" y="504.49" width="27.9" height="11.25" fill="#fda205"/>
<rect x="447.8" y="504.49" width="27.2" height="11.25" fill="#fd9d05"/>
<rect x="339" y="515.04" width="27.9" height="11.25" fill="#fda205"/>
<rect x="366.2" y="515.04" width="27.9" height="11.25" fill="#15c418"/>
<rect x="393.4" y="515.04" width="27.9" height="11.25" fill="#fd5707"/>
<rect x="420.6" y="515.04" width="27.9" height="11.25" fill="#faf201"/>
<rect x="447.8" y="515.04" width="27.2" height="11.25" fill="#fd9805"/>
<rect x="339" y="525.58" width="27.9" height="11.25" fill="#fd8e06"/>
<rect x="366.2" y="525.58" width="27.9" height="11.25" fill="#feb704"/>
<rect x="393.4" y="525.58" width="27.9" height="11.25" fill="#fd8e06"/>
<rect x="420.6" y="525.58" width="27.9" height="11.25" fill="#fd9805"/>
<rect x="447.8" y="525.58" width="27.2" height="11.25" fill="#fd9805"/>
<rect x="339" y="536.13" width="27.9" height="11.25" fill="#fda205"/>
<rect x="366.2" y="536.13" width="27.9" height="11.25" fill="#fd8e06"/>
<rect x="393.4" y="536.13" width="27.9" height="11.25" fill="#fd8006"/>
<rect x="420.6" y="536.13" width="27.9" height="11.25" fill="#fd8e06"/>
<rect x="447.8" y="536.13" width="27.2" height="11.25" fill="#fd9306"/>
<rect x="339" y="546.68" width="27.9" height="11.25" fill="#fff400"/>
<rect x="366.2" y="546.68" width="27.9" height="11.25" fill="#fff400"/>
<rect x="393.4" y="546.68" width="27.9" height="11.25" fill="#fc3b07"/>
<rect x="420.6" y="546.68" width="27.9" height="11.25" fill="#fff400"/>
<rect x="447.8" y="546.68" width="27.2" height="11.25" fill="#fd8006"/>
<rect x="339" y="557.22" width="27.9" height="11.25" fill="#fd8e06"/>
<rect x="366.2" y="557.22" width="27.9" height="11.25" fill="#fd8006"/>
<rect x="393.4" y="557.22" width="27.9" height="11.25" fill="#fd8006"/>
<rect x="420.6" y="557.22" width="27.9" height="11.25" fill="#fd8e06"/>
<rect x="447.8" y="557.22" width="27.2" height="11.25" fill="#fd8006"/>
<rect x="339" y="567.77" width="27.9" height="11.25" fill="#fd8e06"/>
<rect x="366.2" y="567.77" width="27.9" height="11.25" fill="#fd8006"/>
<rect x="393.4" y="567.77" width="27.9" height="11.25" fill="#fd7906"/>
<rect x="420.6" y="567.77" width="27.9" height="11.25" fill="#fd8e06"/>
<rect x="447.8" y="567.77" width="27.2" height="11.25" fill="#fd8006"/>
<rect x="339" y="578.32" width="27.9" height="11.25" fill="#fc3b07"/>
<rect x="366.2" y="578.32" width="27.9" height="11.25" fill="#fd5707"/>
<rect x="393.4" y="578.32" width="27.9" height="11.25" fill="#fc3b07"/>
<rect x="420.6" y="578.32" width="27.9" height="11.25" fill="#fc0408"/>
<rect x="447.8" y="578.32" width="27.2" height="11.25" fill="#fc0408"/>
<rect x="339" y="588.86" width="27.9" height="11.25" fill="#fd8e06"/>
<rect x="366.2" y="588.86" width="27.9" height="11.25" fill="#fd7906"/>
<rect x="393.4" y="588.86" width="27.9" height="11.25" fill="#fd6507"/>
<rect x="420.6" y="588.86" width="27.9" height="11.25" fill="#fd8006"/>
<rect x="447.8" y="588.86" width="27.2" height="11.25" fill="#fd8006"/>
<rect x="339" y="599.41" width="27.9" height="11.25" fill="#fd5707"/>
<rect x="366.2" y="599.41" width="27.9" height="11.25" fill="#fc2d07"/>
<rect x="393.4" y="599.41" width="27.9" height="11.25" fill="#fff400"/>
<rect x="420.6" y="599.41" width="27.9" height="11.25" fill="#fd6c06"/>
<rect x="447.8" y="599.41" width="27.2" height="11.25" fill="#fc0408"/>
<rect x="339" y="609.95" width="27.9" height="10.55" fill="#fd8006"/>
<rect x="366.2" y="609.95" width="27.9" height="10.55" fill="#fd8006"/>
<rect x="393.4" y="609.95" width="27.9" height="10.55" fill="#fd7906"/>
<rect x="420.6" y="609.95" width="27.9" height="10.55" fill="#fd8006"/>
<rect x="447.8" y="609.95" width="27.2" height="10.55" fill="#fd8006"/>
<rect x="339" y="483.4" width="136" height="137.1" fill="none" stroke="#000" stroke-width="1.1"/>
<defs><linearGradient id="cb" x1="0" y1="1" x2="0" y2="0"><stop offset="0" stop-color="#fc0408"/><stop offset="0.25" stop-color="#fd8e06"/><stop offset="0.5" stop-color="#ffee00"/><stop offset="0.75" stop-color="#9bd01c"/><stop offset="1" stop-color="#16c41e"/></linearGradient></defs>
<rect x="496.2" y="351.3" width="8.4" height="138.4" fill="url(#cb)" stroke="#222" stroke-width="0.7"/>
<line x1="503" y1="489.8" x2="504.6" y2="489.8" stroke="#222" stroke-width="0.7"/>
<line x1="503" y1="455.1" x2="504.6" y2="455.1" stroke="#222" stroke-width="0.7"/>
<line x1="503" y1="420.4" x2="504.6" y2="420.4" stroke="#222" stroke-width="0.7"/>
<line x1="503" y1="385.7" x2="504.6" y2="385.7" stroke="#222" stroke-width="0.7"/>
<line x1="503" y1="351" x2="504.6" y2="351" stroke="#222" stroke-width="0.7"/>
</g>
<g filter="url(#bt)">
<text x="39.1" y="104.5" font-size="6.3" text-anchor="end" font-weight="normal" fill="#151515" stroke="#151515" stroke-width="0.16">0</text>
<text x="39.1" y="90.6" font-size="6.3" text-anchor="end" font-weight="normal" fill="#151515" stroke="#151515" stroke-width="0.16">1</text>
<text x="39.1" y="76.7" font-size="6.3" text-anchor="end" font-weight="normal" fill="#151515" stroke="#151515" stroke-width="0.16">2</text>
<text x="39.1" y="62.8" font-size="6.3" text-anchor="end" font-weight="normal" fill="#151515" stroke="#151515" stroke-width="0.16">3</text>
<text x="39.1" y="48.9" font-size="6.3" text-anchor="end" font-weight="normal" fill="#151515" stroke="#151515" stroke-width="0.16">4</text>
<text x="39.1" y="35" font-size="6.3" text-anchor="end" font-weight="normal" fill="#151515" stroke="#151515" stroke-width="0.16">5</text>
<text transform="translate(52.9 108.8) rotate(-90)" font-size="6.5" text-anchor="end" font-weight="normal" fill="#111" stroke="#111" stroke-width="0.16">CD34<tspan baseline-shift="super" font-size="70%">+</tspan>CD38<tspan baseline-shift="super" font-size="70%">+</tspan></text>
<text transform="translate(61.8 108.8) rotate(-90)" font-size="6.5" text-anchor="end" font-weight="normal" fill="#111" stroke="#111" stroke-width="0.16">CD34<tspan baseline-shift="super" font-size="70%">+</tspan>CD38<tspan baseline-shift="super" font-size="70%">−</tspan></text>
<text transform="translate(72.3 108.8) rotate(-90)" font-size="6.5" text-anchor="end" font-weight="normal" fill="#111" stroke="#111" stroke-width="0.16">CD34<tspan baseline-shift="super" font-size="70%">+</tspan>CD38<tspan baseline-shift="super" font-size="70%">+</tspan></text>
<text transform="translate(81.4 108.8) rotate(-90)" font-size="6.5" text-anchor="end" font-weight="normal" fill="#111" stroke="#111" stroke-width="0.16">CD34<tspan baseline-shift="super" font-size="70%">+</tspan>CD38<tspan baseline-shift="super" font-size="70%">−</tspan></text>
<text transform="translate(92.4 108.8) rotate(-90)" font-size="6.5" text-anchor="end" font-weight="normal" fill="#111" stroke="#111" stroke-width="0.16">CD34<tspan baseline-shift="super" font-size="70%">+</tspan>CD38<tspan baseline-shift="super" font-size="70%">+</tspan></text>
<text transform="translate(101.3 108.8) rotate(-90)" font-size="6.5" text-anchor="end" font-weight="normal" fill="#111" stroke="#111" stroke-width="0.16">CD34<tspan baseline-shift="super" font-size="70%">+</tspan>CD38<tspan baseline-shift="super" font-size="70%">−</tspan></text>
<text transform="translate(112.2 108.8) rotate(-90)" font-size="6.5" text-anchor="end" font-weight="normal" fill="#111" stroke="#111" stroke-width="0.16">CD34<tspan baseline-shift="super" font-size="70%">+</tspan>CD38<tspan baseline-shift="super" font-size="70%">+</tspan></text>
<text transform="translate(121.3 108.8) rotate(-90)" font-size="6.5" text-anchor="end" font-weight="normal" fill="#111" stroke="#111" stroke-width="0.16">CD34<tspan baseline-shift="super" font-size="70%">+</tspan>CD38<tspan baseline-shift="super" font-size="70%">−</tspan></text>
<text transform="translate(131.6 108.8) rotate(-90)" font-size="6.5" text-anchor="end" font-weight="normal" fill="#111" stroke="#111" stroke-width="0.16">CD34<tspan baseline-shift="super" font-size="70%">+</tspan>CD38<tspan baseline-shift="super" font-size="70%">+</tspan></text>
<text transform="translate(140.7 108.8) rotate(-90)" font-size="6.5" text-anchor="end" font-weight="normal" fill="#111" stroke="#111" stroke-width="0.16">CD34<tspan baseline-shift="super" font-size="70%">+</tspan>CD38<tspan baseline-shift="super" font-size="70%">−</tspan></text>
<text transform="translate(150.3 108.8) rotate(-90)" font-size="6.5" text-anchor="end" font-weight="normal" fill="#111" stroke="#111" stroke-width="0.16">CD34<tspan baseline-shift="super" font-size="70%">+</tspan>CD38<tspan baseline-shift="super" font-size="70%">+</tspan></text>
<text transform="translate(159.3 108.8) rotate(-90)" font-size="6.5" text-anchor="end" font-weight="normal" fill="#111" stroke="#111" stroke-width="0.16">CD34<tspan baseline-shift="super" font-size="70%">+</tspan>CD38<tspan baseline-shift="super" font-size="70%">−</tspan></text>
<text x="100.6" y="25.6" font-size="7.1" text-anchor="middle" font-weight="bold" fill="#111" stroke="#111" stroke-width="0.18">Healthy-CB</text>
<text transform="translate(18.4 65.6) rotate(-90) scale(0.85 1)" font-size="7.8" text-anchor="middle" font-weight="normal" fill="#151515" stroke="#151515" stroke-width="0.16">Caspase 3/7 activity</text>
<text transform="translate(28.7 65.6) rotate(-90) scale(0.92 1)" font-size="7.8" text-anchor="middle" font-weight="normal" fill="#151515" stroke="#151515" stroke-width="0.16">(fold induction)</text>
<text x="209.8" y="104.7" font-size="6.3" text-anchor="end" font-weight="normal" fill="#151515" stroke="#151515" stroke-width="0.16">0.0</text>
<text x="209.8" y="94.67" font-size="6.3" text-anchor="end" font-weight="normal" fill="#151515" stroke="#151515" stroke-width="0.16">0.5</text>
<text x="209.8" y="84.64" font-size="6.3" text-anchor="end" font-weight="normal" fill="#151515" stroke="#151515" stroke-width="0.16">1.0</text>
<text x="209.8" y="74.61" font-size="6.3" text-anchor="end" font-weight="normal" fill="#151515" stroke="#151515" stroke-width="0.16">1.5</text>
<text x="209.8" y="64.58" font-size="6.3" text-anchor="end" font-weight="normal" fill="#151515" stroke="#151515" stroke-width="0.16">2.0</text>
<text x="209.8" y="54.55" font-size="6.3" text-anchor="end" font-weight="normal" fill="#151515" stroke="#151515" stroke-width="0.16">2.5</text>
<text x="209.8" y="44.52" font-size="6.3" text-anchor="end" font-weight="normal" fill="#151515" stroke="#151515" stroke-width="0.16">3.0</text>
<text x="209.8" y="34.49" font-size="6.3" text-anchor="end" font-weight="normal" fill="#151515" stroke="#151515" stroke-width="0.16">3.5</text>
<text transform="translate(223.8 108.8) rotate(-90)" font-size="6.5" text-anchor="end" font-weight="normal" fill="#111" stroke="#111" stroke-width="0.16">CD34<tspan baseline-shift="super" font-size="70%">+</tspan>CD38<tspan baseline-shift="super" font-size="70%">+</tspan></text>
<text transform="translate(233 108.8) rotate(-90)" font-size="6.5" text-anchor="end" font-weight="normal" fill="#111" stroke="#111" stroke-width="0.16">CD34<tspan baseline-shift="super" font-size="70%">+</tspan>CD38<tspan baseline-shift="super" font-size="70%">−</tspan></text>
<text transform="translate(243.6 108.8) rotate(-90)" font-size="6.5" text-anchor="end" font-weight="normal" fill="#111" stroke="#111" stroke-width="0.16">CD34<tspan baseline-shift="super" font-size="70%">+</tspan>CD38<tspan baseline-shift="super" font-size="70%">+</tspan></text>
<text transform="translate(252.7 108.8) rotate(-90)" font-size="6.5" text-anchor="end" font-weight="normal" fill="#111" stroke="#111" stroke-width="0.16">CD34<tspan baseline-shift="super" font-size="70%">+</tspan>CD38<tspan baseline-shift="super" font-size="70%">−</tspan></text>
<text transform="translate(263.5 108.8) rotate(-90)" font-size="6.5" text-anchor="end" font-weight="normal" fill="#111" stroke="#111" stroke-width="0.16">CD34<tspan baseline-shift="super" font-size="70%">+</tspan>CD38<tspan baseline-shift="super" font-size="70%">+</tspan></text>
<text transform="translate(272.4 108.8) rotate(-90)" font-size="6.5" text-anchor="end" font-weight="normal" fill="#111" stroke="#111" stroke-width="0.16">CD34<tspan baseline-shift="super" font-size="70%">+</tspan>CD38<tspan baseline-shift="super" font-size="70%">−</tspan></text>
<text transform="translate(283.3 108.8) rotate(-90)" font-size="6.5" text-anchor="end" font-weight="normal" fill="#111" stroke="#111" stroke-width="0.16">CD34<tspan baseline-shift="super" font-size="70%">+</tspan>CD38<tspan baseline-shift="super" font-size="70%">+</tspan></text>
<text transform="translate(292.4 108.8) rotate(-90)" font-size="6.5" text-anchor="end" font-weight="normal" fill="#111" stroke="#111" stroke-width="0.16">CD34<tspan baseline-shift="super" font-size="70%">+</tspan>CD38<tspan baseline-shift="super" font-size="70%">−</tspan></text>
<text transform="translate(303.3 108.8) rotate(-90)" font-size="6.5" text-anchor="end" font-weight="normal" fill="#111" stroke="#111" stroke-width="0.16">CD34<tspan baseline-shift="super" font-size="70%">+</tspan>CD38<tspan baseline-shift="super" font-size="70%">+</tspan></text>
<text transform="translate(312.2 108.8) rotate(-90)" font-size="6.5" text-anchor="end" font-weight="normal" fill="#111" stroke="#111" stroke-width="0.16">CD34<tspan baseline-shift="super" font-size="70%">+</tspan>CD38<tspan baseline-shift="super" font-size="70%">−</tspan></text>
<text transform="translate(321.4 108.8) rotate(-90)" font-size="6.5" text-anchor="end" font-weight="normal" fill="#111" stroke="#111" stroke-width="0.16">CD34<tspan baseline-shift="super" font-size="70%">+</tspan>CD38<tspan baseline-shift="super" font-size="70%">+</tspan></text>
<text transform="translate(330.3 108.8) rotate(-90)" font-size="6.5" text-anchor="end" font-weight="normal" fill="#111" stroke="#111" stroke-width="0.16">CD34<tspan baseline-shift="super" font-size="70%">+</tspan>CD38<tspan baseline-shift="super" font-size="70%">−</tspan></text>
<text x="269.5" y="25.6" font-size="7.1" text-anchor="middle" font-weight="bold" fill="#111" stroke="#111" stroke-width="0.18">CML-1</text>
<text transform="translate(184.4 65.4) rotate(-90) scale(0.85 1)" font-size="7.8" text-anchor="middle" font-weight="normal" fill="#151515" stroke="#151515" stroke-width="0.16">Caspase 3/7 activity</text>
<text transform="translate(193 65.4) rotate(-90) scale(0.92 1)" font-size="7.8" text-anchor="middle" font-weight="normal" fill="#151515" stroke="#151515" stroke-width="0.16">(fold induction)</text>
<text x="381.1" y="104.5" font-size="6.3" text-anchor="end" font-weight="normal" fill="#151515" stroke="#151515" stroke-width="0.16">0.0</text>
<text x="381.1" y="93" font-size="6.3" text-anchor="end" font-weight="normal" fill="#151515" stroke="#151515" stroke-width="0.16">0.5</text>
<text x="381.1" y="81.5" font-size="6.3" text-anchor="end" font-weight="normal" fill="#151515" stroke="#151515" stroke-width="0.16">1.0</text>
<text x="381.1" y="70" font-size="6.3" text-anchor="end" font-weight="normal" fill="#151515" stroke="#151515" stroke-width="0.16">1.5</text>
<text x="381.1" y="58.5" font-size="6.3" text-anchor="end" font-weight="normal" fill="#151515" stroke="#151515" stroke-width="0.16">2.0</text>
<text x="381.1" y="47" font-size="6.3" text-anchor="end" font-weight="normal" fill="#151515" stroke="#151515" stroke-width="0.16">2.5</text>
<text x="381.1" y="35.5" font-size="6.3" text-anchor="end" font-weight="normal" fill="#151515" stroke="#151515" stroke-width="0.16">3.0</text>
<text transform="translate(395.1 108.8) rotate(-90)" font-size="6.5" text-anchor="end" font-weight="normal" fill="#111" stroke="#111" stroke-width="0.16">CD34<tspan baseline-shift="super" font-size="70%">+</tspan>CD38<tspan baseline-shift="super" font-size="70%">+</tspan></text>
<text transform="translate(404.1 108.8) rotate(-90)" font-size="6.5" text-anchor="end" font-weight="normal" fill="#111" stroke="#111" stroke-width="0.16">CD34<tspan baseline-shift="super" font-size="70%">+</tspan>CD38<tspan baseline-shift="super" font-size="70%">−</tspan></text>
<text transform="translate(414.6 108.8) rotate(-90)" font-size="6.5" text-anchor="end" font-weight="normal" fill="#111" stroke="#111" stroke-width="0.16">CD34<tspan baseline-shift="super" font-size="70%">+</tspan>CD38<tspan baseline-shift="super" font-size="70%">+</tspan></text>
<text transform="translate(423.7 108.8) rotate(-90)" font-size="6.5" text-anchor="end" font-weight="normal" fill="#111" stroke="#111" stroke-width="0.16">CD34<tspan baseline-shift="super" font-size="70%">+</tspan>CD38<tspan baseline-shift="super" font-size="70%">−</tspan></text>
<text transform="translate(434.5 108.8) rotate(-90)" font-size="6.5" text-anchor="end" font-weight="normal" fill="#111" stroke="#111" stroke-width="0.16">CD34<tspan baseline-shift="super" font-size="70%">+</tspan>CD38<tspan baseline-shift="super" font-size="70%">+</tspan></text>
<text transform="translate(443.5 108.8) rotate(-90)" font-size="6.5" text-anchor="end" font-weight="normal" fill="#111" stroke="#111" stroke-width="0.16">CD34<tspan baseline-shift="super" font-size="70%">+</tspan>CD38<tspan baseline-shift="super" font-size="70%">−</tspan></text>
<text transform="translate(454.4 108.8) rotate(-90)" font-size="6.5" text-anchor="end" font-weight="normal" fill="#111" stroke="#111" stroke-width="0.16">CD34<tspan baseline-shift="super" font-size="70%">+</tspan>CD38<tspan baseline-shift="super" font-size="70%">+</tspan></text>
<text transform="translate(463.4 108.8) rotate(-90)" font-size="6.5" text-anchor="end" font-weight="normal" fill="#111" stroke="#111" stroke-width="0.16">CD34<tspan baseline-shift="super" font-size="70%">+</tspan>CD38<tspan baseline-shift="super" font-size="70%">−</tspan></text>
<text transform="translate(474.2 108.8) rotate(-90)" font-size="6.5" text-anchor="end" font-weight="normal" fill="#111" stroke="#111" stroke-width="0.16">CD34<tspan baseline-shift="super" font-size="70%">+</tspan>CD38<tspan baseline-shift="super" font-size="70%">+</tspan></text>
<text transform="translate(483.3 108.8) rotate(-90)" font-size="6.5" text-anchor="end" font-weight="normal" fill="#111" stroke="#111" stroke-width="0.16">CD34<tspan baseline-shift="super" font-size="70%">+</tspan>CD38<tspan baseline-shift="super" font-size="70%">−</tspan></text>
<text transform="translate(492.3 108.8) rotate(-90)" font-size="6.5" text-anchor="end" font-weight="normal" fill="#111" stroke="#111" stroke-width="0.16">CD34<tspan baseline-shift="super" font-size="70%">+</tspan>CD38<tspan baseline-shift="super" font-size="70%">+</tspan></text>
<text transform="translate(501.4 108.8) rotate(-90)" font-size="6.5" text-anchor="end" font-weight="normal" fill="#111" stroke="#111" stroke-width="0.16">CD34<tspan baseline-shift="super" font-size="70%">+</tspan>CD38<tspan baseline-shift="super" font-size="70%">−</tspan></text>
<text x="440.5" y="25.6" font-size="7.1" text-anchor="middle" font-weight="bold" fill="#111" stroke="#111" stroke-width="0.18">BCR-ABL1<tspan baseline-shift="super" font-size="70%">+</tspan> BCP-ALL</text>
<text transform="translate(355.5 65.4) rotate(-90) scale(0.85 1)" font-size="7.8" text-anchor="middle" font-weight="normal" fill="#151515" stroke="#151515" stroke-width="0.16">Caspase 3/7 activity</text>
<text transform="translate(365.3 65.4) rotate(-90) scale(0.92 1)" font-size="7.8" text-anchor="middle" font-weight="normal" fill="#151515" stroke="#151515" stroke-width="0.16">(fold induction)</text>
<text x="129.5" y="163.9" font-size="6.3" text-anchor="start" font-weight="normal" fill="#151515" stroke="#151515" stroke-width="0.16">DMSO</text>
<text x="177.3" y="163.9" font-size="6.3" text-anchor="start" font-weight="normal" fill="#151515" stroke="#151515" stroke-width="0.16">6μM AX</text>
<text x="227.2" y="163.9" font-size="6.3" text-anchor="start" font-weight="normal" fill="#151515" stroke="#151515" stroke-width="0.16">12μm AX</text>
<text x="281.5" y="163.9" font-size="6.3" text-anchor="start" font-weight="normal" fill="#151515" stroke="#151515" stroke-width="0.16">1μm IM</text>
<text x="331" y="163.9" font-size="6.3" text-anchor="start" font-weight="normal" fill="#151515" stroke="#151515" stroke-width="0.16">0.3mM NB</text>
<text x="389.5" y="163.9" font-size="6.3" text-anchor="start" font-weight="normal" fill="#151515" stroke="#151515" stroke-width="0.16">20nM AUY922</text>
<text x="29.8" y="281.9" font-size="6.4" text-anchor="end" font-weight="normal" fill="#151515" stroke="#151515" stroke-width="0.16">0</text>
<text x="29.8" y="255.4" font-size="6.4" text-anchor="end" font-weight="normal" fill="#151515" stroke="#151515" stroke-width="0.16">100</text>
<text x="29.8" y="228.9" font-size="6.4" text-anchor="end" font-weight="normal" fill="#151515" stroke="#151515" stroke-width="0.16">200</text>
<text x="29.8" y="202.4" font-size="6.4" text-anchor="end" font-weight="normal" fill="#151515" stroke="#151515" stroke-width="0.16">300</text>
<text transform="translate(45 290.5) scale(0.92 1)" font-size="6.6" text-anchor="middle" font-weight="normal" fill="#111" stroke="#111" stroke-width="0.16">24h</text>
<text transform="translate(64.2 290.5) scale(0.92 1)" font-size="6.6" text-anchor="middle" font-weight="normal" fill="#111" stroke="#111" stroke-width="0.16">48h</text>
<text transform="translate(84 290.5) scale(0.92 1)" font-size="6.6" text-anchor="middle" font-weight="normal" fill="#111" stroke="#111" stroke-width="0.16">72h</text>
<text transform="translate(103.3 290.5) scale(0.92 1)" font-size="6.6" text-anchor="middle" font-weight="normal" fill="#111" stroke="#111" stroke-width="0.16">96h</text>
<text transform="translate(122.5 290.5) scale(0.92 1)" font-size="6.6" text-anchor="middle" font-weight="normal" fill="#111" stroke="#111" stroke-width="0.16">120h</text>
<text transform="translate(83.75 302.3) scale(0.8 1)" font-size="8.2" text-anchor="middle" font-weight="normal" fill="#151515" stroke="#151515" stroke-width="0.16">Time</text>
<text transform="translate(13.6 238.75) rotate(-90) scale(0.86 1)" font-size="7.7" text-anchor="middle" font-weight="normal" fill="#151515" stroke="#151515" stroke-width="0.16">Relative proliferation (%)</text>
<text x="84.5" y="192.8" font-size="7.7" text-anchor="middle" font-weight="bold" fill="#111" stroke="#111" stroke-width="0.18">Healthy-CB (CD34<tspan baseline-shift="super" font-size="70%">+</tspan>CD38<tspan baseline-shift="super" font-size="70%">+</tspan>)</text>
<text x="175.7" y="281.6" font-size="6.4" text-anchor="end" font-weight="normal" fill="#151515" stroke="#151515" stroke-width="0.16">0</text>
<text x="175.7" y="265.76" font-size="6.4" text-anchor="end" font-weight="normal" fill="#151515" stroke="#151515" stroke-width="0.16">50</text>
<text x="175.7" y="249.92" font-size="6.4" text-anchor="end" font-weight="normal" fill="#151515" stroke="#151515" stroke-width="0.16">100</text>
<text x="175.7" y="234.08" font-size="6.4" text-anchor="end" font-weight="normal" fill="#151515" stroke="#151515" stroke-width="0.16">150</text>
<text x="175.7" y="218.24" font-size="6.4" text-anchor="end" font-weight="normal" fill="#151515" stroke="#151515" stroke-width="0.16">200</text>
<text x="175.7" y="202.4" font-size="6.4" text-anchor="end" font-weight="normal" fill="#151515" stroke="#151515" stroke-width="0.16">250</text>
<text transform="translate(191 290.2) scale(0.92 1)" font-size="6.6" text-anchor="middle" font-weight="normal" fill="#111" stroke="#111" stroke-width="0.16">24h</text>
<text transform="translate(210.7 290.2) scale(0.92 1)" font-size="6.6" text-anchor="middle" font-weight="normal" fill="#111" stroke="#111" stroke-width="0.16">48h</text>
<text transform="translate(229.7 290.2) scale(0.92 1)" font-size="6.6" text-anchor="middle" font-weight="normal" fill="#111" stroke="#111" stroke-width="0.16">72h</text>
<text transform="translate(248.8 290.2) scale(0.92 1)" font-size="6.6" text-anchor="middle" font-weight="normal" fill="#111" stroke="#111" stroke-width="0.16">96h</text>
<text transform="translate(267.8 290.2) scale(0.92 1)" font-size="6.6" text-anchor="middle" font-weight="normal" fill="#111" stroke="#111" stroke-width="0.16">120h</text>
<text transform="translate(229.4 302) scale(0.8 1)" font-size="8.2" text-anchor="middle" font-weight="normal" fill="#151515" stroke="#151515" stroke-width="0.16">Time</text>
<text transform="translate(158.5 238.6) rotate(-90) scale(0.86 1)" font-size="7.7" text-anchor="middle" font-weight="normal" fill="#151515" stroke="#151515" stroke-width="0.16">Relative proliferation (%)</text>
<text x="229.7" y="192.8" font-size="7.7" text-anchor="middle" font-weight="bold" fill="#111" stroke="#111" stroke-width="0.18">Healthy-CB (CD34<tspan baseline-shift="super" font-size="70%">+</tspan>CD38<tspan baseline-shift="super" font-size="70%">−</tspan>)</text>
<text x="30" y="404.5" font-size="6.4" text-anchor="end" font-weight="normal" fill="#151515" stroke="#151515" stroke-width="0.16">0</text>
<text x="30" y="377.9" font-size="6.4" text-anchor="end" font-weight="normal" fill="#151515" stroke="#151515" stroke-width="0.16">100</text>
<text x="30" y="351.3" font-size="6.4" text-anchor="end" font-weight="normal" fill="#151515" stroke="#151515" stroke-width="0.16">200</text>
<text x="30" y="324.7" font-size="6.4" text-anchor="end" font-weight="normal" fill="#151515" stroke="#151515" stroke-width="0.16">300</text>
<text transform="translate(45.2 413.1) scale(0.92 1)" font-size="6.6" text-anchor="middle" font-weight="normal" fill="#111" stroke="#111" stroke-width="0.16">24h</text>
<text transform="translate(64.6 413.1) scale(0.92 1)" font-size="6.6" text-anchor="middle" font-weight="normal" fill="#111" stroke="#111" stroke-width="0.16">48h</text>
<text transform="translate(84.1 413.1) scale(0.92 1)" font-size="6.6" text-anchor="middle" font-weight="normal" fill="#111" stroke="#111" stroke-width="0.16">72h</text>
<text transform="translate(103.3 413.1) scale(0.92 1)" font-size="6.6" text-anchor="middle" font-weight="normal" fill="#111" stroke="#111" stroke-width="0.16">96h</text>
<text transform="translate(122.6 413.1) scale(0.92 1)" font-size="6.6" text-anchor="middle" font-weight="normal" fill="#111" stroke="#111" stroke-width="0.16">120h</text>
<text transform="translate(83.9 424.9) scale(0.8 1)" font-size="8.2" text-anchor="middle" font-weight="normal" fill="#151515" stroke="#151515" stroke-width="0.16">Time</text>
<text transform="translate(13.6 361.2) rotate(-90) scale(0.86 1)" font-size="7.7" text-anchor="middle" font-weight="normal" fill="#151515" stroke="#151515" stroke-width="0.16">Relative proliferation (%)</text>
<text x="83.5" y="315.3" font-size="7.7" text-anchor="middle" font-weight="bold" fill="#111" stroke="#111" stroke-width="0.18">CML-1 (CD34<tspan baseline-shift="super" font-size="70%">+</tspan>CD38<tspan baseline-shift="super" font-size="70%">+</tspan>)</text>
<text x="175.7" y="404.1" font-size="6.4" text-anchor="end" font-weight="normal" fill="#151515" stroke="#151515" stroke-width="0.16">0</text>
<text x="175.7" y="384.42" font-size="6.4" text-anchor="end" font-weight="normal" fill="#151515" stroke="#151515" stroke-width="0.16">50</text>
<text x="175.7" y="364.75" font-size="6.4" text-anchor="end" font-weight="normal" fill="#151515" stroke="#151515" stroke-width="0.16">100</text>
<text x="175.7" y="345.07" font-size="6.4" text-anchor="end" font-weight="normal" fill="#151515" stroke="#151515" stroke-width="0.16">150</text>
<text x="175.7" y="325.4" font-size="6.4" text-anchor="end" font-weight="normal" fill="#151515" stroke="#151515" stroke-width="0.16">200</text>
<text transform="translate(191 412.7) scale(0.92 1)" font-size="6.6" text-anchor="middle" font-weight="normal" fill="#111" stroke="#111" stroke-width="0.16">24h</text>
<text transform="translate(210.3 412.7) scale(0.92 1)" font-size="6.6" text-anchor="middle" font-weight="normal" fill="#111" stroke="#111" stroke-width="0.16">48h</text>
<text transform="translate(229.7 412.7) scale(0.92 1)" font-size="6.6" text-anchor="middle" font-weight="normal" fill="#111" stroke="#111" stroke-width="0.16">72h</text>
<text transform="translate(248.8 412.7) scale(0.92 1)" font-size="6.6" text-anchor="middle" font-weight="normal" fill="#111" stroke="#111" stroke-width="0.16">96h</text>
<text transform="translate(267.8 412.7) scale(0.92 1)" font-size="6.6" text-anchor="middle" font-weight="normal" fill="#111" stroke="#111" stroke-width="0.16">120h</text>
<text transform="translate(229.4 424.5) scale(0.8 1)" font-size="8.2" text-anchor="middle" font-weight="normal" fill="#151515" stroke="#151515" stroke-width="0.16">Time</text>
<text transform="translate(158.5 361.35) rotate(-90) scale(0.86 1)" font-size="7.7" text-anchor="middle" font-weight="normal" fill="#151515" stroke="#151515" stroke-width="0.16">Relative proliferation (%)</text>
<text x="230" y="315.6" font-size="7.7" text-anchor="middle" font-weight="bold" fill="#111" stroke="#111" stroke-width="0.18">CML-1 (CD34<tspan baseline-shift="super" font-size="70%">+</tspan>CD38<tspan baseline-shift="super" font-size="70%">−</tspan>)</text>
<text x="30.4" y="535.4" font-size="6.4" text-anchor="end" font-weight="normal" fill="#151515" stroke="#151515" stroke-width="0.16">0</text>
<text x="30.4" y="517.92" font-size="6.4" text-anchor="end" font-weight="normal" fill="#151515" stroke="#151515" stroke-width="0.16">100</text>
<text x="30.4" y="500.44" font-size="6.4" text-anchor="end" font-weight="normal" fill="#151515" stroke="#151515" stroke-width="0.16">200</text>
<text x="30.4" y="482.96" font-size="6.4" text-anchor="end" font-weight="normal" fill="#151515" stroke="#151515" stroke-width="0.16">300</text>
<text x="30.4" y="465.48" font-size="6.4" text-anchor="end" font-weight="normal" fill="#151515" stroke="#151515" stroke-width="0.16">400</text>
<text x="30.4" y="448" font-size="6.4" text-anchor="end" font-weight="normal" fill="#151515" stroke="#151515" stroke-width="0.16">500</text>
<text transform="translate(45.6 544) scale(0.92 1)" font-size="6.6" text-anchor="middle" font-weight="normal" fill="#111" stroke="#111" stroke-width="0.16">24h</text>
<text transform="translate(67.4 544) scale(0.92 1)" font-size="6.6" text-anchor="middle" font-weight="normal" fill="#111" stroke="#111" stroke-width="0.16">48h</text>
<text transform="translate(88.9 544) scale(0.92 1)" font-size="6.6" text-anchor="middle" font-weight="normal" fill="#111" stroke="#111" stroke-width="0.16">72h</text>
<text transform="translate(110.5 544) scale(0.92 1)" font-size="6.6" text-anchor="middle" font-weight="normal" fill="#111" stroke="#111" stroke-width="0.16">96h</text>
<text transform="translate(131.7 544) scale(0.92 1)" font-size="6.6" text-anchor="middle" font-weight="normal" fill="#111" stroke="#111" stroke-width="0.16">120h</text>
<text transform="translate(88.65 555.8) scale(0.8 1)" font-size="8.2" text-anchor="middle" font-weight="normal" fill="#151515" stroke="#151515" stroke-width="0.16">Time</text>
<text transform="translate(13.6 488.3) rotate(-90) scale(0.86 1)" font-size="7.7" text-anchor="middle" font-weight="normal" fill="#151515" stroke="#151515" stroke-width="0.16">Relative proliferation (%)</text>
<text x="88.5" y="438.6" font-size="7.1" text-anchor="middle" font-weight="bold" fill="#111" stroke="#111" stroke-width="0.18">Primary T-cells</text>
<text x="176.1" y="535" font-size="6.4" text-anchor="end" font-weight="normal" fill="#151515" stroke="#151515" stroke-width="0.16">0</text>
<text x="176.1" y="513.3" font-size="6.4" text-anchor="end" font-weight="normal" fill="#151515" stroke="#151515" stroke-width="0.16">50</text>
<text x="176.1" y="491.6" font-size="6.4" text-anchor="end" font-weight="normal" fill="#151515" stroke="#151515" stroke-width="0.16">100</text>
<text x="176.1" y="469.9" font-size="6.4" text-anchor="end" font-weight="normal" fill="#151515" stroke="#151515" stroke-width="0.16">150</text>
<text x="176.1" y="448.2" font-size="6.4" text-anchor="end" font-weight="normal" fill="#151515" stroke="#151515" stroke-width="0.16">200</text>
<text transform="translate(191.5 543.6) scale(0.92 1)" font-size="6.6" text-anchor="middle" font-weight="normal" fill="#111" stroke="#111" stroke-width="0.16">24h</text>
<text transform="translate(213.2 543.6) scale(0.92 1)" font-size="6.6" text-anchor="middle" font-weight="normal" fill="#111" stroke="#111" stroke-width="0.16">48h</text>
<text transform="translate(234.2 543.6) scale(0.92 1)" font-size="6.6" text-anchor="middle" font-weight="normal" fill="#111" stroke="#111" stroke-width="0.16">72h</text>
<text transform="translate(255.7 543.6) scale(0.92 1)" font-size="6.6" text-anchor="middle" font-weight="normal" fill="#111" stroke="#111" stroke-width="0.16">96h</text>
<text transform="translate(276.9 543.6) scale(0.92 1)" font-size="6.6" text-anchor="middle" font-weight="normal" fill="#111" stroke="#111" stroke-width="0.16">120h</text>
<text transform="translate(234.2 555.4) scale(0.8 1)" font-size="8.2" text-anchor="middle" font-weight="normal" fill="#151515" stroke="#151515" stroke-width="0.16">Time</text>
<text transform="translate(158.5 488.2) rotate(-90) scale(0.86 1)" font-size="7.7" text-anchor="middle" font-weight="normal" fill="#151515" stroke="#151515" stroke-width="0.16">Relative proliferation (%)</text>
<text x="234.3" y="438.7" font-size="7.1" text-anchor="middle" font-weight="bold" fill="#111" stroke="#111" stroke-width="0.18">Primary B-cells</text>
<text x="30.8" y="666.7" font-size="6.4" text-anchor="end" font-weight="normal" fill="#151515" stroke="#151515" stroke-width="0.16">0</text>
<text x="30.8" y="649.25" font-size="6.4" text-anchor="end" font-weight="normal" fill="#151515" stroke="#151515" stroke-width="0.16">50</text>
<text x="30.8" y="631.8" font-size="6.4" text-anchor="end" font-weight="normal" fill="#151515" stroke="#151515" stroke-width="0.16">100</text>
<text x="30.8" y="614.35" font-size="6.4" text-anchor="end" font-weight="normal" fill="#151515" stroke="#151515" stroke-width="0.16">150</text>
<text x="30.8" y="596.9" font-size="6.4" text-anchor="end" font-weight="normal" fill="#151515" stroke="#151515" stroke-width="0.16">200</text>
<text x="30.8" y="579.45" font-size="6.4" text-anchor="end" font-weight="normal" fill="#151515" stroke="#151515" stroke-width="0.16">250</text>
<text transform="translate(46.5 675.3) scale(0.92 1)" font-size="6.6" text-anchor="middle" font-weight="normal" fill="#111" stroke="#111" stroke-width="0.16">24h</text>
<text transform="translate(68.2 675.3) scale(0.92 1)" font-size="6.6" text-anchor="middle" font-weight="normal" fill="#111" stroke="#111" stroke-width="0.16">48h</text>
<text transform="translate(89.2 675.3) scale(0.92 1)" font-size="6.6" text-anchor="middle" font-weight="normal" fill="#111" stroke="#111" stroke-width="0.16">72h</text>
<text transform="translate(110.7 675.3) scale(0.92 1)" font-size="6.6" text-anchor="middle" font-weight="normal" fill="#111" stroke="#111" stroke-width="0.16">96h</text>
<text transform="translate(131.9 675.3) scale(0.92 1)" font-size="6.6" text-anchor="middle" font-weight="normal" fill="#111" stroke="#111" stroke-width="0.16">120h</text>
<text transform="translate(89.2 687.1) scale(0.8 1)" font-size="8.2" text-anchor="middle" font-weight="normal" fill="#151515" stroke="#151515" stroke-width="0.16">Time</text>
<text transform="translate(13.6 619.67) rotate(-90) scale(0.86 1)" font-size="7.7" text-anchor="middle" font-weight="normal" fill="#151515" stroke="#151515" stroke-width="0.16">Relative proliferation (%)</text>
<text x="89" y="570.8" font-size="7.3" text-anchor="middle" font-weight="bold" fill="#111" stroke="#111" stroke-width="0.18">Primary NK-cells</text>
<text x="211.8" y="597.5" font-size="6.3" text-anchor="start" font-weight="normal" fill="#151515" stroke="#151515" stroke-width="0.16">DMSO</text>
<text x="211.8" y="607.56" font-size="6.3" text-anchor="start" font-weight="normal" fill="#151515" stroke="#151515" stroke-width="0.16">6μM AX</text>
<text x="211.8" y="617.62" font-size="6.3" text-anchor="start" font-weight="normal" fill="#151515" stroke="#151515" stroke-width="0.16">12μm AX</text>
<text x="211.8" y="627.68" font-size="6.3" text-anchor="start" font-weight="normal" fill="#151515" stroke="#151515" stroke-width="0.16">1μm IM</text>
<text x="211.8" y="637.74" font-size="6.3" text-anchor="start" font-weight="normal" fill="#151515" stroke="#151515" stroke-width="0.16">0.3mM NB</text>
<text x="211.8" y="647.8" font-size="6.3" text-anchor="start" font-weight="normal" fill="#151515" stroke="#151515" stroke-width="0.16">20nM AUY922</text>
<text x="335.6" y="207.26" font-size="5.15" text-anchor="end" font-weight="normal" fill="#3a3a3a" stroke="none">GM-CSF</text>
<text x="335.6" y="214.17" font-size="5.15" text-anchor="end" font-weight="normal" fill="#3a3a3a" stroke="none">IFNγ</text>
<text x="335.6" y="221.09" font-size="5.15" text-anchor="end" font-weight="normal" fill="#3a3a3a" stroke="none">IL1β</text>
<text x="335.6" y="228" font-size="5.15" text-anchor="end" font-weight="normal" fill="#3a3a3a" stroke="none">IL12(p70)</text>
<text x="335.6" y="234.92" font-size="5.15" text-anchor="end" font-weight="normal" fill="#3a3a3a" stroke="none">IL13</text>
<text x="335.6" y="241.83" font-size="5.15" text-anchor="end" font-weight="normal" fill="#3a3a3a" stroke="none">IL18</text>
<text x="335.6" y="248.75" font-size="5.15" text-anchor="end" font-weight="normal" fill="#3a3a3a" stroke="none">IL2</text>
<text x="335.6" y="255.66" font-size="5.15" text-anchor="end" font-weight="normal" fill="#3a3a3a" stroke="none">IL4</text>
<text x="335.6" y="262.58" font-size="5.15" text-anchor="end" font-weight="normal" fill="#3a3a3a" stroke="none">IL5</text>
<text x="335.6" y="269.49" font-size="5.15" text-anchor="end" font-weight="normal" fill="#3a3a3a" stroke="none">IL6</text>
<text x="335.6" y="276.41" font-size="5.15" text-anchor="end" font-weight="normal" fill="#3a3a3a" stroke="none">TNFα</text>
<text x="335.6" y="283.32" font-size="5.15" text-anchor="end" font-weight="normal" fill="#3a3a3a" stroke="none">IL10</text>
<text x="335.6" y="290.24" font-size="5.15" text-anchor="end" font-weight="normal" fill="#3a3a3a" stroke="none">IL17A</text>
<text x="335.6" y="297.15" font-size="5.15" text-anchor="end" font-weight="normal" fill="#3a3a3a" stroke="none">IL22</text>
<text x="335.6" y="304.07" font-size="5.15" text-anchor="end" font-weight="normal" fill="#3a3a3a" stroke="none">IL9</text>
<text x="335.6" y="310.98" font-size="5.15" text-anchor="end" font-weight="normal" fill="#3a3a3a" stroke="none">IFNα</text>
<text x="335.6" y="317.9" font-size="5.15" text-anchor="end" font-weight="normal" fill="#3a3a3a" stroke="none">IL1α</text>
<text x="335.6" y="324.81" font-size="5.15" text-anchor="end" font-weight="normal" fill="#3a3a3a" stroke="none">IL1Ra</text>
<text x="335.6" y="331.73" font-size="5.15" text-anchor="end" font-weight="normal" fill="#3a3a3a" stroke="none">IL7</text>
<text x="335.6" y="338.64" font-size="5.15" text-anchor="end" font-weight="normal" fill="#3a3a3a" stroke="none">TNFβ</text>
<text transform="translate(481.2 267) rotate(90)" font-size="7" text-anchor="middle" font-weight="bold" fill="#111" stroke="#111" stroke-width="0.18">T cells</text>
<text x="335.6" y="348.63" font-size="5.15" text-anchor="end" font-weight="normal" fill="#3a3a3a" stroke="none">GM-CSF</text>
<text x="335.6" y="355.48" font-size="5.15" text-anchor="end" font-weight="normal" fill="#3a3a3a" stroke="none">IFNγ</text>
<text x="335.6" y="362.34" font-size="5.15" text-anchor="end" font-weight="normal" fill="#3a3a3a" stroke="none">IL1β</text>
<text x="335.6" y="369.19" font-size="5.15" text-anchor="end" font-weight="normal" fill="#3a3a3a" stroke="none">IL12(p70)</text>
<text x="335.6" y="376.05" font-size="5.15" text-anchor="end" font-weight="normal" fill="#3a3a3a" stroke="none">IL13</text>
<text x="335.6" y="382.9" font-size="5.15" text-anchor="end" font-weight="normal" fill="#3a3a3a" stroke="none">IL18</text>
<text x="335.6" y="389.76" font-size="5.15" text-anchor="end" font-weight="normal" fill="#3a3a3a" stroke="none">IL2</text>
<text x="335.6" y="396.61" font-size="5.15" text-anchor="end" font-weight="normal" fill="#3a3a3a" stroke="none">IL4</text>
<text x="335.6" y="403.47" font-size="5.15" text-anchor="end" font-weight="normal" fill="#3a3a3a" stroke="none">IL5</text>
<text x="335.6" y="410.32" font-size="5.15" text-anchor="end" font-weight="normal" fill="#3a3a3a" stroke="none">IL6</text>
<text x="335.6" y="417.18" font-size="5.15" text-anchor="end" font-weight="normal" fill="#3a3a3a" stroke="none">TNFα</text>
<text x="335.6" y="424.03" font-size="5.15" text-anchor="end" font-weight="normal" fill="#3a3a3a" stroke="none">IL10</text>
<text x="335.6" y="430.89" font-size="5.15" text-anchor="end" font-weight="normal" fill="#3a3a3a" stroke="none">IL17A</text>
<text x="335.6" y="437.74" font-size="5.15" text-anchor="end" font-weight="normal" fill="#3a3a3a" stroke="none">IL22</text>
<text x="335.6" y="444.6" font-size="5.15" text-anchor="end" font-weight="normal" fill="#3a3a3a" stroke="none">IL9</text>
<text x="335.6" y="451.45" font-size="5.15" text-anchor="end" font-weight="normal" fill="#3a3a3a" stroke="none">IFNα</text>
<text x="335.6" y="458.31" font-size="5.15" text-anchor="end" font-weight="normal" fill="#3a3a3a" stroke="none">IL1α</text>
<text x="335.6" y="465.16" font-size="5.15" text-anchor="end" font-weight="normal" fill="#3a3a3a" stroke="none">IL1Ra</text>
<text x="335.6" y="472.02" font-size="5.15" text-anchor="end" font-weight="normal" fill="#3a3a3a" stroke="none">IL7</text>
<text x="335.6" y="478.87" font-size="5.15" text-anchor="end" font-weight="normal" fill="#3a3a3a" stroke="none">TNFβ</text>
<text transform="translate(481.2 408.8) rotate(90)" font-size="7" text-anchor="middle" font-weight="bold" fill="#111" stroke="#111" stroke-width="0.18">NK cells</text>
<text x="335.6" y="490.47" font-size="5.15" text-anchor="end" font-weight="normal" fill="#3a3a3a" stroke="none">IL1β</text>
<text x="335.6" y="501.02" font-size="5.15" text-anchor="end" font-weight="normal" fill="#3a3a3a" stroke="none">IL12(p70)</text>
<text x="335.6" y="511.57" font-size="5.15" text-anchor="end" font-weight="normal" fill="#3a3a3a" stroke="none">IL13</text>
<text x="335.6" y="522.11" font-size="5.15" text-anchor="end" font-weight="normal" fill="#3a3a3a" stroke="none">IL18</text>
<text x="335.6" y="532.66" font-size="5.15" text-anchor="end" font-weight="normal" fill="#3a3a3a" stroke="none">IL2</text>
<text x="335.6" y="543.2" font-size="5.15" text-anchor="end" font-weight="normal" fill="#3a3a3a" stroke="none">IL5</text>
<text x="335.6" y="553.75" font-size="5.15" text-anchor="end" font-weight="normal" fill="#3a3a3a" stroke="none">IL6</text>
<text x="335.6" y="564.3" font-size="5.15" text-anchor="end" font-weight="normal" fill="#3a3a3a" stroke="none">TNFα</text>
<text x="335.6" y="574.84" font-size="5.15" text-anchor="end" font-weight="normal" fill="#3a3a3a" stroke="none">IL10</text>
<text x="335.6" y="585.39" font-size="5.15" text-anchor="end" font-weight="normal" fill="#3a3a3a" stroke="none">IL17A</text>
<text x="335.6" y="595.93" font-size="5.15" text-anchor="end" font-weight="normal" fill="#3a3a3a" stroke="none">IFNα</text>
<text x="335.6" y="606.48" font-size="5.15" text-anchor="end" font-weight="normal" fill="#3a3a3a" stroke="none">IL1Ra</text>
<text x="335.6" y="617.03" font-size="5.15" text-anchor="end" font-weight="normal" fill="#3a3a3a" stroke="none">IL7</text>
<text transform="translate(481.2 555) rotate(90)" font-size="7" text-anchor="middle" font-weight="bold" fill="#111" stroke="#111" stroke-width="0.18">B cells</text>
<text transform="translate(304.7 410.2) rotate(-90)" font-size="6.85" text-anchor="middle" font-weight="normal" fill="#151515" stroke="#151515" stroke-width="0.16">Relative fold difference compared to DMSO (pg/ml)</text>
<text transform="translate(352.7 624.6) rotate(-90)" font-size="7.5" text-anchor="end" font-weight="normal" fill="#2a2a2a" stroke="#2a2a2a" stroke-width="0.16">6μM AX</text>
<text transform="translate(380.4 624.6) rotate(-90)" font-size="7.5" text-anchor="end" font-weight="normal" fill="#2a2a2a" stroke="#2a2a2a" stroke-width="0.16">12μM AX</text>
<text transform="translate(409.2 624.6) rotate(-90)" font-size="7.5" text-anchor="end" font-weight="normal" fill="#2a2a2a" stroke="#2a2a2a" stroke-width="0.16">0.3 mM NB</text>
<text transform="translate(435.7 624.6) rotate(-90)" font-size="7.5" text-anchor="end" font-weight="normal" fill="#2a2a2a" stroke="#2a2a2a" stroke-width="0.16">20nM AUY922</text>
<text transform="translate(465.2 624.6) rotate(-90)" font-size="7.5" text-anchor="end" font-weight="normal" fill="#2a2a2a" stroke="#2a2a2a" stroke-width="0.16">1μM IM</text>
<text x="508" y="491.9" font-size="6" text-anchor="start" font-weight="normal" fill="#151515" stroke="#151515" stroke-width="0.16">0</text>
<text x="508" y="457.2" font-size="6" text-anchor="start" font-weight="normal" fill="#151515" stroke="#151515" stroke-width="0.16">1</text>
<text x="508" y="422.5" font-size="6" text-anchor="start" font-weight="normal" fill="#151515" stroke="#151515" stroke-width="0.16">2</text>
<text x="508" y="387.8" font-size="6" text-anchor="start" font-weight="normal" fill="#151515" stroke="#151515" stroke-width="0.16">3</text>
<text x="508" y="353.1" font-size="6" text-anchor="start" font-weight="normal" fill="#151515" stroke="#151515" stroke-width="0.16">4</text>
<text x="8" y="16.8" font-size="11.3" text-anchor="start" font-weight="bold" fill="#000" stroke="#000" stroke-width="0.5">A</text>
<text x="6" y="191.8" font-size="11.3" text-anchor="start" font-weight="bold" fill="#000" stroke="#000" stroke-width="0.5">B</text>
<text x="298.6" y="192.3" font-size="11.3" text-anchor="start" font-weight="bold" fill="#000" stroke="#000" stroke-width="0.5">C</text>
</g>
</svg>
<svg class="bd" width="520" height="695" viewBox="0 0 520 695">
<rect x="0" y="0" width="520" height="1.5" fill="#000"/>
<rect x="0" y="0" width="1.4" height="695" fill="#000"/>
<rect x="518.2" y="0" width="1.8" height="695" fill="#000"/>
<rect x="0" y="693.2" width="520" height="1.8" fill="#000"/>
</svg>
</body></html>
